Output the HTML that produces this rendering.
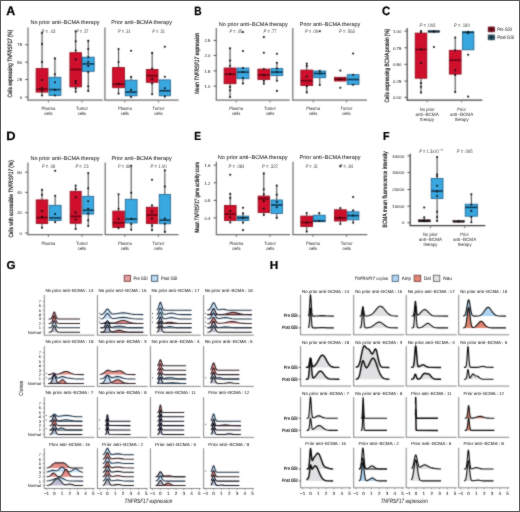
<!DOCTYPE html>
<html><head><meta charset="utf-8"><style>
html,body{margin:0;padding:0;background:#fff;}
body{width:520px;height:512px;overflow:hidden;}
svg{display:block;font-family:"Liberation Sans",sans-serif;text-rendering:geometricPrecision;}
text{stroke:#222;stroke-width:0.04px;paint-order:stroke;}
.pv{stroke:none;}
</style></head><body>
<svg width="520" height="512" viewBox="0 0 520 512">
<defs><filter id="soft" x="0" y="0" width="520" height="512" filterUnits="userSpaceOnUse" color-interpolation-filters="sRGB"><feConvolveMatrix order="3" kernelMatrix="0.04 0.08 0.04 0.08 0.52 0.08 0.04 0.08 0.04" edgeMode="duplicate" preserveAlpha="true"/></filter>
<filter id="softt" x="0" y="0" width="520" height="512" filterUnits="userSpaceOnUse" color-interpolation-filters="sRGB"><feConvolveMatrix order="3" kernelMatrix="0.025 0.05 0.025 0.05 0.7 0.05 0.025 0.05 0.025" edgeMode="none" preserveAlpha="false"/></filter></defs>
<g filter="url(#soft)">
<rect x="0" y="0" width="520" height="512" fill="#fff"/>
<line x1="28.00" y1="27.50" x2="28.00" y2="100.20" stroke="#6e6e6e" stroke-width="1.2" />
<line x1="27.40" y1="100.20" x2="102.80" y2="100.20" stroke="#6e6e6e" stroke-width="1.2" />
<line x1="104.90" y1="27.50" x2="104.90" y2="100.20" stroke="#6e6e6e" stroke-width="1.2" />
<line x1="104.30" y1="100.20" x2="178.70" y2="100.20" stroke="#6e6e6e" stroke-width="1.2" />
<line x1="25.20" y1="44.70" x2="28.00" y2="44.70" stroke="#444" stroke-width="0.9" />
<line x1="25.20" y1="62.20" x2="28.00" y2="62.20" stroke="#444" stroke-width="0.9" />
<line x1="25.20" y1="79.50" x2="28.00" y2="79.50" stroke="#444" stroke-width="0.9" />
<line x1="25.20" y1="97.10" x2="28.00" y2="97.10" stroke="#444" stroke-width="0.9" />
<line x1="48.40" y1="100.20" x2="48.40" y2="102.60" stroke="#6e6e6e" stroke-width="0.9" />
<line x1="82.00" y1="100.20" x2="82.00" y2="102.60" stroke="#6e6e6e" stroke-width="0.9" />
<line x1="124.80" y1="100.20" x2="124.80" y2="102.60" stroke="#6e6e6e" stroke-width="0.9" />
<line x1="158.40" y1="100.20" x2="158.40" y2="102.60" stroke="#6e6e6e" stroke-width="0.9" />
<line x1="42.05" y1="32.70" x2="42.05" y2="68.60" stroke="#2a2a2a" stroke-width="0.9" />
<line x1="42.05" y1="92.10" x2="42.05" y2="95.50" stroke="#2a2a2a" stroke-width="0.9" />
<rect x="36.10" y="68.60" width="11.90" height="23.50" fill="#cf0f2c" stroke="#8a0818" stroke-width="0.8" />
<line x1="36.10" y1="89.10" x2="48.00" y2="89.10" stroke="#6a0412" stroke-width="1.6" />
<circle cx="42.05" cy="32.70" r="1.05" fill="#111"/>
<circle cx="42.05" cy="44.10" r="1.05" fill="#111"/>
<circle cx="42.05" cy="62.10" r="1.05" fill="#111"/>
<circle cx="42.05" cy="80.00" r="1.05" fill="#111"/>
<circle cx="42.05" cy="88.00" r="1.05" fill="#111"/>
<circle cx="42.05" cy="91.00" r="1.05" fill="#111"/>
<circle cx="42.05" cy="95.50" r="1.05" fill="#111"/>
<line x1="54.95" y1="58.40" x2="54.95" y2="77.30" stroke="#2a2a2a" stroke-width="0.9" />
<line x1="54.95" y1="95.50" x2="54.95" y2="95.50" stroke="#2a2a2a" stroke-width="0.9" />
<rect x="49.00" y="77.30" width="11.90" height="18.20" fill="#3aa8e0" stroke="#1a5f8a" stroke-width="0.8" />
<line x1="49.00" y1="89.60" x2="60.90" y2="89.60" stroke="#0f3550" stroke-width="1.6" />
<circle cx="54.95" cy="58.40" r="1.05" fill="#111"/>
<circle cx="54.95" cy="74.30" r="1.05" fill="#111"/>
<circle cx="54.95" cy="82.20" r="1.05" fill="#111"/>
<circle cx="54.95" cy="89.90" r="1.05" fill="#111"/>
<circle cx="54.95" cy="95.50" r="1.05" fill="#111"/>
<line x1="75.70" y1="31.20" x2="75.70" y2="52.70" stroke="#2a2a2a" stroke-width="0.9" />
<line x1="75.70" y1="86.90" x2="75.70" y2="91.80" stroke="#2a2a2a" stroke-width="0.9" />
<rect x="69.90" y="52.70" width="11.60" height="34.20" fill="#cf0f2c" stroke="#8a0818" stroke-width="0.8" />
<line x1="69.90" y1="69.50" x2="81.50" y2="69.50" stroke="#6a0412" stroke-width="1.6" />
<circle cx="75.70" cy="31.20" r="1.05" fill="#111"/>
<circle cx="75.70" cy="41.20" r="1.05" fill="#111"/>
<circle cx="75.70" cy="50.50" r="1.05" fill="#111"/>
<circle cx="75.70" cy="59.40" r="1.05" fill="#111"/>
<circle cx="75.70" cy="81.00" r="1.05" fill="#111"/>
<circle cx="75.70" cy="83.20" r="1.05" fill="#111"/>
<circle cx="75.70" cy="88.40" r="1.05" fill="#111"/>
<circle cx="75.70" cy="91.80" r="1.05" fill="#111"/>
<line x1="88.25" y1="40.90" x2="88.25" y2="57.20" stroke="#2a2a2a" stroke-width="0.9" />
<line x1="88.25" y1="71.30" x2="88.25" y2="90.90" stroke="#2a2a2a" stroke-width="0.9" />
<rect x="82.30" y="57.20" width="11.90" height="14.10" fill="#3aa8e0" stroke="#1a5f8a" stroke-width="0.8" />
<line x1="82.30" y1="63.90" x2="94.20" y2="63.90" stroke="#0f3550" stroke-width="1.6" />
<circle cx="88.25" cy="40.90" r="1.05" fill="#111"/>
<circle cx="88.25" cy="49.00" r="1.05" fill="#111"/>
<circle cx="88.25" cy="57.20" r="1.05" fill="#111"/>
<circle cx="88.25" cy="61.70" r="1.05" fill="#111"/>
<circle cx="88.25" cy="66.10" r="1.05" fill="#111"/>
<circle cx="88.25" cy="72.00" r="1.05" fill="#111"/>
<circle cx="88.25" cy="86.20" r="1.05" fill="#111"/>
<circle cx="88.25" cy="90.90" r="1.05" fill="#111"/>
<line x1="118.55" y1="49.00" x2="118.55" y2="67.60" stroke="#2a2a2a" stroke-width="0.9" />
<line x1="118.55" y1="87.70" x2="118.55" y2="93.60" stroke="#2a2a2a" stroke-width="0.9" />
<rect x="112.60" y="67.60" width="11.90" height="20.10" fill="#cf0f2c" stroke="#8a0818" stroke-width="0.8" />
<line x1="112.60" y1="84.20" x2="124.50" y2="84.20" stroke="#6a0412" stroke-width="1.6" />
<circle cx="118.55" cy="49.00" r="1.05" fill="#111"/>
<circle cx="118.55" cy="62.10" r="1.05" fill="#111"/>
<circle cx="118.55" cy="84.00" r="1.05" fill="#111"/>
<circle cx="118.55" cy="93.60" r="1.05" fill="#111"/>
<line x1="131.10" y1="76.80" x2="131.10" y2="80.20" stroke="#2a2a2a" stroke-width="0.9" />
<line x1="131.10" y1="95.80" x2="131.10" y2="97.00" stroke="#2a2a2a" stroke-width="0.9" />
<rect x="125.20" y="80.20" width="11.80" height="15.60" fill="#3aa8e0" stroke="#1a5f8a" stroke-width="0.8" />
<line x1="125.20" y1="92.10" x2="137.00" y2="92.10" stroke="#0f3550" stroke-width="1.6" />
<circle cx="131.10" cy="50.80" r="1.05" fill="#111"/>
<circle cx="131.10" cy="76.80" r="1.05" fill="#111"/>
<circle cx="131.10" cy="89.90" r="1.05" fill="#111"/>
<circle cx="131.10" cy="97.00" r="1.05" fill="#111"/>
<line x1="152.15" y1="52.90" x2="152.15" y2="69.40" stroke="#2a2a2a" stroke-width="0.9" />
<line x1="152.15" y1="82.30" x2="152.15" y2="94.30" stroke="#2a2a2a" stroke-width="0.9" />
<rect x="146.30" y="69.40" width="11.70" height="12.90" fill="#cf0f2c" stroke="#8a0818" stroke-width="0.8" />
<line x1="146.30" y1="75.70" x2="158.00" y2="75.70" stroke="#6a0412" stroke-width="1.6" />
<circle cx="152.15" cy="52.90" r="1.05" fill="#111"/>
<circle cx="152.15" cy="68.50" r="1.05" fill="#111"/>
<circle cx="152.15" cy="79.10" r="1.05" fill="#111"/>
<circle cx="152.15" cy="83.50" r="1.05" fill="#111"/>
<circle cx="152.15" cy="94.30" r="1.05" fill="#111"/>
<line x1="164.85" y1="79.90" x2="164.85" y2="79.90" stroke="#2a2a2a" stroke-width="0.9" />
<line x1="164.85" y1="95.80" x2="164.85" y2="96.60" stroke="#2a2a2a" stroke-width="0.9" />
<rect x="159.20" y="79.90" width="11.30" height="15.90" fill="#3aa8e0" stroke="#1a5f8a" stroke-width="0.8" />
<line x1="159.20" y1="90.80" x2="170.50" y2="90.80" stroke="#0f3550" stroke-width="1.6" />
<circle cx="164.85" cy="46.80" r="1.05" fill="#111"/>
<circle cx="164.85" cy="76.80" r="1.05" fill="#111"/>
<circle cx="164.85" cy="88.20" r="1.05" fill="#111"/>
<circle cx="164.85" cy="96.60" r="1.05" fill="#111"/>
<line x1="216.30" y1="28.00" x2="216.30" y2="100.10" stroke="#6e6e6e" stroke-width="1.2" />
<line x1="215.70" y1="100.10" x2="289.80" y2="100.10" stroke="#6e6e6e" stroke-width="1.2" />
<line x1="292.80" y1="28.00" x2="292.80" y2="100.10" stroke="#6e6e6e" stroke-width="1.2" />
<line x1="292.20" y1="100.10" x2="366.90" y2="100.10" stroke="#6e6e6e" stroke-width="1.2" />
<line x1="213.50" y1="40.40" x2="216.30" y2="40.40" stroke="#444" stroke-width="0.9" />
<line x1="213.50" y1="55.50" x2="216.30" y2="55.50" stroke="#444" stroke-width="0.9" />
<line x1="213.50" y1="70.90" x2="216.30" y2="70.90" stroke="#444" stroke-width="0.9" />
<line x1="213.50" y1="86.10" x2="216.30" y2="86.10" stroke="#444" stroke-width="0.9" />
<line x1="236.20" y1="100.10" x2="236.20" y2="102.50" stroke="#6e6e6e" stroke-width="0.9" />
<line x1="270.10" y1="100.10" x2="270.10" y2="102.50" stroke="#6e6e6e" stroke-width="0.9" />
<line x1="313.20" y1="100.10" x2="313.20" y2="102.50" stroke="#6e6e6e" stroke-width="0.9" />
<line x1="346.40" y1="100.10" x2="346.40" y2="102.50" stroke="#6e6e6e" stroke-width="0.9" />
<line x1="230.05" y1="48.30" x2="230.05" y2="68.00" stroke="#2a2a2a" stroke-width="0.9" />
<line x1="230.05" y1="83.70" x2="230.05" y2="97.00" stroke="#2a2a2a" stroke-width="0.9" />
<rect x="224.10" y="68.00" width="11.90" height="15.70" fill="#cf0f2c" stroke="#8a0818" stroke-width="0.8" />
<line x1="224.10" y1="74.30" x2="236.00" y2="74.30" stroke="#6a0412" stroke-width="1.6" />
<circle cx="230.05" cy="48.30" r="1.05" fill="#111"/>
<circle cx="230.05" cy="60.50" r="1.05" fill="#111"/>
<circle cx="230.05" cy="65.80" r="1.05" fill="#111"/>
<circle cx="230.05" cy="74.00" r="1.05" fill="#111"/>
<circle cx="230.05" cy="86.90" r="1.05" fill="#111"/>
<circle cx="230.05" cy="90.20" r="1.05" fill="#111"/>
<circle cx="230.05" cy="97.00" r="1.05" fill="#111"/>
<line x1="242.95" y1="67.30" x2="242.95" y2="68.00" stroke="#2a2a2a" stroke-width="0.9" />
<line x1="242.95" y1="78.70" x2="242.95" y2="83.50" stroke="#2a2a2a" stroke-width="0.9" />
<rect x="237.00" y="68.00" width="11.90" height="10.70" fill="#3aa8e0" stroke="#1a5f8a" stroke-width="0.8" />
<line x1="237.00" y1="72.10" x2="248.90" y2="72.10" stroke="#0f3550" stroke-width="1.6" />
<circle cx="242.95" cy="32.00" r="1.05" fill="#111"/>
<circle cx="242.95" cy="51.00" r="1.05" fill="#111"/>
<circle cx="242.95" cy="68.00" r="1.05" fill="#111"/>
<circle cx="242.95" cy="72.00" r="1.05" fill="#111"/>
<circle cx="242.95" cy="78.00" r="1.05" fill="#111"/>
<circle cx="242.95" cy="83.50" r="1.05" fill="#111"/>
<line x1="263.85" y1="69.10" x2="263.85" y2="69.10" stroke="#2a2a2a" stroke-width="0.9" />
<line x1="263.85" y1="79.50" x2="263.85" y2="83.70" stroke="#2a2a2a" stroke-width="0.9" />
<rect x="257.90" y="69.10" width="11.90" height="10.40" fill="#cf0f2c" stroke="#8a0818" stroke-width="0.8" />
<line x1="257.90" y1="75.00" x2="269.80" y2="75.00" stroke="#6a0412" stroke-width="1.6" />
<circle cx="263.85" cy="37.10" r="1.05" fill="#111"/>
<circle cx="263.85" cy="52.70" r="1.05" fill="#111"/>
<circle cx="263.85" cy="69.10" r="1.05" fill="#111"/>
<circle cx="263.85" cy="75.00" r="1.05" fill="#111"/>
<circle cx="263.85" cy="81.00" r="1.05" fill="#111"/>
<circle cx="263.85" cy="83.70" r="1.05" fill="#111"/>
<line x1="276.90" y1="62.80" x2="276.90" y2="68.60" stroke="#2a2a2a" stroke-width="0.9" />
<line x1="276.90" y1="75.50" x2="276.90" y2="80.70" stroke="#2a2a2a" stroke-width="0.9" />
<rect x="271.00" y="68.60" width="11.80" height="6.90" fill="#3aa8e0" stroke="#1a5f8a" stroke-width="0.8" />
<line x1="271.00" y1="72.10" x2="282.80" y2="72.10" stroke="#0f3550" stroke-width="1.6" />
<circle cx="276.90" cy="53.80" r="1.05" fill="#111"/>
<circle cx="276.90" cy="62.80" r="1.05" fill="#111"/>
<circle cx="276.90" cy="68.60" r="1.05" fill="#111"/>
<circle cx="276.90" cy="72.10" r="1.05" fill="#111"/>
<circle cx="276.90" cy="80.70" r="1.05" fill="#111"/>
<circle cx="276.90" cy="90.90" r="1.05" fill="#111"/>
<line x1="306.75" y1="63.60" x2="306.75" y2="70.10" stroke="#2a2a2a" stroke-width="0.9" />
<line x1="306.75" y1="85.40" x2="306.75" y2="92.40" stroke="#2a2a2a" stroke-width="0.9" />
<rect x="300.80" y="70.10" width="11.90" height="15.30" fill="#cf0f2c" stroke="#8a0818" stroke-width="0.8" />
<line x1="300.80" y1="80.70" x2="312.70" y2="80.70" stroke="#6a0412" stroke-width="1.6" />
<circle cx="306.75" cy="63.60" r="1.05" fill="#111"/>
<circle cx="306.75" cy="66.10" r="1.05" fill="#111"/>
<circle cx="306.75" cy="76.50" r="1.05" fill="#111"/>
<circle cx="306.75" cy="86.20" r="1.05" fill="#111"/>
<circle cx="306.75" cy="92.40" r="1.05" fill="#111"/>
<line x1="319.75" y1="69.80" x2="319.75" y2="71.00" stroke="#2a2a2a" stroke-width="0.9" />
<line x1="319.75" y1="77.70" x2="319.75" y2="85.00" stroke="#2a2a2a" stroke-width="0.9" />
<rect x="313.80" y="71.00" width="11.90" height="6.70" fill="#3aa8e0" stroke="#1a5f8a" stroke-width="0.8" />
<line x1="313.80" y1="73.50" x2="325.70" y2="73.50" stroke="#0f3550" stroke-width="1.6" />
<circle cx="319.75" cy="31.20" r="1.05" fill="#111"/>
<circle cx="319.75" cy="71.00" r="1.05" fill="#111"/>
<circle cx="319.75" cy="73.50" r="1.05" fill="#111"/>
<circle cx="319.75" cy="85.00" r="1.05" fill="#111"/>
<line x1="340.30" y1="77.30" x2="340.30" y2="77.30" stroke="#2a2a2a" stroke-width="0.9" />
<line x1="340.30" y1="81.00" x2="340.30" y2="81.00" stroke="#2a2a2a" stroke-width="0.9" />
<rect x="334.50" y="77.30" width="11.60" height="3.70" fill="#cf0f2c" stroke="#8a0818" stroke-width="0.8" />
<line x1="334.50" y1="79.20" x2="346.10" y2="79.20" stroke="#6a0412" stroke-width="1.6" />
<circle cx="340.30" cy="70.60" r="1.05" fill="#111"/>
<circle cx="340.30" cy="79.20" r="1.05" fill="#111"/>
<circle cx="340.30" cy="87.70" r="1.05" fill="#111"/>
<line x1="353.10" y1="74.70" x2="353.10" y2="74.70" stroke="#2a2a2a" stroke-width="0.9" />
<line x1="353.10" y1="84.40" x2="353.10" y2="84.40" stroke="#2a2a2a" stroke-width="0.9" />
<rect x="347.20" y="74.70" width="11.80" height="9.70" fill="#3aa8e0" stroke="#1a5f8a" stroke-width="0.8" />
<line x1="347.20" y1="79.50" x2="359.00" y2="79.50" stroke="#0f3550" stroke-width="1.6" />
<circle cx="353.10" cy="53.50" r="1.05" fill="#111"/>
<circle cx="353.10" cy="74.70" r="1.05" fill="#111"/>
<circle cx="353.10" cy="84.70" r="1.05" fill="#111"/>
<line x1="407.20" y1="27.90" x2="407.20" y2="100.20" stroke="#444" stroke-width="1.2" />
<line x1="406.60" y1="100.20" x2="482.30" y2="100.20" stroke="#444" stroke-width="1.2" />
<line x1="404.40" y1="31.10" x2="407.20" y2="31.10" stroke="#444" stroke-width="0.9" />
<line x1="404.40" y1="47.80" x2="407.20" y2="47.80" stroke="#444" stroke-width="0.9" />
<line x1="404.40" y1="64.40" x2="407.20" y2="64.40" stroke="#444" stroke-width="0.9" />
<line x1="404.40" y1="81.10" x2="407.20" y2="81.10" stroke="#444" stroke-width="0.9" />
<line x1="404.40" y1="97.40" x2="407.20" y2="97.40" stroke="#444" stroke-width="0.9" />
<line x1="427.10" y1="100.00" x2="427.10" y2="102.40" stroke="#6e6e6e" stroke-width="0.9" />
<line x1="461.60" y1="100.00" x2="461.60" y2="102.40" stroke="#6e6e6e" stroke-width="0.9" />
<line x1="421.00" y1="31.10" x2="421.00" y2="33.10" stroke="#2a2a2a" stroke-width="0.9" />
<line x1="421.00" y1="78.20" x2="421.00" y2="92.60" stroke="#2a2a2a" stroke-width="0.9" />
<rect x="415.20" y="33.10" width="11.60" height="45.10" fill="#cf0f2c" stroke="#8a0818" stroke-width="0.8" />
<line x1="415.20" y1="49.50" x2="426.80" y2="49.50" stroke="#6a0412" stroke-width="1.6" />
<circle cx="421.00" cy="31.10" r="1.05" fill="#111"/>
<circle cx="421.00" cy="32.00" r="1.05" fill="#111"/>
<circle cx="421.00" cy="49.20" r="1.05" fill="#111"/>
<circle cx="421.00" cy="63.00" r="1.05" fill="#111"/>
<circle cx="421.00" cy="83.10" r="1.05" fill="#111"/>
<circle cx="421.00" cy="86.70" r="1.05" fill="#111"/>
<circle cx="421.00" cy="92.60" r="1.05" fill="#111"/>
<rect x="428.00" y="30.60" width="11.80" height="1.80" fill="#0d2535" stroke="#0d2535" stroke-width="0.4" />
<circle cx="433.90" cy="31.50" r="1.2" fill="#111"/>
<circle cx="433.90" cy="47.00" r="1.05" fill="#111"/>
<line x1="455.20" y1="37.50" x2="455.20" y2="50.30" stroke="#2a2a2a" stroke-width="0.9" />
<line x1="455.20" y1="74.10" x2="455.20" y2="92.10" stroke="#2a2a2a" stroke-width="0.9" />
<rect x="449.30" y="50.30" width="11.80" height="23.80" fill="#cf0f2c" stroke="#8a0818" stroke-width="0.8" />
<line x1="449.30" y1="60.20" x2="461.10" y2="60.20" stroke="#6a0412" stroke-width="1.6" />
<circle cx="455.20" cy="37.50" r="1.05" fill="#111"/>
<circle cx="455.20" cy="50.30" r="1.05" fill="#111"/>
<circle cx="455.20" cy="70.30" r="1.05" fill="#111"/>
<circle cx="455.20" cy="74.90" r="1.05" fill="#111"/>
<circle cx="455.20" cy="92.10" r="1.05" fill="#111"/>
<line x1="468.15" y1="31.80" x2="468.15" y2="31.80" stroke="#2a2a2a" stroke-width="0.9" />
<line x1="468.15" y1="49.80" x2="468.15" y2="49.80" stroke="#2a2a2a" stroke-width="0.9" />
<rect x="462.40" y="31.80" width="11.50" height="18.00" fill="#3aa8e0" stroke="#1a5f8a" stroke-width="0.8" />
<line x1="462.40" y1="32.30" x2="473.90" y2="32.30" stroke="#0f3550" stroke-width="1.6" />
<circle cx="468.15" cy="33.10" r="1.05" fill="#111"/>
<circle cx="468.15" cy="31.80" r="1.05" fill="#111"/>
<circle cx="468.15" cy="54.80" r="1.05" fill="#111"/>
<circle cx="468.15" cy="96.60" r="1.05" fill="#111"/>
<rect x="488.20" y="27.00" width="6.30" height="4.80" fill="#8c1424" stroke="#5a0a14" stroke-width="0.7" />
<line x1="491.35" y1="26.60" x2="491.35" y2="32.20" stroke="#300" stroke-width="0.6" />
<line x1="488.20" y1="29.40" x2="494.50" y2="29.40" stroke="#4a0610" stroke-width="1.0" />
<rect x="488.20" y="35.00" width="6.30" height="4.80" fill="#2f6678" stroke="#183848" stroke-width="0.7" />
<line x1="491.35" y1="34.60" x2="491.35" y2="40.20" stroke="#0a1a22" stroke-width="0.6" />
<line x1="488.20" y1="37.40" x2="494.50" y2="37.40" stroke="#0f2a38" stroke-width="1.0" />
<circle cx="491.35" cy="37.40" r="0.8" fill="#111"/>
<line x1="27.90" y1="162.60" x2="27.90" y2="234.70" stroke="#6e6e6e" stroke-width="1.2" />
<line x1="27.30" y1="234.70" x2="102.80" y2="234.70" stroke="#6e6e6e" stroke-width="1.2" />
<line x1="105.20" y1="162.60" x2="105.20" y2="234.70" stroke="#6e6e6e" stroke-width="1.2" />
<line x1="104.60" y1="234.70" x2="178.50" y2="234.70" stroke="#6e6e6e" stroke-width="1.2" />
<line x1="25.10" y1="172.20" x2="27.90" y2="172.20" stroke="#444" stroke-width="0.9" />
<line x1="25.10" y1="192.40" x2="27.90" y2="192.40" stroke="#444" stroke-width="0.9" />
<line x1="25.10" y1="212.70" x2="27.90" y2="212.70" stroke="#444" stroke-width="0.9" />
<line x1="25.10" y1="233.00" x2="27.90" y2="233.00" stroke="#444" stroke-width="0.9" />
<line x1="48.40" y1="234.70" x2="48.40" y2="237.10" stroke="#6e6e6e" stroke-width="0.9" />
<line x1="82.00" y1="234.70" x2="82.00" y2="237.10" stroke="#6e6e6e" stroke-width="0.9" />
<line x1="124.80" y1="234.70" x2="124.80" y2="237.10" stroke="#6e6e6e" stroke-width="0.9" />
<line x1="158.40" y1="234.70" x2="158.40" y2="237.10" stroke="#6e6e6e" stroke-width="0.9" />
<line x1="42.00" y1="189.70" x2="42.00" y2="199.90" stroke="#2a2a2a" stroke-width="0.9" />
<line x1="42.00" y1="223.60" x2="42.00" y2="227.80" stroke="#2a2a2a" stroke-width="0.9" />
<rect x="36.20" y="199.90" width="11.60" height="23.70" fill="#cf0f2c" stroke="#8a0818" stroke-width="0.8" />
<line x1="36.20" y1="217.60" x2="47.80" y2="217.60" stroke="#6a0412" stroke-width="1.6" />
<circle cx="42.00" cy="189.70" r="1.05" fill="#111"/>
<circle cx="42.00" cy="194.80" r="1.05" fill="#111"/>
<circle cx="42.00" cy="211.10" r="1.05" fill="#111"/>
<circle cx="42.00" cy="216.70" r="1.05" fill="#111"/>
<circle cx="42.00" cy="227.80" r="1.05" fill="#111"/>
<line x1="55.15" y1="195.80" x2="55.15" y2="205.30" stroke="#2a2a2a" stroke-width="0.9" />
<line x1="55.15" y1="220.50" x2="55.15" y2="222.20" stroke="#2a2a2a" stroke-width="0.9" />
<rect x="49.20" y="205.30" width="11.90" height="15.20" fill="#3aa8e0" stroke="#1a5f8a" stroke-width="0.8" />
<line x1="49.20" y1="217.90" x2="61.10" y2="217.90" stroke="#0f3550" stroke-width="1.6" />
<circle cx="55.15" cy="170.70" r="1.05" fill="#111"/>
<circle cx="55.15" cy="195.80" r="1.05" fill="#111"/>
<circle cx="55.15" cy="214.10" r="1.05" fill="#111"/>
<circle cx="55.15" cy="222.20" r="1.05" fill="#111"/>
<line x1="75.65" y1="185.60" x2="75.65" y2="191.30" stroke="#2a2a2a" stroke-width="0.9" />
<line x1="75.65" y1="223.30" x2="75.65" y2="229.00" stroke="#2a2a2a" stroke-width="0.9" />
<rect x="70.10" y="191.30" width="11.10" height="32.00" fill="#cf0f2c" stroke="#8a0818" stroke-width="0.8" />
<line x1="70.10" y1="216.40" x2="81.20" y2="216.40" stroke="#6a0412" stroke-width="1.6" />
<circle cx="75.65" cy="185.60" r="1.05" fill="#111"/>
<circle cx="75.65" cy="189.00" r="1.05" fill="#111"/>
<circle cx="75.65" cy="197.30" r="1.05" fill="#111"/>
<circle cx="75.65" cy="212.60" r="1.05" fill="#111"/>
<circle cx="75.65" cy="219.50" r="1.05" fill="#111"/>
<circle cx="75.65" cy="229.00" r="1.05" fill="#111"/>
<line x1="88.22" y1="173.00" x2="88.22" y2="196.30" stroke="#2a2a2a" stroke-width="0.9" />
<line x1="88.22" y1="214.10" x2="88.22" y2="226.00" stroke="#2a2a2a" stroke-width="0.9" />
<rect x="82.75" y="196.30" width="10.95" height="17.80" fill="#3aa8e0" stroke="#1a5f8a" stroke-width="0.8" />
<line x1="82.75" y1="210.30" x2="93.70" y2="210.30" stroke="#0f3550" stroke-width="1.6" />
<circle cx="88.22" cy="173.00" r="1.05" fill="#111"/>
<circle cx="88.22" cy="188.20" r="1.05" fill="#111"/>
<circle cx="88.22" cy="201.20" r="1.05" fill="#111"/>
<circle cx="88.22" cy="208.80" r="1.05" fill="#111"/>
<circle cx="88.22" cy="213.40" r="1.05" fill="#111"/>
<circle cx="88.22" cy="220.20" r="1.05" fill="#111"/>
<circle cx="88.22" cy="226.00" r="1.05" fill="#111"/>
<line x1="118.55" y1="194.30" x2="118.55" y2="211.10" stroke="#2a2a2a" stroke-width="0.9" />
<line x1="118.55" y1="227.40" x2="118.55" y2="228.10" stroke="#2a2a2a" stroke-width="0.9" />
<rect x="112.80" y="211.10" width="11.50" height="16.30" fill="#cf0f2c" stroke="#8a0818" stroke-width="0.8" />
<line x1="112.80" y1="222.80" x2="124.30" y2="222.80" stroke="#6a0412" stroke-width="1.6" />
<circle cx="118.55" cy="194.30" r="1.05" fill="#111"/>
<circle cx="118.55" cy="208.80" r="1.05" fill="#111"/>
<circle cx="118.55" cy="218.70" r="1.05" fill="#111"/>
<circle cx="118.55" cy="228.10" r="1.05" fill="#111"/>
<line x1="131.20" y1="165.80" x2="131.20" y2="199.30" stroke="#2a2a2a" stroke-width="0.9" />
<line x1="131.20" y1="223.00" x2="131.20" y2="229.80" stroke="#2a2a2a" stroke-width="0.9" />
<rect x="125.30" y="199.30" width="11.80" height="23.70" fill="#3aa8e0" stroke="#1a5f8a" stroke-width="0.8" />
<line x1="125.30" y1="219.10" x2="137.10" y2="219.10" stroke="#0f3550" stroke-width="1.6" />
<circle cx="131.20" cy="165.80" r="1.05" fill="#111"/>
<circle cx="131.20" cy="192.80" r="1.05" fill="#111"/>
<circle cx="131.20" cy="218.70" r="1.05" fill="#111"/>
<circle cx="131.20" cy="224.00" r="1.05" fill="#111"/>
<circle cx="131.20" cy="229.80" r="1.05" fill="#111"/>
<line x1="152.00" y1="205.30" x2="152.00" y2="207.20" stroke="#2a2a2a" stroke-width="0.9" />
<line x1="152.00" y1="223.60" x2="152.00" y2="230.30" stroke="#2a2a2a" stroke-width="0.9" />
<rect x="146.30" y="207.20" width="11.40" height="16.40" fill="#cf0f2c" stroke="#8a0818" stroke-width="0.8" />
<line x1="146.30" y1="215.00" x2="157.70" y2="215.00" stroke="#6a0412" stroke-width="1.6" />
<circle cx="152.00" cy="179.80" r="1.05" fill="#111"/>
<circle cx="152.00" cy="205.30" r="1.05" fill="#111"/>
<circle cx="152.00" cy="211.60" r="1.05" fill="#111"/>
<circle cx="152.00" cy="218.60" r="1.05" fill="#111"/>
<circle cx="152.00" cy="225.60" r="1.05" fill="#111"/>
<circle cx="152.00" cy="230.30" r="1.05" fill="#111"/>
<line x1="164.85" y1="170.20" x2="164.85" y2="194.40" stroke="#2a2a2a" stroke-width="0.9" />
<line x1="164.85" y1="223.75" x2="164.85" y2="231.90" stroke="#2a2a2a" stroke-width="0.9" />
<rect x="159.20" y="194.40" width="11.30" height="29.35" fill="#3aa8e0" stroke="#1a5f8a" stroke-width="0.8" />
<line x1="159.20" y1="220.20" x2="170.50" y2="220.20" stroke="#0f3550" stroke-width="1.6" />
<circle cx="164.85" cy="170.20" r="1.05" fill="#111"/>
<circle cx="164.85" cy="186.60" r="1.05" fill="#111"/>
<circle cx="164.85" cy="218.60" r="1.05" fill="#111"/>
<circle cx="164.85" cy="223.70" r="1.05" fill="#111"/>
<circle cx="164.85" cy="231.90" r="1.05" fill="#111"/>
<line x1="216.40" y1="161.70" x2="216.40" y2="234.70" stroke="#6e6e6e" stroke-width="1.2" />
<line x1="215.80" y1="234.70" x2="290.10" y2="234.70" stroke="#6e6e6e" stroke-width="1.2" />
<line x1="293.00" y1="161.70" x2="293.00" y2="234.70" stroke="#6e6e6e" stroke-width="1.2" />
<line x1="292.40" y1="234.70" x2="367.30" y2="234.70" stroke="#6e6e6e" stroke-width="1.2" />
<line x1="213.60" y1="165.20" x2="216.40" y2="165.20" stroke="#444" stroke-width="0.9" />
<line x1="213.60" y1="182.80" x2="216.40" y2="182.80" stroke="#444" stroke-width="0.9" />
<line x1="213.60" y1="200.40" x2="216.40" y2="200.40" stroke="#444" stroke-width="0.9" />
<line x1="213.60" y1="217.90" x2="216.40" y2="217.90" stroke="#444" stroke-width="0.9" />
<line x1="236.40" y1="234.70" x2="236.40" y2="237.10" stroke="#6e6e6e" stroke-width="0.9" />
<line x1="270.10" y1="234.70" x2="270.10" y2="237.10" stroke="#6e6e6e" stroke-width="0.9" />
<line x1="313.00" y1="234.70" x2="313.00" y2="237.10" stroke="#6e6e6e" stroke-width="0.9" />
<line x1="346.60" y1="234.70" x2="346.60" y2="237.10" stroke="#6e6e6e" stroke-width="0.9" />
<line x1="230.25" y1="193.80" x2="230.25" y2="205.40" stroke="#2a2a2a" stroke-width="0.9" />
<line x1="230.25" y1="220.50" x2="230.25" y2="222.50" stroke="#2a2a2a" stroke-width="0.9" />
<rect x="224.40" y="205.40" width="11.70" height="15.10" fill="#cf0f2c" stroke="#8a0818" stroke-width="0.8" />
<line x1="224.40" y1="214.10" x2="236.10" y2="214.10" stroke="#6a0412" stroke-width="1.6" />
<circle cx="230.25" cy="174.80" r="1.05" fill="#111"/>
<circle cx="230.25" cy="193.80" r="1.05" fill="#111"/>
<circle cx="230.25" cy="198.10" r="1.05" fill="#111"/>
<circle cx="230.25" cy="211.10" r="1.05" fill="#111"/>
<circle cx="230.25" cy="217.20" r="1.05" fill="#111"/>
<circle cx="230.25" cy="222.50" r="1.05" fill="#111"/>
<line x1="243.00" y1="213.40" x2="243.00" y2="216.10" stroke="#2a2a2a" stroke-width="0.9" />
<line x1="243.00" y1="220.50" x2="243.00" y2="222.80" stroke="#2a2a2a" stroke-width="0.9" />
<rect x="237.20" y="216.10" width="11.60" height="4.40" fill="#3aa8e0" stroke="#1a5f8a" stroke-width="0.8" />
<line x1="237.20" y1="217.90" x2="248.80" y2="217.90" stroke="#0f3550" stroke-width="1.6" />
<circle cx="243.00" cy="207.70" r="1.05" fill="#111"/>
<circle cx="243.00" cy="213.40" r="1.05" fill="#111"/>
<circle cx="243.00" cy="217.90" r="1.05" fill="#111"/>
<circle cx="243.00" cy="222.80" r="1.05" fill="#111"/>
<circle cx="243.00" cy="230.10" r="1.05" fill="#111"/>
<line x1="263.80" y1="173.40" x2="263.80" y2="196.10" stroke="#2a2a2a" stroke-width="0.9" />
<line x1="263.80" y1="212.60" x2="263.80" y2="214.90" stroke="#2a2a2a" stroke-width="0.9" />
<rect x="258.10" y="196.10" width="11.40" height="16.50" fill="#cf0f2c" stroke="#8a0818" stroke-width="0.8" />
<line x1="258.10" y1="198.60" x2="269.50" y2="198.60" stroke="#6a0412" stroke-width="1.6" />
<circle cx="263.80" cy="173.40" r="1.05" fill="#111"/>
<circle cx="263.80" cy="189.30" r="1.05" fill="#111"/>
<circle cx="263.80" cy="194.30" r="1.05" fill="#111"/>
<circle cx="263.80" cy="200.90" r="1.05" fill="#111"/>
<circle cx="263.80" cy="208.80" r="1.05" fill="#111"/>
<circle cx="263.80" cy="214.90" r="1.05" fill="#111"/>
<line x1="276.75" y1="185.60" x2="276.75" y2="200.00" stroke="#2a2a2a" stroke-width="0.9" />
<line x1="276.75" y1="213.40" x2="276.75" y2="217.90" stroke="#2a2a2a" stroke-width="0.9" />
<rect x="271.00" y="200.00" width="11.50" height="13.40" fill="#3aa8e0" stroke="#1a5f8a" stroke-width="0.8" />
<line x1="271.00" y1="205.00" x2="282.50" y2="205.00" stroke="#0f3550" stroke-width="1.6" />
<circle cx="276.75" cy="185.60" r="1.05" fill="#111"/>
<circle cx="276.75" cy="194.80" r="1.05" fill="#111"/>
<circle cx="276.75" cy="201.90" r="1.05" fill="#111"/>
<circle cx="276.75" cy="207.30" r="1.05" fill="#111"/>
<circle cx="276.75" cy="217.90" r="1.05" fill="#111"/>
<line x1="306.70" y1="213.00" x2="306.70" y2="216.10" stroke="#2a2a2a" stroke-width="0.9" />
<line x1="306.70" y1="226.60" x2="306.70" y2="231.60" stroke="#2a2a2a" stroke-width="0.9" />
<rect x="300.80" y="216.10" width="11.80" height="10.50" fill="#cf0f2c" stroke="#8a0818" stroke-width="0.8" />
<line x1="300.80" y1="222.50" x2="312.60" y2="222.50" stroke="#6a0412" stroke-width="1.6" />
<circle cx="306.70" cy="213.00" r="1.05" fill="#111"/>
<circle cx="306.70" cy="222.50" r="1.05" fill="#111"/>
<circle cx="306.70" cy="231.60" r="1.05" fill="#111"/>
<line x1="319.25" y1="213.00" x2="319.25" y2="215.20" stroke="#2a2a2a" stroke-width="0.9" />
<line x1="319.25" y1="221.70" x2="319.25" y2="221.70" stroke="#2a2a2a" stroke-width="0.9" />
<rect x="313.30" y="215.20" width="11.90" height="6.50" fill="#3aa8e0" stroke="#1a5f8a" stroke-width="0.8" />
<line x1="313.30" y1="221.00" x2="325.20" y2="221.00" stroke="#0f3550" stroke-width="1.6" />
<circle cx="319.25" cy="213.00" r="1.05" fill="#111"/>
<circle cx="319.25" cy="221.00" r="1.05" fill="#111"/>
<line x1="340.35" y1="208.00" x2="340.35" y2="209.80" stroke="#2a2a2a" stroke-width="0.9" />
<line x1="340.35" y1="221.00" x2="340.35" y2="224.00" stroke="#2a2a2a" stroke-width="0.9" />
<rect x="334.40" y="209.80" width="11.90" height="11.20" fill="#cf0f2c" stroke="#8a0818" stroke-width="0.8" />
<line x1="334.40" y1="217.90" x2="346.30" y2="217.90" stroke="#6a0412" stroke-width="1.6" />
<circle cx="340.35" cy="166.10" r="1.05" fill="#111"/>
<circle cx="340.35" cy="208.00" r="1.05" fill="#111"/>
<circle cx="340.35" cy="217.90" r="1.05" fill="#111"/>
<circle cx="340.35" cy="224.00" r="1.05" fill="#111"/>
<line x1="353.15" y1="210.30" x2="353.15" y2="211.80" stroke="#2a2a2a" stroke-width="0.9" />
<line x1="353.15" y1="219.80" x2="353.15" y2="222.80" stroke="#2a2a2a" stroke-width="0.9" />
<rect x="347.40" y="211.80" width="11.50" height="8.00" fill="#3aa8e0" stroke="#1a5f8a" stroke-width="0.8" />
<line x1="347.40" y1="215.60" x2="358.90" y2="215.60" stroke="#0f3550" stroke-width="1.6" />
<circle cx="353.15" cy="197.00" r="1.05" fill="#111"/>
<circle cx="353.15" cy="210.30" r="1.05" fill="#111"/>
<circle cx="353.15" cy="215.60" r="1.05" fill="#111"/>
<circle cx="353.15" cy="222.80" r="1.05" fill="#111"/>
<line x1="410.20" y1="153.80" x2="410.20" y2="225.60" stroke="#3a3a3a" stroke-width="1.2" />
<line x1="409.60" y1="225.60" x2="485.20" y2="225.60" stroke="#3a3a3a" stroke-width="1.2" />
<line x1="407.40" y1="155.90" x2="410.20" y2="155.90" stroke="#444" stroke-width="0.9" />
<line x1="407.40" y1="172.60" x2="410.20" y2="172.60" stroke="#444" stroke-width="0.9" />
<line x1="407.40" y1="189.50" x2="410.20" y2="189.50" stroke="#444" stroke-width="0.9" />
<line x1="407.40" y1="206.20" x2="410.20" y2="206.20" stroke="#444" stroke-width="0.9" />
<line x1="407.40" y1="222.70" x2="410.20" y2="222.70" stroke="#444" stroke-width="0.9" />
<line x1="430.40" y1="225.80" x2="430.40" y2="228.20" stroke="#6e6e6e" stroke-width="0.9" />
<line x1="464.60" y1="225.80" x2="464.60" y2="228.20" stroke="#6e6e6e" stroke-width="0.9" />
<line x1="424.20" y1="217.30" x2="424.20" y2="220.80" stroke="#222" stroke-width="0.9" />
<rect x="418.30" y="219.80" width="12.20" height="2.10" fill="#1a0508" stroke="#120306" stroke-width="0.4" />
<circle cx="424.20" cy="217.30" r="1.05" fill="#111"/>
<circle cx="424.20" cy="207.50" r="1.05" fill="#111"/>
<circle cx="424.20" cy="220.90" r="1.3" fill="#111"/>
<line x1="437.10" y1="157.00" x2="437.10" y2="178.40" stroke="#2a2a2a" stroke-width="0.9" />
<line x1="437.10" y1="198.60" x2="437.10" y2="220.90" stroke="#2a2a2a" stroke-width="0.9" />
<rect x="431.20" y="178.40" width="11.80" height="20.20" fill="#3aa8e0" stroke="#1a5f8a" stroke-width="0.8" />
<line x1="431.20" y1="191.00" x2="443.00" y2="191.00" stroke="#0f3550" stroke-width="1.6" />
<circle cx="437.10" cy="157.00" r="1.05" fill="#111"/>
<circle cx="437.10" cy="174.50" r="1.05" fill="#111"/>
<circle cx="437.10" cy="176.30" r="1.05" fill="#111"/>
<circle cx="437.10" cy="185.80" r="1.05" fill="#111"/>
<circle cx="437.10" cy="191.60" r="1.05" fill="#111"/>
<circle cx="437.10" cy="196.00" r="1.05" fill="#111"/>
<circle cx="437.10" cy="211.80" r="1.05" fill="#111"/>
<circle cx="437.10" cy="217.00" r="1.05" fill="#111"/>
<circle cx="437.10" cy="220.90" r="1.05" fill="#111"/>
<rect x="452.90" y="220.50" width="11.60" height="1.70" fill="#1a0508" stroke="#120306" stroke-width="0.4" />
<circle cx="458.60" cy="221.30" r="1.3" fill="#111"/>
<line x1="471.35" y1="194.20" x2="471.35" y2="204.20" stroke="#2a2a2a" stroke-width="0.9" />
<line x1="471.35" y1="216.20" x2="471.35" y2="222.30" stroke="#2a2a2a" stroke-width="0.9" />
<rect x="465.20" y="204.20" width="12.30" height="12.00" fill="#3aa8e0" stroke="#1a5f8a" stroke-width="0.8" />
<line x1="465.20" y1="207.40" x2="477.50" y2="207.40" stroke="#0f3550" stroke-width="1.6" />
<circle cx="471.35" cy="194.20" r="1.05" fill="#111"/>
<circle cx="471.35" cy="204.80" r="1.05" fill="#111"/>
<circle cx="471.35" cy="210.90" r="1.05" fill="#111"/>
<circle cx="471.35" cy="217.00" r="1.05" fill="#111"/>
<circle cx="471.35" cy="222.30" r="1.05" fill="#111"/>
<rect x="124.20" y="275.30" width="6.20" height="6.00" fill="rgba(210,100,105,0.62)" stroke="#6a2a2a" stroke-width="0.8" />
<rect x="151.60" y="275.30" width="6.20" height="6.00" fill="rgba(170,210,240,0.8)" stroke="#2a3f58" stroke-width="0.8" />
<line x1="44.30" y1="294.90" x2="44.30" y2="335.20" stroke="#7a7a7a" stroke-width="0.9"/>
<line x1="43.85" y1="335.20" x2="94.60" y2="335.20" stroke="#7a7a7a" stroke-width="0.9"/>
<line x1="42.70" y1="332.20" x2="44.30" y2="332.20" stroke="#7a7a7a" stroke-width="0.7"/>
<line x1="42.70" y1="327.81" x2="44.30" y2="327.81" stroke="#7a7a7a" stroke-width="0.7"/>
<line x1="42.70" y1="323.42" x2="44.30" y2="323.42" stroke="#7a7a7a" stroke-width="0.7"/>
<line x1="42.70" y1="319.03" x2="44.30" y2="319.03" stroke="#7a7a7a" stroke-width="0.7"/>
<line x1="42.70" y1="314.64" x2="44.30" y2="314.64" stroke="#7a7a7a" stroke-width="0.7"/>
<line x1="42.70" y1="310.25" x2="44.30" y2="310.25" stroke="#7a7a7a" stroke-width="0.7"/>
<line x1="42.70" y1="305.86" x2="44.30" y2="305.86" stroke="#7a7a7a" stroke-width="0.7"/>
<line x1="42.70" y1="301.47" x2="44.30" y2="301.47" stroke="#7a7a7a" stroke-width="0.7"/>
<path d="M48.6 319.0 L48.61 319.03 L50.53 318.91 L51.08 318.66 L51.52 318.25 L51.92 317.64 L52.29 316.80 L53.68 312.76 L53.99 312.22 L54.31 312.03 L54.62 312.23 L54.98 312.88 L56.15 316.39 L56.72 317.70 L57.32 318.51 L58.06 318.90 L59.67 319.03 L80.04 319.03 L80.0 319.0 Z" fill="rgba(215,90,80,0.68)" stroke="none"/>
<path d="M48.61 319.03 L50.53 318.91 L51.08 318.66 L51.52 318.25 L51.92 317.64 L52.29 316.80 L53.68 312.76 L53.99 312.22 L54.31 312.03 L54.62 312.23 L54.98 312.88 L56.15 316.39 L56.72 317.70 L57.32 318.51 L58.06 318.90 L59.67 319.03 L80.04 319.03" fill="none" stroke="#2a1c24" stroke-width="1.05" stroke-linejoin="round"/>
<path d="M48.6 323.4 L48.61 323.42 L50.53 323.29 L51.08 323.03 L51.52 322.59 L51.92 321.93 L52.29 321.03 L53.68 316.70 L53.99 316.12 L54.31 315.92 L54.62 316.14 L54.98 316.84 L56.15 320.59 L56.72 321.99 L57.32 322.86 L58.06 323.28 L59.67 323.42 L80.04 323.42 L80.0 323.4 Z" fill="rgba(215,90,80,0.68)" stroke="none"/>
<path d="M48.61 323.42 L50.53 323.29 L51.08 323.03 L51.52 322.59 L51.92 321.93 L52.29 321.03 L53.68 316.70 L53.99 316.12 L54.31 315.92 L54.62 316.14 L54.98 316.84 L56.15 320.59 L56.72 321.99 L57.32 322.86 L58.06 323.28 L59.67 323.42 L80.04 323.42" fill="none" stroke="#2a1c24" stroke-width="1.05" stroke-linejoin="round"/>
<path d="M48.6 327.8 L48.61 327.81 L50.53 327.69 L51.08 327.44 L51.52 327.03 L51.92 326.42 L52.29 325.58 L53.68 321.54 L53.99 321.00 L54.31 320.81 L54.62 321.01 L54.98 321.66 L56.15 325.17 L56.72 326.48 L57.32 327.29 L58.06 327.68 L59.67 327.81 L80.04 327.81 L80.0 327.8 Z" fill="rgba(175,212,240,0.65)" stroke="none"/>
<path d="M48.61 327.81 L50.53 327.69 L51.08 327.44 L51.52 327.03 L51.92 326.42 L52.29 325.58 L53.68 321.54 L53.99 321.00 L54.31 320.81 L54.62 321.01 L54.98 321.66 L56.15 325.17 L56.72 326.48 L57.32 327.29 L58.06 327.68 L59.67 327.81 L80.04 327.81" fill="none" stroke="#1a2c40" stroke-width="1.05" stroke-linejoin="round"/>
<path d="M48.6 332.2 L48.61 332.20 L50.53 332.08 L51.08 331.86 L51.52 331.48 L51.92 330.91 L52.29 330.13 L53.68 326.38 L53.99 325.87 L54.31 325.70 L54.62 325.89 L54.98 326.49 L56.15 329.74 L56.72 330.96 L57.32 331.72 L58.06 332.08 L59.67 332.20 L80.04 332.20 L80.0 332.2 Z" fill="rgba(165,160,188,0.7)" stroke="none"/>
<path d="M48.61 332.20 L50.53 332.08 L51.08 331.86 L51.52 331.48 L51.92 330.91 L52.29 330.13 L53.68 326.38 L53.99 325.87 L54.31 325.70 L54.62 325.89 L54.98 326.49 L56.15 329.74 L56.72 330.96 L57.32 331.72 L58.06 332.08 L59.67 332.20 L80.04 332.20" fill="none" stroke="#1a1a1a" stroke-width="1.05" stroke-linejoin="round"/>
<line x1="97.40" y1="294.90" x2="97.40" y2="335.20" stroke="#7a7a7a" stroke-width="0.9"/>
<line x1="96.95" y1="335.20" x2="147.70" y2="335.20" stroke="#7a7a7a" stroke-width="0.9"/>
<path d="M100.4 314.6 L100.38 314.61 L102.04 314.37 L102.67 314.11 L103.24 313.74 L104.27 312.67 L106.33 309.75 L106.90 309.26 L107.42 309.11 L107.93 309.26 L108.50 309.74 L110.39 312.36 L111.19 313.25 L111.99 313.80 L112.91 314.08 L114.59 314.07 L120.40 313.03 L123.29 312.84 L125.75 313.05 L131.04 314.03 L133.90 314.39 L137.47 314.59 L143.28 314.64 L143.3 314.6 Z" fill="rgba(175,212,240,0.65)" stroke="none"/>
<path d="M100.38 314.61 L102.04 314.37 L102.67 314.11 L103.24 313.74 L104.27 312.67 L106.33 309.75 L106.90 309.26 L107.42 309.11 L107.93 309.26 L108.50 309.74 L110.39 312.36 L111.19 313.25 L111.99 313.80 L112.91 314.08 L114.59 314.07 L120.40 313.03 L123.29 312.84 L125.75 313.05 L131.04 314.03 L133.90 314.39 L137.47 314.59 L143.28 314.64" fill="none" stroke="#1a2c40" stroke-width="1.05" stroke-linejoin="round"/>
<path d="M100.4 319.0 L100.38 319.00 L102.04 318.76 L102.67 318.50 L103.24 318.13 L104.27 317.06 L106.33 314.14 L106.90 313.65 L107.42 313.50 L107.93 313.65 L108.50 314.13 L110.39 316.75 L111.19 317.64 L111.99 318.19 L112.91 318.47 L114.59 318.46 L120.40 317.42 L123.29 317.23 L125.75 317.44 L131.04 318.42 L133.90 318.78 L137.47 318.98 L143.28 319.03 L143.3 319.0 Z" fill="rgba(175,212,240,0.65)" stroke="none"/>
<path d="M100.38 319.00 L102.04 318.76 L102.67 318.50 L103.24 318.13 L104.27 317.06 L106.33 314.14 L106.90 313.65 L107.42 313.50 L107.93 313.65 L108.50 314.13 L110.39 316.75 L111.19 317.64 L111.99 318.19 L112.91 318.47 L114.59 318.46 L120.40 317.42 L123.29 317.23 L125.75 317.44 L131.04 318.42 L133.90 318.78 L137.47 318.98 L143.28 319.03" fill="none" stroke="#1a2c40" stroke-width="1.05" stroke-linejoin="round"/>
<path d="M100.4 323.4 L100.38 323.41 L103.24 323.22 L106.30 322.36 L107.39 322.22 L108.50 322.36 L111.33 323.18 L113.42 323.39 L143.28 323.42 L143.3 323.4 Z" fill="rgba(175,212,240,0.65)" stroke="none"/>
<path d="M100.38 323.41 L103.24 323.22 L106.30 322.36 L107.39 322.22 L108.50 322.36 L111.33 323.18 L113.42 323.39 L143.28 323.42" fill="none" stroke="#1a2c40" stroke-width="1.05" stroke-linejoin="round"/>
<path d="M100.4 323.4 L100.38 323.42 L109.07 323.38 L112.85 323.13 L114.34 322.88 L115.80 322.50 L120.83 320.73 L121.94 320.50 L123.00 320.42 L124.06 320.50 L125.20 320.74 L130.10 322.47 L132.84 323.09 L136.33 323.37 L143.28 323.42 L143.3 323.4 Z" fill="rgba(215,90,80,0.68)" stroke="none"/>
<path d="M100.38 323.42 L109.07 323.38 L112.85 323.13 L114.34 322.88 L115.80 322.50 L120.83 320.73 L121.94 320.50 L123.00 320.42 L124.06 320.50 L125.20 320.74 L130.10 322.47 L132.84 323.09 L136.33 323.37 L143.28 323.42" fill="none" stroke="#2a1c24" stroke-width="1.05" stroke-linejoin="round"/>
<path d="M100.4 327.8 L100.38 327.81 L102.90 327.70 L103.55 327.47 L104.10 327.06 L104.58 326.44 L105.04 325.58 L106.67 321.53 L107.04 320.99 L107.39 320.81 L107.79 321.02 L108.19 321.65 L109.59 325.20 L110.28 326.53 L111.02 327.34 L111.93 327.71 L113.88 327.81 L143.28 327.81 L143.3 327.8 Z" fill="rgba(135,155,190,0.6)" stroke="none"/>
<path d="M100.38 327.81 L102.90 327.70 L103.55 327.47 L104.10 327.06 L104.58 326.44 L105.04 325.58 L106.67 321.53 L107.04 320.99 L107.39 320.81 L107.79 321.02 L108.19 321.65 L109.59 325.20 L110.28 326.53 L111.02 327.34 L111.93 327.71 L113.88 327.81 L143.28 327.81" fill="none" stroke="#0a0a14" stroke-width="1.05" stroke-linejoin="round"/>
<path d="M100.4 327.8 L100.38 327.81 L106.21 327.77 L109.50 327.59 L112.11 327.22 L116.85 326.21 L119.11 326.01 L121.26 326.19 L126.35 327.27 L129.41 327.65 L133.33 327.79 L143.28 327.81 L143.3 327.8 Z" fill="rgba(175,212,240,0.65)" stroke="none"/>
<path d="M100.38 327.81 L106.21 327.77 L109.50 327.59 L112.11 327.22 L116.85 326.21 L119.11 326.01 L121.26 326.19 L126.35 327.27 L129.41 327.65 L133.33 327.79 L143.28 327.81" fill="none" stroke="#1a2c40" stroke-width="1.05" stroke-linejoin="round"/>
<path d="M100.4 332.2 L100.38 332.20 L102.90 332.09 L103.55 331.86 L104.10 331.45 L104.58 330.83 L105.04 329.97 L106.67 325.92 L107.04 325.38 L107.39 325.20 L107.79 325.41 L108.19 326.04 L109.59 329.59 L110.28 330.92 L111.02 331.73 L111.93 332.10 L113.88 332.20 L143.28 332.20 L143.3 332.2 Z" fill="rgba(135,155,190,0.6)" stroke="none"/>
<path d="M100.38 332.20 L102.90 332.09 L103.55 331.86 L104.10 331.45 L104.58 330.83 L105.04 329.97 L106.67 325.92 L107.04 325.38 L107.39 325.20 L107.79 325.41 L108.19 326.04 L109.59 329.59 L110.28 330.92 L111.02 331.73 L111.93 332.10 L113.88 332.20 L143.28 332.20" fill="none" stroke="#0a0a14" stroke-width="1.05" stroke-linejoin="round"/>
<path d="M100.4 332.2 L100.38 332.20 L108.30 332.18 L111.31 332.03 L113.62 331.61 L117.51 330.39 L119.11 330.20 L120.91 330.45 L125.09 331.73 L127.38 332.08 L130.72 332.19 L143.28 332.20 L143.3 332.2 Z" fill="rgba(215,90,80,0.68)" stroke="none"/>
<path d="M100.38 332.20 L108.30 332.18 L111.31 332.03 L113.62 331.61 L117.51 330.39 L119.11 330.20 L120.91 330.45 L125.09 331.73 L127.38 332.08 L130.72 332.19 L143.28 332.20" fill="none" stroke="#2a1c24" stroke-width="1.05" stroke-linejoin="round"/>
<circle cx="99.50" cy="313.34" r="0.55" fill="#333"/>
<circle cx="99.50" cy="317.73" r="0.55" fill="#333"/>
<circle cx="99.50" cy="322.12" r="0.55" fill="#333"/>
<line x1="150.40" y1="294.90" x2="150.40" y2="335.20" stroke="#7a7a7a" stroke-width="0.9"/>
<line x1="149.95" y1="335.20" x2="200.70" y2="335.20" stroke="#7a7a7a" stroke-width="0.9"/>
<path d="M156.7 310.2 L156.66 310.10 L157.38 309.65 L157.98 308.73 L158.54 307.25 L159.73 303.21 L160.08 302.48 L160.41 302.25 L160.73 302.50 L161.08 303.24 L162.27 307.29 L162.83 308.76 L163.46 309.69 L163.83 309.97 L164.25 310.13 L165.93 310.25 L191.60 310.25 L191.6 310.2 Z" fill="rgba(175,212,240,0.65)" stroke="none"/>
<path d="M156.66 310.10 L157.38 309.65 L157.98 308.73 L158.54 307.25 L159.73 303.21 L160.08 302.48 L160.41 302.25 L160.73 302.50 L161.08 303.24 L162.27 307.29 L162.83 308.76 L163.46 309.69 L163.83 309.97 L164.25 310.13 L165.93 310.25 L191.60 310.25" fill="none" stroke="#1a2c40" stroke-width="1.05" stroke-linejoin="round"/>
<path d="M156.7 314.6 L156.66 314.52 L157.38 314.16 L157.98 313.40 L158.54 312.20 L159.73 308.91 L160.08 308.32 L160.41 308.13 L160.73 308.33 L161.06 308.87 L162.25 312.12 L162.78 313.27 L163.37 313.99 L164.04 314.32 L165.42 314.27 L169.56 313.32 L171.43 313.14 L172.94 313.29 L176.85 314.21 L179.28 314.53 L182.40 314.63 L191.60 314.64 L191.6 314.6 Z" fill="rgba(175,212,240,0.65)" stroke="none"/>
<path d="M156.66 314.52 L157.38 314.16 L157.98 313.40 L158.54 312.20 L159.73 308.91 L160.08 308.32 L160.41 308.13 L160.73 308.33 L161.06 308.87 L162.25 312.12 L162.78 313.27 L163.37 313.99 L164.04 314.32 L165.42 314.27 L169.56 313.32 L171.43 313.14 L172.94 313.29 L176.85 314.21 L179.28 314.53 L182.40 314.63 L191.60 314.64" fill="none" stroke="#1a2c40" stroke-width="1.05" stroke-linejoin="round"/>
<path d="M156.7 319.0 L156.66 318.91 L157.38 318.55 L157.98 317.79 L158.54 316.59 L159.73 313.30 L160.08 312.71 L160.41 312.52 L160.73 312.72 L161.06 313.26 L162.25 316.51 L162.78 317.66 L163.37 318.38 L164.04 318.71 L165.42 318.66 L169.56 317.71 L171.43 317.53 L172.94 317.68 L176.85 318.60 L179.28 318.92 L182.40 319.02 L191.60 319.03 L191.6 319.0 Z" fill="rgba(175,212,240,0.65)" stroke="none"/>
<path d="M156.66 318.91 L157.38 318.55 L157.98 317.79 L158.54 316.59 L159.73 313.30 L160.08 312.71 L160.41 312.52 L160.73 312.72 L161.06 313.26 L162.25 316.51 L162.78 317.66 L163.37 318.38 L164.04 318.71 L165.42 318.66 L169.56 317.71 L171.43 317.53 L172.94 317.68 L176.85 318.60 L179.28 318.92 L182.40 319.02 L191.60 319.03" fill="none" stroke="#1a2c40" stroke-width="1.05" stroke-linejoin="round"/>
<path d="M156.7 323.4 L156.66 323.38 L157.15 323.28 L157.54 323.09 L158.17 322.36 L158.73 321.07 L159.82 317.66 L160.13 317.09 L160.41 316.92 L160.69 317.11 L160.99 317.69 L162.06 321.05 L162.57 322.26 L163.13 322.99 L163.85 323.34 L165.35 323.42 L191.60 323.42 L191.6 323.4 Z" fill="rgba(135,155,190,0.6)" stroke="none"/>
<path d="M156.66 323.38 L157.15 323.28 L157.54 323.09 L158.17 322.36 L158.73 321.07 L159.82 317.66 L160.13 317.09 L160.41 316.92 L160.69 317.11 L160.99 317.69 L162.06 321.05 L162.57 322.26 L163.13 322.99 L163.85 323.34 L165.35 323.42 L191.60 323.42" fill="none" stroke="#0a0a14" stroke-width="1.05" stroke-linejoin="round"/>
<path d="M156.7 323.4 L156.66 323.42 L160.97 323.40 L163.25 323.28 L165.07 323.03 L168.28 322.35 L169.77 322.22 L171.36 322.37 L175.08 323.14 L177.16 323.35 L191.60 323.42 L191.6 323.4 Z" fill="rgba(215,90,80,0.68)" stroke="none"/>
<path d="M156.66 323.42 L160.97 323.40 L163.25 323.28 L165.07 323.03 L168.28 322.35 L169.77 322.22 L171.36 322.37 L175.08 323.14 L177.16 323.35 L191.60 323.42" fill="none" stroke="#2a1c24" stroke-width="1.05" stroke-linejoin="round"/>
<path d="M156.7 327.8 L156.66 327.77 L157.15 327.67 L157.54 327.48 L158.17 326.75 L158.73 325.46 L159.82 322.05 L160.13 321.48 L160.41 321.31 L160.69 321.50 L160.99 322.08 L162.06 325.44 L162.57 326.65 L163.13 327.38 L163.85 327.73 L165.35 327.81 L191.60 327.81 L191.6 327.8 Z" fill="rgba(135,155,190,0.6)" stroke="none"/>
<path d="M156.66 327.77 L157.15 327.67 L157.54 327.48 L158.17 326.75 L158.73 325.46 L159.82 322.05 L160.13 321.48 L160.41 321.31 L160.69 321.50 L160.99 322.08 L162.06 325.44 L162.57 326.65 L163.13 327.38 L163.85 327.73 L165.35 327.81 L191.60 327.81" fill="none" stroke="#0a0a14" stroke-width="1.05" stroke-linejoin="round"/>
<path d="M156.7 327.8 L156.66 327.81 L160.97 327.79 L163.25 327.67 L165.07 327.42 L168.28 326.74 L169.77 326.61 L171.36 326.76 L175.08 327.53 L177.16 327.74 L191.60 327.81 L191.6 327.8 Z" fill="rgba(175,212,240,0.65)" stroke="none"/>
<path d="M156.66 327.81 L160.97 327.79 L163.25 327.67 L165.07 327.42 L168.28 326.74 L169.77 326.61 L171.36 326.76 L175.08 327.53 L177.16 327.74 L191.60 327.81" fill="none" stroke="#1a2c40" stroke-width="1.05" stroke-linejoin="round"/>
<path d="M156.7 332.2 L156.66 332.16 L157.15 332.06 L157.54 331.87 L158.17 331.14 L158.73 329.85 L159.82 326.44 L160.13 325.87 L160.41 325.70 L160.69 325.89 L160.99 326.47 L162.06 329.83 L162.57 331.04 L163.13 331.77 L163.85 332.12 L165.35 332.20 L191.60 332.20 L191.6 332.2 Z" fill="rgba(165,160,188,0.7)" stroke="none"/>
<path d="M156.66 332.16 L157.15 332.06 L157.54 331.87 L158.17 331.14 L158.73 329.85 L159.82 326.44 L160.13 325.87 L160.41 325.70 L160.69 325.89 L160.99 326.47 L162.06 329.83 L162.57 331.04 L163.13 331.77 L163.85 332.12 L165.35 332.20 L191.60 332.20" fill="none" stroke="#1a1a1a" stroke-width="1.05" stroke-linejoin="round"/>
<circle cx="152.50" cy="313.34" r="0.55" fill="#333"/>
<circle cx="152.50" cy="317.73" r="0.55" fill="#333"/>
<circle cx="152.50" cy="322.12" r="0.55" fill="#333"/>
<line x1="203.60" y1="294.90" x2="203.60" y2="335.20" stroke="#7a7a7a" stroke-width="0.9"/>
<line x1="203.15" y1="335.20" x2="253.90" y2="335.20" stroke="#7a7a7a" stroke-width="0.9"/>
<path d="M207.4 310.2 L207.36 310.20 L208.16 310.09 L208.81 309.88 L209.38 309.52 L209.88 309.02 L210.80 307.54 L212.64 303.52 L213.14 302.86 L213.61 302.65 L214.09 302.88 L214.59 303.57 L216.28 307.28 L217.02 308.58 L217.79 309.41 L218.68 309.81 L219.66 309.82 L221.94 309.34 L223.04 309.25 L224.20 309.38 L227.10 310.04 L229.15 310.22 L251.82 310.25 L251.8 310.2 Z" fill="rgba(175,212,240,0.65)" stroke="none"/>
<path d="M207.36 310.20 L208.16 310.09 L208.81 309.88 L209.38 309.52 L209.88 309.02 L210.80 307.54 L212.64 303.52 L213.14 302.86 L213.61 302.65 L214.09 302.88 L214.59 303.57 L216.28 307.28 L217.02 308.58 L217.79 309.41 L218.68 309.81 L219.66 309.82 L221.94 309.34 L223.04 309.25 L224.20 309.38 L227.10 310.04 L229.15 310.22 L251.82 310.25" fill="none" stroke="#1a2c40" stroke-width="1.05" stroke-linejoin="round"/>
<path d="M207.4 314.6 L207.36 314.64 L209.29 314.51 L209.88 314.29 L210.38 313.92 L210.83 313.40 L211.27 312.67 L212.84 309.31 L213.23 308.81 L213.61 308.64 L214.00 308.83 L214.38 309.35 L215.81 312.44 L216.46 313.52 L217.20 314.22 L218.15 314.55 L220.13 314.64 L251.82 314.64 L251.8 314.6 Z" fill="rgba(135,155,190,0.6)" stroke="none"/>
<path d="M207.36 314.64 L209.29 314.51 L209.88 314.29 L210.38 313.92 L210.83 313.40 L211.27 312.67 L212.84 309.31 L213.23 308.81 L213.61 308.64 L214.00 308.83 L214.38 309.35 L215.81 312.44 L216.46 313.52 L217.20 314.22 L218.15 314.55 L220.13 314.64 L251.82 314.64" fill="none" stroke="#0a0a14" stroke-width="1.05" stroke-linejoin="round"/>
<path d="M207.4 314.6 L207.36 314.64 L218.56 314.62 L222.62 314.45 L225.77 313.97 L230.95 312.57 L233.09 312.34 L235.34 312.59 L240.08 313.88 L242.69 314.36 L245.98 314.59 L251.82 314.64 L251.8 314.6 Z" fill="rgba(215,90,80,0.68)" stroke="none"/>
<path d="M207.36 314.64 L218.56 314.62 L222.62 314.45 L225.77 313.97 L230.95 312.57 L233.09 312.34 L235.34 312.59 L240.08 313.88 L242.69 314.36 L245.98 314.59 L251.82 314.64" fill="none" stroke="#2a1c24" stroke-width="1.05" stroke-linejoin="round"/>
<path d="M207.4 319.0 L207.36 319.02 L209.08 318.84 L209.67 318.59 L210.18 318.21 L211.06 317.01 L212.78 313.66 L213.20 313.18 L213.61 313.01 L214.03 313.19 L214.47 313.73 L215.96 316.61 L216.64 317.65 L217.32 318.27 L218.12 318.57 L219.36 318.54 L223.42 317.69 L225.44 317.53 L227.37 317.73 L231.90 318.67 L234.48 318.94 L238.19 319.02 L251.82 319.03 L251.8 319.0 Z" fill="rgba(175,212,240,0.65)" stroke="none"/>
<path d="M207.36 319.02 L209.08 318.84 L209.67 318.59 L210.18 318.21 L211.06 317.01 L212.78 313.66 L213.20 313.18 L213.61 313.01 L214.03 313.19 L214.47 313.73 L215.96 316.61 L216.64 317.65 L217.32 318.27 L218.12 318.57 L219.36 318.54 L223.42 317.69 L225.44 317.53 L227.37 317.73 L231.90 318.67 L234.48 318.94 L238.19 319.02 L251.82 319.03" fill="none" stroke="#1a2c40" stroke-width="1.05" stroke-linejoin="round"/>
<path d="M207.4 323.4 L207.36 323.41 L209.08 323.23 L209.67 322.98 L210.18 322.60 L211.06 321.40 L212.75 318.11 L213.20 317.58 L213.61 317.42 L214.03 317.60 L214.47 318.15 L216.01 321.18 L216.73 322.27 L217.50 322.94 L218.45 323.27 L220.19 323.31 L222.83 323.07 L224.91 322.69 L229.20 321.65 L231.58 321.42 L233.77 321.63 L238.63 322.79 L241.39 323.20 L244.88 323.39 L251.82 323.42 L251.8 323.4 Z" fill="rgba(215,90,80,0.68)" stroke="none"/>
<path d="M207.36 323.41 L209.08 323.23 L209.67 322.98 L210.18 322.60 L211.06 321.40 L212.75 318.11 L213.20 317.58 L213.61 317.42 L214.03 317.60 L214.47 318.15 L216.01 321.18 L216.73 322.27 L217.50 322.94 L218.45 323.27 L220.19 323.31 L222.83 323.07 L224.91 322.69 L229.20 321.65 L231.58 321.42 L233.77 321.63 L238.63 322.79 L241.39 323.20 L244.88 323.39 L251.82 323.42" fill="none" stroke="#2a1c24" stroke-width="1.05" stroke-linejoin="round"/>
<path d="M207.4 327.8 L207.36 327.81 L209.29 327.67 L209.88 327.43 L210.38 327.03 L210.83 326.47 L211.27 325.67 L212.84 322.03 L213.23 321.49 L213.61 321.31 L214.00 321.52 L214.38 322.08 L215.81 325.42 L216.46 326.60 L217.20 327.36 L218.15 327.72 L220.13 327.81 L251.82 327.81 L251.8 327.8 Z" fill="rgba(135,155,190,0.6)" stroke="none"/>
<path d="M207.36 327.81 L209.29 327.67 L209.88 327.43 L210.38 327.03 L210.83 326.47 L211.27 325.67 L212.84 322.03 L213.23 321.49 L213.61 321.31 L214.00 321.52 L214.38 322.08 L215.81 325.42 L216.46 326.60 L217.20 327.36 L218.15 327.72 L220.13 327.81 L251.82 327.81" fill="none" stroke="#0a0a14" stroke-width="1.05" stroke-linejoin="round"/>
<path d="M207.4 327.8 L207.36 327.81 L216.96 327.71 L219.33 327.50 L223.45 326.92 L225.29 326.81 L227.31 326.93 L231.96 327.58 L234.48 327.75 L251.82 327.81 L251.8 327.8 Z" fill="rgba(175,212,240,0.65)" stroke="none"/>
<path d="M207.36 327.81 L216.96 327.71 L219.33 327.50 L223.45 326.92 L225.29 326.81 L227.31 326.93 L231.96 327.58 L234.48 327.75 L251.82 327.81" fill="none" stroke="#1a2c40" stroke-width="1.05" stroke-linejoin="round"/>
<path d="M207.4 332.2 L207.36 332.20 L209.29 332.06 L209.88 331.82 L210.38 331.42 L210.83 330.86 L211.27 330.06 L212.84 326.42 L213.23 325.88 L213.61 325.70 L214.00 325.91 L214.38 326.47 L215.81 329.81 L216.46 330.99 L217.20 331.75 L218.15 332.11 L220.13 332.20 L251.82 332.20 L251.8 332.2 Z" fill="rgba(165,160,188,0.7)" stroke="none"/>
<path d="M207.36 332.20 L209.29 332.06 L209.88 331.82 L210.38 331.42 L210.83 330.86 L211.27 330.06 L212.84 326.42 L213.23 325.88 L213.61 325.70 L214.00 325.91 L214.38 326.47 L215.81 329.81 L216.46 330.99 L217.20 331.75 L218.15 332.11 L220.13 332.20 L251.82 332.20" fill="none" stroke="#1a1a1a" stroke-width="1.05" stroke-linejoin="round"/>
<circle cx="205.70" cy="313.34" r="0.55" fill="#333"/>
<circle cx="205.70" cy="317.73" r="0.55" fill="#333"/>
<circle cx="205.70" cy="322.12" r="0.55" fill="#333"/>
<circle cx="205.70" cy="326.51" r="0.55" fill="#333"/>
<line x1="44.30" y1="346.10" x2="44.30" y2="386.40" stroke="#7a7a7a" stroke-width="0.9"/>
<line x1="43.85" y1="386.40" x2="94.60" y2="386.40" stroke="#7a7a7a" stroke-width="0.9"/>
<line x1="42.70" y1="383.40" x2="44.30" y2="383.40" stroke="#7a7a7a" stroke-width="0.7"/>
<line x1="42.70" y1="379.01" x2="44.30" y2="379.01" stroke="#7a7a7a" stroke-width="0.7"/>
<line x1="42.70" y1="374.62" x2="44.30" y2="374.62" stroke="#7a7a7a" stroke-width="0.7"/>
<line x1="42.70" y1="370.23" x2="44.30" y2="370.23" stroke="#7a7a7a" stroke-width="0.7"/>
<line x1="42.70" y1="365.84" x2="44.30" y2="365.84" stroke="#7a7a7a" stroke-width="0.7"/>
<line x1="42.70" y1="361.45" x2="44.30" y2="361.45" stroke="#7a7a7a" stroke-width="0.7"/>
<line x1="42.70" y1="357.06" x2="44.30" y2="357.06" stroke="#7a7a7a" stroke-width="0.7"/>
<line x1="42.70" y1="352.67" x2="44.30" y2="352.67" stroke="#7a7a7a" stroke-width="0.7"/>
<path d="M48.1 374.6 L48.06 374.62 L49.52 374.56 L50.48 374.40 L51.27 374.09 L52.75 373.28 L53.47 373.10 L54.23 373.23 L55.69 373.95 L56.38 374.19 L57.17 374.28 L58.11 374.19 L60.19 373.57 L64.13 371.77 L65.09 371.51 L66.00 371.42 L66.89 371.50 L67.82 371.75 L71.96 373.62 L73.13 374.02 L74.35 374.30 L77.39 374.57 L83.94 374.62 L83.9 374.6 Z" fill="rgba(215,90,80,0.68)" stroke="none"/>
<path d="M48.06 374.62 L49.52 374.56 L50.48 374.40 L51.27 374.09 L52.75 373.28 L53.47 373.10 L54.23 373.23 L55.69 373.95 L56.38 374.19 L57.17 374.28 L58.11 374.19 L60.19 373.57 L64.13 371.77 L65.09 371.51 L66.00 371.42 L66.89 371.50 L67.82 371.75 L71.96 373.62 L73.13 374.02 L74.35 374.30 L77.39 374.57 L83.94 374.62" fill="none" stroke="#2a1c24" stroke-width="1.05" stroke-linejoin="round"/>
<path d="M48.1 379.0 L48.06 379.01 L50.00 378.90 L50.60 378.72 L51.10 378.43 L51.98 377.41 L53.56 374.70 L53.94 374.31 L54.33 374.17 L54.69 374.30 L55.07 374.68 L56.84 377.37 L57.32 377.77 L57.82 377.96 L58.27 377.96 L58.78 377.83 L61.26 376.75 L62.51 376.60 L63.58 376.78 L65.81 377.52 L67.00 377.82 L73.39 378.79 L76.60 378.99 L83.94 379.01 L83.9 379.0 Z" fill="rgba(175,212,240,0.65)" stroke="none"/>
<path d="M48.06 379.01 L50.00 378.90 L50.60 378.72 L51.10 378.43 L51.98 377.41 L53.56 374.70 L53.94 374.31 L54.33 374.17 L54.69 374.30 L55.07 374.68 L56.84 377.37 L57.32 377.77 L57.82 377.96 L58.27 377.96 L58.78 377.83 L61.26 376.75 L62.51 376.60 L63.58 376.78 L65.81 377.52 L67.00 377.82 L73.39 378.79 L76.60 378.99 L83.94 379.01" fill="none" stroke="#1a2c40" stroke-width="1.05" stroke-linejoin="round"/>
<path d="M48.1 383.4 L48.06 383.40 L49.26 383.35 L50.00 383.21 L50.60 382.89 L51.10 382.35 L51.53 381.63 L51.96 380.61 L53.56 375.71 L53.94 375.02 L54.30 374.80 L54.69 375.06 L55.09 375.84 L56.48 380.16 L57.13 381.73 L57.84 382.75 L58.25 383.05 L58.70 383.24 L59.42 383.36 L60.59 383.40 L83.94 383.40 L83.9 383.4 Z" fill="rgba(135,155,190,0.6)" stroke="none"/>
<path d="M48.06 383.40 L49.26 383.35 L50.00 383.21 L50.60 382.89 L51.10 382.35 L51.53 381.63 L51.96 380.61 L53.56 375.71 L53.94 375.02 L54.30 374.80 L54.69 375.06 L55.09 375.84 L56.48 380.16 L57.13 381.73 L57.84 382.75 L58.25 383.05 L58.70 383.24 L59.42 383.36 L60.59 383.40 L83.94 383.40" fill="none" stroke="#0a0a14" stroke-width="1.05" stroke-linejoin="round"/>
<path d="M48.1 383.4 L48.06 383.40 L55.83 383.39 L57.75 383.19 L58.44 382.93 L59.06 382.55 L59.76 381.94 L61.41 380.16 L61.93 379.81 L62.41 379.70 L62.89 379.81 L63.39 380.14 L65.11 381.98 L65.86 382.62 L66.60 383.03 L67.46 383.27 L69.59 383.40 L83.94 383.40 L83.9 383.4 Z" fill="rgba(215,90,80,0.68)" stroke="none"/>
<path d="M48.06 383.40 L55.83 383.39 L57.75 383.19 L58.44 382.93 L59.06 382.55 L59.76 381.94 L61.41 380.16 L61.93 379.81 L62.41 379.70 L62.89 379.81 L63.39 380.14 L65.11 381.98 L65.86 382.62 L66.60 383.03 L67.46 383.27 L69.59 383.40 L83.94 383.40" fill="none" stroke="#2a1c24" stroke-width="1.05" stroke-linejoin="round"/>
<circle cx="46.40" cy="373.32" r="0.55" fill="#333"/>
<circle cx="46.40" cy="377.71" r="0.55" fill="#333"/>
<line x1="97.40" y1="346.10" x2="97.40" y2="386.40" stroke="#7a7a7a" stroke-width="0.9"/>
<line x1="96.95" y1="386.40" x2="147.70" y2="386.40" stroke="#7a7a7a" stroke-width="0.9"/>
<path d="M99.8 374.6 L99.83 374.53 L101.28 374.29 L102.50 373.82 L103.66 373.04 L106.30 370.78 L107.13 370.36 L107.94 370.22 L108.89 370.38 L111.26 371.22 L112.71 371.43 L115.33 371.36 L118.80 370.81 L120.08 370.83 L121.46 371.29 L124.88 373.48 L125.86 373.95 L126.85 374.26 L127.99 374.47 L129.42 374.58 L135.48 374.62 L135.5 374.6 Z" fill="rgba(215,90,80,0.68)" stroke="none"/>
<path d="M99.83 374.53 L101.28 374.29 L102.50 373.82 L103.66 373.04 L106.30 370.78 L107.13 370.36 L107.94 370.22 L108.89 370.38 L111.26 371.22 L112.71 371.43 L115.33 371.36 L118.80 370.81 L120.08 370.83 L121.46 371.29 L124.88 373.48 L125.86 373.95 L126.85 374.26 L127.99 374.47 L129.42 374.58 L135.48 374.62" fill="none" stroke="#2a1c24" stroke-width="1.05" stroke-linejoin="round"/>
<path d="M99.8 379.0 L99.83 378.99 L101.64 378.83 L102.95 378.39 L104.06 377.63 L106.30 375.57 L106.92 375.23 L107.49 375.12 L107.94 375.19 L108.41 375.39 L110.69 377.06 L111.34 377.38 L111.98 377.55 L113.28 377.47 L116.42 376.61 L117.92 376.52 L119.49 376.80 L123.48 378.23 L125.83 378.75 L128.90 378.97 L135.48 379.01 L135.5 379.0 Z" fill="rgba(175,212,240,0.65)" stroke="none"/>
<path d="M99.83 378.99 L101.64 378.83 L102.95 378.39 L104.06 377.63 L106.30 375.57 L106.92 375.23 L107.49 375.12 L107.94 375.19 L108.41 375.39 L110.69 377.06 L111.34 377.38 L111.98 377.55 L113.28 377.47 L116.42 376.61 L117.92 376.52 L119.49 376.80 L123.48 378.23 L125.83 378.75 L128.90 378.97 L135.48 379.01" fill="none" stroke="#1a2c40" stroke-width="1.05" stroke-linejoin="round"/>
<path d="M99.8 383.4 L99.83 383.40 L101.24 383.35 L102.12 383.20 L102.83 382.89 L103.45 382.38 L103.99 381.66 L104.52 380.72 L106.46 376.27 L106.94 375.62 L107.39 375.40 L107.87 375.63 L108.39 376.37 L110.10 380.33 L110.88 381.78 L111.69 382.69 L112.67 383.19 L113.55 383.34 L114.92 383.40 L135.48 383.40 L135.5 383.4 Z" fill="rgba(175,212,240,0.65)" stroke="none"/>
<path d="M99.83 383.40 L101.24 383.35 L102.12 383.20 L102.83 382.89 L103.45 382.38 L103.99 381.66 L104.52 380.72 L106.46 376.27 L106.94 375.62 L107.39 375.40 L107.87 375.63 L108.39 376.37 L110.10 380.33 L110.88 381.78 L111.69 382.69 L112.67 383.19 L113.55 383.34 L114.92 383.40 L135.48 383.40" fill="none" stroke="#1a2c40" stroke-width="1.05" stroke-linejoin="round"/>
<path d="M99.8 383.4 L99.83 383.40 L106.94 383.36 L108.56 383.26 L109.84 383.07 L110.98 382.76 L112.10 382.29 L115.92 380.07 L116.75 379.79 L117.54 379.70 L118.32 379.79 L119.15 380.07 L122.98 382.29 L124.10 382.75 L125.26 383.07 L126.57 383.26 L128.18 383.36 L135.48 383.40 L135.5 383.4 Z" fill="rgba(215,90,80,0.68)" stroke="none"/>
<path d="M99.83 383.40 L106.94 383.36 L108.56 383.26 L109.84 383.07 L110.98 382.76 L112.10 382.29 L115.92 380.07 L116.75 379.79 L117.54 379.70 L118.32 379.79 L119.15 380.07 L122.98 382.29 L124.10 382.75 L125.26 383.07 L126.57 383.26 L128.18 383.36 L135.48 383.40" fill="none" stroke="#2a1c24" stroke-width="1.05" stroke-linejoin="round"/>
<line x1="150.40" y1="346.10" x2="150.40" y2="386.40" stroke="#7a7a7a" stroke-width="0.9"/>
<line x1="149.95" y1="386.40" x2="200.70" y2="386.40" stroke="#7a7a7a" stroke-width="0.9"/>
<path d="M157.3 365.8 L157.28 365.67 L157.84 365.29 L158.32 364.59 L158.78 363.50 L159.80 360.49 L160.11 359.93 L160.40 359.74 L160.69 359.92 L160.99 360.48 L162.05 363.59 L162.55 364.72 L163.09 365.41 L163.76 365.74 L165.23 365.84 L186.14 365.84 L186.1 365.8 Z" fill="rgba(215,90,80,0.68)" stroke="none"/>
<path d="M157.28 365.67 L157.84 365.29 L158.32 364.59 L158.78 363.50 L159.80 360.49 L160.11 359.93 L160.40 359.74 L160.69 359.92 L160.99 360.48 L162.05 363.59 L162.55 364.72 L163.09 365.41 L163.76 365.74 L165.23 365.84 L186.14 365.84" fill="none" stroke="#2a1c24" stroke-width="1.05" stroke-linejoin="round"/>
<path d="M157.3 370.2 L157.28 370.06 L157.84 369.68 L158.32 369.00 L158.78 367.93 L159.80 364.97 L160.11 364.41 L160.40 364.23 L160.69 364.41 L160.99 364.95 L162.05 368.01 L162.55 369.12 L163.09 369.80 L163.76 370.13 L165.23 370.23 L186.14 370.23 L186.1 370.2 Z" fill="rgba(215,90,80,0.68)" stroke="none"/>
<path d="M157.28 370.06 L157.84 369.68 L158.32 369.00 L158.78 367.93 L159.80 364.97 L160.11 364.41 L160.40 364.23 L160.69 364.41 L160.99 364.95 L162.05 368.01 L162.55 369.12 L163.09 369.80 L163.76 370.13 L165.23 370.23 L186.14 370.23" fill="none" stroke="#2a1c24" stroke-width="1.05" stroke-linejoin="round"/>
<path d="M157.3 374.6 L157.28 374.45 L157.84 374.07 L158.32 373.39 L158.78 372.32 L159.80 369.36 L160.11 368.80 L160.40 368.62 L160.69 368.80 L160.99 369.34 L162.05 372.40 L162.55 373.51 L163.09 374.19 L163.76 374.52 L165.23 374.62 L186.14 374.62 L186.1 374.6 Z" fill="rgba(215,90,80,0.68)" stroke="none"/>
<path d="M157.28 374.45 L157.84 374.07 L158.32 373.39 L158.78 372.32 L159.80 369.36 L160.11 368.80 L160.40 368.62 L160.69 368.80 L160.99 369.34 L162.05 372.40 L162.55 373.51 L163.09 374.19 L163.76 374.52 L165.23 374.62 L186.14 374.62" fill="none" stroke="#2a1c24" stroke-width="1.05" stroke-linejoin="round"/>
<path d="M157.3 379.0 L157.28 378.84 L157.84 378.46 L158.32 377.78 L158.78 376.71 L159.80 373.75 L160.11 373.19 L160.40 373.01 L160.69 373.19 L160.99 373.73 L162.05 376.79 L162.55 377.90 L163.09 378.58 L163.76 378.91 L165.23 379.01 L186.14 379.01 L186.1 379.0 Z" fill="rgba(135,155,190,0.6)" stroke="none"/>
<path d="M157.28 378.84 L157.84 378.46 L158.32 377.78 L158.78 376.71 L159.80 373.75 L160.11 373.19 L160.40 373.01 L160.69 373.19 L160.99 373.73 L162.05 376.79 L162.55 377.90 L163.09 378.58 L163.76 378.91 L165.23 379.01 L186.14 379.01" fill="none" stroke="#0a0a14" stroke-width="1.05" stroke-linejoin="round"/>
<path d="M157.3 379.0 L157.28 379.00 L160.20 378.95 L162.34 378.80 L167.82 377.86 L169.77 377.71 L171.61 377.85 L175.63 378.59 L177.89 378.86 L180.73 378.99 L186.14 379.01 L186.1 379.0 Z" fill="rgba(175,212,240,0.65)" stroke="none"/>
<path d="M157.28 379.00 L160.20 378.95 L162.34 378.80 L167.82 377.86 L169.77 377.71 L171.61 377.85 L175.63 378.59 L177.89 378.86 L180.73 378.99 L186.14 379.01" fill="none" stroke="#1a2c40" stroke-width="1.05" stroke-linejoin="round"/>
<path d="M157.3 383.4 L157.28 383.23 L157.84 382.85 L158.32 382.17 L158.78 381.10 L159.80 378.14 L160.11 377.58 L160.40 377.40 L160.69 377.58 L160.99 378.12 L162.05 381.18 L162.55 382.29 L163.09 382.97 L163.76 383.30 L165.23 383.40 L186.14 383.40 L186.1 383.4 Z" fill="rgba(135,155,190,0.6)" stroke="none"/>
<path d="M157.28 383.23 L157.84 382.85 L158.32 382.17 L158.78 381.10 L159.80 378.14 L160.11 377.58 L160.40 377.40 L160.69 377.58 L160.99 378.12 L162.05 381.18 L162.55 382.29 L163.09 382.97 L163.76 383.30 L165.23 383.40 L186.14 383.40" fill="none" stroke="#0a0a14" stroke-width="1.05" stroke-linejoin="round"/>
<path d="M157.3 383.4 L157.28 383.40 L164.23 383.32 L172.09 382.80 L179.83 383.32 L186.14 383.40 L186.1 383.4 Z" fill="rgba(175,212,240,0.65)" stroke="none"/>
<path d="M157.28 383.40 L164.23 383.32 L172.09 382.80 L179.83 383.32 L186.14 383.40" fill="none" stroke="#1a2c40" stroke-width="1.05" stroke-linejoin="round"/>
<circle cx="152.50" cy="377.71" r="0.55" fill="#333"/>
<line x1="203.60" y1="346.10" x2="203.60" y2="386.40" stroke="#7a7a7a" stroke-width="0.9"/>
<line x1="203.15" y1="386.40" x2="253.90" y2="386.40" stroke="#7a7a7a" stroke-width="0.9"/>
<path d="M210.5 370.2 L210.48 369.77 L210.92 369.27 L211.35 368.49 L212.92 363.73 L213.27 363.06 L213.60 362.83 L213.92 363.05 L214.27 363.72 L215.46 367.47 L216.02 368.83 L216.62 369.67 L217.35 370.09 L218.96 370.23 L239.34 370.23 L239.3 370.2 Z" fill="rgba(215,90,80,0.68)" stroke="none"/>
<path d="M210.48 369.77 L210.92 369.27 L211.35 368.49 L212.92 363.73 L213.27 363.06 L213.60 362.83 L213.92 363.05 L214.27 363.72 L215.46 367.47 L216.02 368.83 L216.62 369.67 L217.35 370.09 L218.96 370.23 L239.34 370.23" fill="none" stroke="#2a1c24" stroke-width="1.05" stroke-linejoin="round"/>
<path d="M210.5 374.6 L210.48 374.21 L210.92 373.77 L211.35 373.09 L212.92 368.91 L213.27 368.32 L213.60 368.12 L213.92 368.31 L214.27 368.90 L215.46 372.20 L216.02 373.39 L216.62 374.13 L217.35 374.50 L218.96 374.62 L239.34 374.62 L239.3 374.6 Z" fill="rgba(215,90,80,0.68)" stroke="none"/>
<path d="M210.48 374.21 L210.92 373.77 L211.35 373.09 L212.92 368.91 L213.27 368.32 L213.60 368.12 L213.92 368.31 L214.27 368.90 L215.46 372.20 L216.02 373.39 L216.62 374.13 L217.35 374.50 L218.96 374.62 L239.34 374.62" fill="none" stroke="#2a1c24" stroke-width="1.05" stroke-linejoin="round"/>
<path d="M210.5 379.0 L210.48 378.60 L210.92 378.16 L211.35 377.48 L212.92 373.30 L213.27 372.71 L213.60 372.51 L213.92 372.70 L214.27 373.29 L215.46 376.59 L216.02 377.78 L216.62 378.52 L217.35 378.89 L218.96 379.01 L239.34 379.01 L239.3 379.0 Z" fill="rgba(135,155,190,0.6)" stroke="none"/>
<path d="M210.48 378.60 L210.92 378.16 L211.35 377.48 L212.92 373.30 L213.27 372.71 L213.60 372.51 L213.92 372.70 L214.27 373.29 L215.46 376.59 L216.02 377.78 L216.62 378.52 L217.35 378.89 L218.96 379.01 L239.34 379.01" fill="none" stroke="#0a0a14" stroke-width="1.05" stroke-linejoin="round"/>
<path d="M210.5 379.0 L210.48 379.01 L212.88 378.96 L214.39 378.81 L215.62 378.50 L217.93 377.68 L219.06 377.51 L220.25 377.69 L223.12 378.68 L224.85 378.94 L239.34 379.01 L239.3 379.0 Z" fill="rgba(175,212,240,0.65)" stroke="none"/>
<path d="M210.48 379.01 L212.88 378.96 L214.39 378.81 L215.62 378.50 L217.93 377.68 L219.06 377.51 L220.25 377.69 L223.12 378.68 L224.85 378.94 L239.34 379.01" fill="none" stroke="#1a2c40" stroke-width="1.05" stroke-linejoin="round"/>
<path d="M210.5 383.4 L210.48 382.99 L210.92 382.55 L211.35 381.87 L212.92 377.69 L213.27 377.10 L213.60 376.90 L213.92 377.09 L214.27 377.68 L215.46 380.98 L216.02 382.17 L216.62 382.91 L217.35 383.28 L218.77 383.40 L223.85 383.34 L225.49 383.17 L228.16 382.68 L229.24 382.60 L230.32 382.69 L234.11 383.31 L239.34 383.40 L239.3 383.4 Z" fill="rgba(165,160,188,0.7)" stroke="none"/>
<path d="M210.48 382.99 L210.92 382.55 L211.35 381.87 L212.92 377.69 L213.27 377.10 L213.60 376.90 L213.92 377.09 L214.27 377.68 L215.46 380.98 L216.02 382.17 L216.62 382.91 L217.35 383.28 L218.77 383.40 L223.85 383.34 L225.49 383.17 L228.16 382.68 L229.24 382.60 L230.32 382.69 L234.11 383.31 L239.34 383.40" fill="none" stroke="#1a1a1a" stroke-width="1.05" stroke-linejoin="round"/>
<circle cx="205.70" cy="377.71" r="0.55" fill="#333"/>
<line x1="44.30" y1="397.10" x2="44.30" y2="437.40" stroke="#7a7a7a" stroke-width="0.9"/>
<line x1="43.85" y1="437.40" x2="94.60" y2="437.40" stroke="#7a7a7a" stroke-width="0.9"/>
<line x1="42.70" y1="434.40" x2="44.30" y2="434.40" stroke="#7a7a7a" stroke-width="0.7"/>
<line x1="42.70" y1="430.01" x2="44.30" y2="430.01" stroke="#7a7a7a" stroke-width="0.7"/>
<line x1="42.70" y1="425.62" x2="44.30" y2="425.62" stroke="#7a7a7a" stroke-width="0.7"/>
<line x1="42.70" y1="421.23" x2="44.30" y2="421.23" stroke="#7a7a7a" stroke-width="0.7"/>
<line x1="42.70" y1="416.84" x2="44.30" y2="416.84" stroke="#7a7a7a" stroke-width="0.7"/>
<line x1="42.70" y1="412.45" x2="44.30" y2="412.45" stroke="#7a7a7a" stroke-width="0.7"/>
<line x1="42.70" y1="408.06" x2="44.30" y2="408.06" stroke="#7a7a7a" stroke-width="0.7"/>
<line x1="42.70" y1="403.67" x2="44.30" y2="403.67" stroke="#7a7a7a" stroke-width="0.7"/>
<path d="M49.6 416.8 L49.62 416.81 L50.62 416.66 L51.41 416.34 L52.09 415.83 L53.53 414.41 L53.94 414.15 L54.34 414.07 L54.71 414.15 L55.10 414.37 L56.94 415.96 L57.48 416.22 L58.07 416.34 L59.47 416.26 L64.08 415.46 L66.31 415.34 L68.40 415.53 L72.81 416.32 L75.15 416.62 L78.03 416.78 L82.38 416.84 L82.4 416.8 Z" fill="rgba(175,212,240,0.65)" stroke="none"/>
<path d="M49.62 416.81 L50.62 416.66 L51.41 416.34 L52.09 415.83 L53.53 414.41 L53.94 414.15 L54.34 414.07 L54.71 414.15 L55.10 414.37 L56.94 415.96 L57.48 416.22 L58.07 416.34 L59.47 416.26 L64.08 415.46 L66.31 415.34 L68.40 415.53 L72.81 416.32 L75.15 416.62 L78.03 416.78 L82.38 416.84" fill="none" stroke="#1a2c40" stroke-width="1.05" stroke-linejoin="round"/>
<path d="M49.6 421.2 L49.62 421.22 L50.86 421.02 L51.30 420.76 L51.69 420.36 L52.37 419.15 L53.64 415.93 L53.97 415.42 L54.29 415.23 L54.62 415.40 L54.97 415.95 L56.17 419.02 L56.72 420.09 L57.33 420.79 L58.09 421.13 L59.73 421.23 L82.38 421.23 L82.4 421.2 Z" fill="rgba(135,155,190,0.6)" stroke="none"/>
<path d="M49.62 421.22 L50.86 421.02 L51.30 420.76 L51.69 420.36 L52.37 419.15 L53.64 415.93 L53.97 415.42 L54.29 415.23 L54.62 415.40 L54.97 415.95 L56.17 419.02 L56.72 420.09 L57.33 420.79 L58.09 421.13 L59.73 421.23 L82.38 421.23" fill="none" stroke="#0a0a14" stroke-width="1.05" stroke-linejoin="round"/>
<path d="M49.6 421.2 L49.62 421.23 L53.94 421.18 L56.81 421.01 L59.16 420.71 L63.71 419.90 L66.00 419.73 L68.29 419.90 L72.84 420.71 L75.19 421.01 L78.06 421.18 L82.38 421.23 L82.4 421.2 Z" fill="rgba(175,212,240,0.65)" stroke="none"/>
<path d="M49.62 421.23 L53.94 421.18 L56.81 421.01 L59.16 420.71 L63.71 419.90 L66.00 419.73 L68.29 419.90 L72.84 420.71 L75.19 421.01 L78.06 421.18 L82.38 421.23" fill="none" stroke="#1a2c40" stroke-width="1.05" stroke-linejoin="round"/>
<path d="M49.6 425.6 L49.62 425.61 L50.86 425.41 L51.30 425.15 L51.69 424.75 L52.37 423.54 L53.64 420.32 L53.97 419.81 L54.29 419.62 L54.62 419.79 L54.97 420.34 L56.17 423.41 L56.72 424.48 L57.33 425.18 L58.09 425.52 L59.73 425.62 L82.38 425.62 L82.4 425.6 Z" fill="rgba(215,90,80,0.68)" stroke="none"/>
<path d="M49.62 425.61 L50.86 425.41 L51.30 425.15 L51.69 424.75 L52.37 423.54 L53.64 420.32 L53.97 419.81 L54.29 419.62 L54.62 419.79 L54.97 420.34 L56.17 423.41 L56.72 424.48 L57.33 425.18 L58.09 425.52 L59.73 425.62 L82.38 425.62" fill="none" stroke="#2a1c24" stroke-width="1.05" stroke-linejoin="round"/>
<path d="M49.6 430.0 L49.62 430.00 L50.86 429.80 L51.30 429.54 L51.69 429.14 L52.37 427.93 L53.64 424.71 L53.97 424.20 L54.29 424.01 L54.62 424.18 L54.97 424.73 L56.17 427.80 L56.72 428.87 L57.33 429.57 L58.09 429.91 L59.73 430.01 L82.38 430.01 L82.4 430.0 Z" fill="rgba(135,155,190,0.6)" stroke="none"/>
<path d="M49.62 430.00 L50.86 429.80 L51.30 429.54 L51.69 429.14 L52.37 427.93 L53.64 424.71 L53.97 424.20 L54.29 424.01 L54.62 424.18 L54.97 424.73 L56.17 427.80 L56.72 428.87 L57.33 429.57 L58.09 429.91 L59.73 430.01 L82.38 430.01" fill="none" stroke="#0a0a14" stroke-width="1.05" stroke-linejoin="round"/>
<path d="M49.6 430.0 L49.62 430.01 L54.27 429.99 L56.19 429.83 L57.70 429.41 L60.23 428.21 L61.33 428.01 L62.53 428.26 L65.39 429.57 L67.16 429.92 L69.58 430.01 L82.38 430.01 L82.4 430.0 Z" fill="rgba(175,212,240,0.65)" stroke="none"/>
<path d="M49.62 430.01 L54.27 429.99 L56.19 429.83 L57.70 429.41 L60.23 428.21 L61.33 428.01 L62.53 428.26 L65.39 429.57 L67.16 429.92 L69.58 430.01 L82.38 430.01" fill="none" stroke="#1a2c40" stroke-width="1.05" stroke-linejoin="round"/>
<path d="M49.6 434.4 L49.62 434.39 L50.86 434.19 L51.30 433.93 L51.69 433.53 L52.37 432.32 L53.64 429.10 L53.97 428.59 L54.29 428.40 L54.62 428.57 L54.97 429.12 L56.17 432.19 L56.72 433.26 L57.33 433.96 L58.09 434.30 L59.73 434.40 L82.38 434.40 L82.4 434.4 Z" fill="rgba(135,155,190,0.6)" stroke="none"/>
<path d="M49.62 434.39 L50.86 434.19 L51.30 433.93 L51.69 433.53 L52.37 432.32 L53.64 429.10 L53.97 428.59 L54.29 428.40 L54.62 428.57 L54.97 429.12 L56.17 432.19 L56.72 433.26 L57.33 433.96 L58.09 434.30 L59.73 434.40 L82.38 434.40" fill="none" stroke="#0a0a14" stroke-width="1.05" stroke-linejoin="round"/>
<circle cx="46.40" cy="415.54" r="0.55" fill="#333"/>
<circle cx="46.40" cy="419.93" r="0.55" fill="#333"/>
<circle cx="46.40" cy="428.71" r="0.55" fill="#333"/>
<line x1="97.40" y1="397.10" x2="97.40" y2="437.40" stroke="#7a7a7a" stroke-width="0.9"/>
<line x1="96.95" y1="437.40" x2="147.70" y2="437.40" stroke="#7a7a7a" stroke-width="0.9"/>
<path d="M105.1 421.2 L105.06 421.22 L105.74 421.04 L106.14 420.37 L106.48 419.02 L107.09 415.47 L107.25 414.92 L107.40 414.73 L107.55 414.92 L107.70 415.46 L108.57 420.11 L108.89 420.86 L109.31 421.17 L130.49 421.23 L130.5 421.2 Z" fill="rgba(135,155,190,0.6)" stroke="none"/>
<path d="M105.06 421.22 L105.74 421.04 L106.14 420.37 L106.48 419.02 L107.09 415.47 L107.25 414.92 L107.40 414.73 L107.55 414.92 L107.70 415.46 L108.57 420.11 L108.89 420.86 L109.31 421.17 L130.49 421.23" fill="none" stroke="#0a0a14" stroke-width="1.05" stroke-linejoin="round"/>
<path d="M105.1 425.6 L105.06 425.61 L105.74 425.43 L106.14 424.76 L106.48 423.41 L107.09 419.86 L107.25 419.31 L107.40 419.12 L107.55 419.31 L107.70 419.85 L108.57 424.50 L108.89 425.25 L109.31 425.56 L130.49 425.62 L130.5 425.6 Z" fill="rgba(135,155,190,0.6)" stroke="none"/>
<path d="M105.06 425.61 L105.74 425.43 L106.14 424.76 L106.48 423.41 L107.09 419.86 L107.25 419.31 L107.40 419.12 L107.55 419.31 L107.70 419.85 L108.57 424.50 L108.89 425.25 L109.31 425.56 L130.49 425.62" fill="none" stroke="#0a0a14" stroke-width="1.05" stroke-linejoin="round"/>
<path d="M105.1 430.0 L105.06 430.00 L105.74 429.82 L106.14 429.15 L106.48 427.80 L107.09 424.25 L107.25 423.70 L107.40 423.51 L107.55 423.70 L107.70 424.24 L108.57 428.89 L108.89 429.64 L109.31 429.95 L130.49 430.01 L130.5 430.0 Z" fill="rgba(135,155,190,0.6)" stroke="none"/>
<path d="M105.06 430.00 L105.74 429.82 L106.14 429.15 L106.48 427.80 L107.09 424.25 L107.25 423.70 L107.40 423.51 L107.55 423.70 L107.70 424.24 L108.57 428.89 L108.89 429.64 L109.31 429.95 L130.49 430.01" fill="none" stroke="#0a0a14" stroke-width="1.05" stroke-linejoin="round"/>
<path d="M105.1 434.4 L105.06 434.39 L105.74 434.21 L106.14 433.54 L106.48 432.19 L107.09 428.64 L107.25 428.09 L107.40 427.90 L107.55 428.09 L107.70 428.63 L108.57 433.28 L108.89 434.03 L109.31 434.34 L130.49 434.40 L130.5 434.4 Z" fill="rgba(135,155,190,0.6)" stroke="none"/>
<path d="M105.06 434.39 L105.74 434.21 L106.14 433.54 L106.48 432.19 L107.09 428.64 L107.25 428.09 L107.40 427.90 L107.55 428.09 L107.70 428.63 L108.57 433.28 L108.89 434.03 L109.31 434.34 L130.49 434.40" fill="none" stroke="#0a0a14" stroke-width="1.05" stroke-linejoin="round"/>
<circle cx="99.50" cy="419.93" r="0.55" fill="#333"/>
<circle cx="99.50" cy="428.71" r="0.55" fill="#333"/>
<line x1="150.40" y1="397.10" x2="150.40" y2="437.40" stroke="#7a7a7a" stroke-width="0.9"/>
<line x1="149.95" y1="437.40" x2="200.70" y2="437.40" stroke="#7a7a7a" stroke-width="0.9"/>
<path d="M157.3 412.4 L157.28 412.45 L157.89 412.41 L158.25 412.28 L158.55 411.99 L158.80 411.52 L159.24 409.99 L160.02 405.77 L160.22 405.14 L160.40 404.95 L160.60 405.19 L160.80 405.86 L161.51 409.74 L161.85 411.13 L162.25 412.00 L162.75 412.37 L163.77 412.45 L184.19 412.45 L184.2 412.4 Z" fill="rgba(215,90,80,0.68)" stroke="none"/>
<path d="M157.28 412.45 L157.89 412.41 L158.25 412.28 L158.55 411.99 L158.80 411.52 L159.24 409.99 L160.02 405.77 L160.22 405.14 L160.40 404.95 L160.60 405.19 L160.80 405.86 L161.51 409.74 L161.85 411.13 L162.25 412.00 L162.75 412.37 L163.77 412.45 L184.19 412.45" fill="none" stroke="#2a1c24" stroke-width="1.05" stroke-linejoin="round"/>
<path d="M157.3 416.8 L157.28 416.84 L158.25 416.70 L158.55 416.45 L158.80 416.04 L159.24 414.71 L160.02 411.05 L160.22 410.51 L160.40 410.34 L160.60 410.55 L160.80 411.13 L161.51 414.50 L161.85 415.70 L162.25 416.45 L162.75 416.77 L163.77 416.84 L184.19 416.84 L184.2 416.8 Z" fill="rgba(135,155,190,0.6)" stroke="none"/>
<path d="M157.28 416.84 L158.25 416.70 L158.55 416.45 L158.80 416.04 L159.24 414.71 L160.02 411.05 L160.22 410.51 L160.40 410.34 L160.60 410.55 L160.80 411.13 L161.51 414.50 L161.85 415.70 L162.25 416.45 L162.75 416.77 L163.77 416.84 L184.19 416.84" fill="none" stroke="#0a0a14" stroke-width="1.05" stroke-linejoin="round"/>
<path d="M157.3 421.2 L157.28 421.23 L158.25 421.09 L158.55 420.84 L158.80 420.43 L159.24 419.10 L160.02 415.44 L160.22 414.90 L160.40 414.73 L160.60 414.94 L160.80 415.52 L161.51 418.89 L161.85 420.09 L162.25 420.84 L162.75 421.16 L163.77 421.23 L184.19 421.23 L184.2 421.2 Z" fill="rgba(135,155,190,0.6)" stroke="none"/>
<path d="M157.28 421.23 L158.25 421.09 L158.55 420.84 L158.80 420.43 L159.24 419.10 L160.02 415.44 L160.22 414.90 L160.40 414.73 L160.60 414.94 L160.80 415.52 L161.51 418.89 L161.85 420.09 L162.25 420.84 L162.75 421.16 L163.77 421.23 L184.19 421.23" fill="none" stroke="#0a0a14" stroke-width="1.05" stroke-linejoin="round"/>
<path d="M157.3 425.6 L157.28 425.62 L158.25 425.48 L158.55 425.23 L158.80 424.82 L159.24 423.49 L160.02 419.83 L160.22 419.29 L160.40 419.12 L160.60 419.33 L160.80 419.91 L161.51 423.28 L161.85 424.48 L162.25 425.23 L162.75 425.55 L163.77 425.62 L184.19 425.62 L184.2 425.6 Z" fill="rgba(135,155,190,0.6)" stroke="none"/>
<path d="M157.28 425.62 L158.25 425.48 L158.55 425.23 L158.80 424.82 L159.24 423.49 L160.02 419.83 L160.22 419.29 L160.40 419.12 L160.60 419.33 L160.80 419.91 L161.51 423.28 L161.85 424.48 L162.25 425.23 L162.75 425.55 L163.77 425.62 L184.19 425.62" fill="none" stroke="#0a0a14" stroke-width="1.05" stroke-linejoin="round"/>
<path d="M157.3 430.0 L157.28 430.01 L158.25 429.87 L158.55 429.62 L158.80 429.21 L159.24 427.88 L160.02 424.22 L160.22 423.68 L160.40 423.51 L160.60 423.72 L160.80 424.30 L161.51 427.67 L161.85 428.87 L162.25 429.62 L162.75 429.94 L163.77 430.01 L184.19 430.01 L184.2 430.0 Z" fill="rgba(135,155,190,0.6)" stroke="none"/>
<path d="M157.28 430.01 L158.25 429.87 L158.55 429.62 L158.80 429.21 L159.24 427.88 L160.02 424.22 L160.22 423.68 L160.40 423.51 L160.60 423.72 L160.80 424.30 L161.51 427.67 L161.85 428.87 L162.25 429.62 L162.75 429.94 L163.77 430.01 L184.19 430.01" fill="none" stroke="#0a0a14" stroke-width="1.05" stroke-linejoin="round"/>
<path d="M157.3 434.4 L157.28 434.40 L158.25 434.26 L158.55 434.01 L158.80 433.60 L159.24 432.27 L160.02 428.61 L160.22 428.07 L160.40 427.90 L160.60 428.11 L160.80 428.69 L161.51 432.06 L161.85 433.26 L162.25 434.01 L162.75 434.33 L163.77 434.40 L184.19 434.40 L184.2 434.4 Z" fill="rgba(135,155,190,0.6)" stroke="none"/>
<path d="M157.28 434.40 L158.25 434.26 L158.55 434.01 L158.80 433.60 L159.24 432.27 L160.02 428.61 L160.22 428.07 L160.40 427.90 L160.60 428.11 L160.80 428.69 L161.51 432.06 L161.85 433.26 L162.25 434.01 L162.75 434.33 L163.77 434.40 L184.19 434.40" fill="none" stroke="#0a0a14" stroke-width="1.05" stroke-linejoin="round"/>
<line x1="203.60" y1="397.10" x2="203.60" y2="437.40" stroke="#7a7a7a" stroke-width="0.9"/>
<line x1="203.15" y1="437.40" x2="253.90" y2="437.40" stroke="#7a7a7a" stroke-width="0.9"/>
<path d="M210.9 421.2 L210.87 420.75 L211.31 420.15 L211.73 419.19 L213.09 414.59 L213.35 414.09 L213.61 413.93 L213.89 414.16 L214.19 414.81 L215.25 418.54 L215.75 419.89 L216.32 420.74 L217.00 421.12 L218.48 421.23 L240.90 421.23 L240.9 421.2 Z" fill="rgba(175,212,240,0.65)" stroke="none"/>
<path d="M210.87 420.75 L211.31 420.15 L211.73 419.19 L213.09 414.59 L213.35 414.09 L213.61 413.93 L213.89 414.16 L214.19 414.81 L215.25 418.54 L215.75 419.89 L216.32 420.74 L217.00 421.12 L218.48 421.23 L240.90 421.23" fill="none" stroke="#1a2c40" stroke-width="1.05" stroke-linejoin="round"/>
<path d="M210.9 425.6 L210.87 425.53 L211.43 425.18 L211.87 424.44 L212.27 423.25 L213.13 419.88 L213.37 419.31 L213.59 419.12 L213.83 419.32 L214.07 419.90 L214.93 423.27 L215.33 424.45 L215.79 425.20 L216.40 425.54 L217.62 425.62 L240.90 425.62 L240.9 425.6 Z" fill="rgba(135,155,190,0.6)" stroke="none"/>
<path d="M210.87 425.53 L211.43 425.18 L211.87 424.44 L212.27 423.25 L213.13 419.88 L213.37 419.31 L213.59 419.12 L213.83 419.32 L214.07 419.90 L214.93 423.27 L215.33 424.45 L215.79 425.20 L216.40 425.54 L217.62 425.62 L240.90 425.62" fill="none" stroke="#0a0a14" stroke-width="1.05" stroke-linejoin="round"/>
<path d="M210.9 425.6 L210.87 425.62 L218.62 425.54 L220.54 425.37 L223.84 424.90 L225.30 424.82 L226.75 424.90 L230.13 425.38 L232.13 425.55 L240.90 425.62 L240.9 425.6 Z" fill="rgba(215,90,80,0.68)" stroke="none"/>
<path d="M210.87 425.62 L218.62 425.54 L220.54 425.37 L223.84 424.90 L225.30 424.82 L226.75 424.90 L230.13 425.38 L232.13 425.55 L240.90 425.62" fill="none" stroke="#2a1c24" stroke-width="1.05" stroke-linejoin="round"/>
<path d="M210.9 430.0 L210.87 429.92 L211.43 429.57 L211.87 428.83 L212.27 427.64 L213.13 424.27 L213.37 423.70 L213.59 423.51 L213.83 423.71 L214.07 424.29 L214.93 427.66 L215.33 428.84 L215.79 429.59 L216.40 429.93 L217.62 430.01 L240.90 430.01 L240.9 430.0 Z" fill="rgba(135,155,190,0.6)" stroke="none"/>
<path d="M210.87 429.92 L211.43 429.57 L211.87 428.83 L212.27 427.64 L213.13 424.27 L213.37 423.70 L213.59 423.51 L213.83 423.71 L214.07 424.29 L214.93 427.66 L215.33 428.84 L215.79 429.59 L216.40 429.93 L217.62 430.01 L240.90 430.01" fill="none" stroke="#0a0a14" stroke-width="1.05" stroke-linejoin="round"/>
<path d="M210.9 434.4 L210.87 434.31 L211.43 433.96 L211.87 433.22 L212.27 432.03 L213.13 428.66 L213.37 428.09 L213.59 427.90 L213.83 428.10 L214.07 428.68 L214.93 432.05 L215.33 433.23 L215.79 433.98 L216.40 434.32 L217.48 434.40 L225.28 434.37 L226.49 434.27 L228.41 433.87 L229.21 433.80 L232.95 434.37 L240.90 434.40 L240.9 434.4 Z" fill="rgba(135,155,190,0.6)" stroke="none"/>
<path d="M210.87 434.31 L211.43 433.96 L211.87 433.22 L212.27 432.03 L213.13 428.66 L213.37 428.09 L213.59 427.90 L213.83 428.10 L214.07 428.68 L214.93 432.05 L215.33 433.23 L215.79 433.98 L216.40 434.32 L217.48 434.40 L225.28 434.37 L226.49 434.27 L228.41 433.87 L229.21 433.80 L232.95 434.37 L240.90 434.40" fill="none" stroke="#0a0a14" stroke-width="1.05" stroke-linejoin="round"/>
<circle cx="205.70" cy="424.32" r="0.55" fill="#333"/>
<line x1="44.30" y1="448.20" x2="44.30" y2="488.50" stroke="#7a7a7a" stroke-width="0.9"/>
<line x1="43.85" y1="488.50" x2="94.60" y2="488.50" stroke="#7a7a7a" stroke-width="0.9"/>
<line x1="42.70" y1="485.50" x2="44.30" y2="485.50" stroke="#7a7a7a" stroke-width="0.7"/>
<line x1="42.70" y1="481.11" x2="44.30" y2="481.11" stroke="#7a7a7a" stroke-width="0.7"/>
<line x1="42.70" y1="476.72" x2="44.30" y2="476.72" stroke="#7a7a7a" stroke-width="0.7"/>
<line x1="42.70" y1="472.33" x2="44.30" y2="472.33" stroke="#7a7a7a" stroke-width="0.7"/>
<line x1="42.70" y1="467.94" x2="44.30" y2="467.94" stroke="#7a7a7a" stroke-width="0.7"/>
<line x1="42.70" y1="463.55" x2="44.30" y2="463.55" stroke="#7a7a7a" stroke-width="0.7"/>
<line x1="42.70" y1="459.16" x2="44.30" y2="459.16" stroke="#7a7a7a" stroke-width="0.7"/>
<line x1="42.70" y1="454.77" x2="44.30" y2="454.77" stroke="#7a7a7a" stroke-width="0.7"/>
<line x1="46.50" y1="488.50" x2="46.50" y2="490.10" stroke="#7a7a7a" stroke-width="0.7"/>
<line x1="54.30" y1="488.50" x2="54.30" y2="490.10" stroke="#7a7a7a" stroke-width="0.7"/>
<line x1="62.10" y1="488.50" x2="62.10" y2="490.10" stroke="#7a7a7a" stroke-width="0.7"/>
<line x1="69.90" y1="488.50" x2="69.90" y2="490.10" stroke="#7a7a7a" stroke-width="0.7"/>
<line x1="77.70" y1="488.50" x2="77.70" y2="490.10" stroke="#7a7a7a" stroke-width="0.7"/>
<line x1="85.50" y1="488.50" x2="85.50" y2="490.10" stroke="#7a7a7a" stroke-width="0.7"/>
<line x1="93.30" y1="488.50" x2="93.30" y2="490.10" stroke="#7a7a7a" stroke-width="0.7"/>
<path d="M46.5 467.9 L46.50 467.90 L48.33 467.65 L49.73 467.07 L50.87 466.19 L53.22 463.86 L54.42 463.11 L55.54 462.87 L59.38 462.73 L63.24 462.87 L64.44 463.16 L65.64 463.96 L67.67 466.00 L68.57 466.77 L69.55 467.35 L70.62 467.70 L71.67 467.86 L73.12 467.93 L83.16 467.94 L83.2 467.9 Z" fill="rgba(215,90,80,0.68)" stroke="none"/>
<path d="M46.50 467.90 L48.33 467.65 L49.73 467.07 L50.87 466.19 L53.22 463.86 L54.42 463.11 L55.54 462.87 L59.38 462.73 L63.24 462.87 L64.44 463.16 L65.64 463.96 L67.67 466.00 L68.57 466.77 L69.55 467.35 L70.62 467.70 L71.67 467.86 L73.12 467.93 L83.16 467.94" fill="none" stroke="#2a1c24" stroke-width="1.05" stroke-linejoin="round"/>
<path d="M46.5 472.3 L46.50 472.06 L47.94 471.72 L50.85 470.66 L52.10 470.37 L53.42 470.34 L55.96 470.74 L57.11 470.60 L57.74 470.32 L58.40 469.87 L60.90 467.55 L61.51 467.21 L62.07 467.11 L62.65 467.22 L63.29 467.59 L66.37 470.78 L67.27 471.42 L68.18 471.78 L69.30 471.85 L70.48 471.54 L71.58 470.90 L74.02 469.05 L74.75 468.72 L75.44 468.63 L76.07 468.75 L76.76 469.08 L79.18 470.94 L80.32 471.62 L81.60 472.06 L83.16 472.27 L83.2 472.3 Z" fill="rgba(175,212,240,0.65)" stroke="none"/>
<path d="M46.50 472.06 L47.94 471.72 L50.85 470.66 L52.10 470.37 L53.42 470.34 L55.96 470.74 L57.11 470.60 L57.74 470.32 L58.40 469.87 L60.90 467.55 L61.51 467.21 L62.07 467.11 L62.65 467.22 L63.29 467.59 L66.37 470.78 L67.27 471.42 L68.18 471.78 L69.30 471.85 L70.48 471.54 L71.58 470.90 L74.02 469.05 L74.75 468.72 L75.44 468.63 L76.07 468.75 L76.76 469.08 L79.18 470.94 L80.32 471.62 L81.60 472.06 L83.16 472.27" fill="none" stroke="#1a2c40" stroke-width="1.05" stroke-linejoin="round"/>
<path d="M46.5 476.7 L46.50 476.71 L48.43 476.60 L49.65 476.20 L50.65 475.46 L52.56 473.44 L53.05 473.13 L53.49 473.02 L53.95 473.11 L54.44 473.41 L56.40 475.47 L57.45 476.22 L58.11 476.46 L58.82 476.56 L59.58 476.52 L60.28 476.34 L61.14 475.86 L61.95 475.07 L62.80 473.81 L64.81 470.22 L65.42 469.55 L66.00 469.32 L66.59 469.55 L67.20 470.23 L69.18 473.78 L70.01 475.02 L70.77 475.79 L71.60 476.30 L72.55 476.57 L73.87 476.69 L83.16 476.72 L83.2 476.7 Z" fill="rgba(215,90,80,0.68)" stroke="none"/>
<path d="M46.50 476.71 L48.43 476.60 L49.65 476.20 L50.65 475.46 L52.56 473.44 L53.05 473.13 L53.49 473.02 L53.95 473.11 L54.44 473.41 L56.40 475.47 L57.45 476.22 L58.11 476.46 L58.82 476.56 L59.58 476.52 L60.28 476.34 L61.14 475.86 L61.95 475.07 L62.80 473.81 L64.81 470.22 L65.42 469.55 L66.00 469.32 L66.59 469.55 L67.20 470.23 L69.18 473.78 L70.01 475.02 L70.77 475.79 L71.60 476.30 L72.55 476.57 L73.87 476.69 L83.16 476.72" fill="none" stroke="#2a1c24" stroke-width="1.05" stroke-linejoin="round"/>
<path d="M46.5 481.1 L46.50 480.98 L48.36 480.78 L50.02 480.46 L51.73 479.96 L56.52 478.24 L58.52 477.81 L60.21 477.65 L61.19 477.74 L62.12 478.00 L63.02 478.42 L66.03 480.12 L67.20 480.55 L68.52 480.82 L70.16 480.99 L72.41 481.08 L83.16 481.11 L83.2 481.1 Z" fill="rgba(175,212,240,0.65)" stroke="none"/>
<path d="M46.50 480.98 L48.36 480.78 L50.02 480.46 L51.73 479.96 L56.52 478.24 L58.52 477.81 L60.21 477.65 L61.19 477.74 L62.12 478.00 L63.02 478.42 L66.03 480.12 L67.20 480.55 L68.52 480.82 L70.16 480.99 L72.41 481.08 L83.16 481.11" fill="none" stroke="#1a2c40" stroke-width="1.05" stroke-linejoin="round"/>
<path d="M46.5 485.5 L46.50 485.44 L47.84 485.33 L48.94 485.12 L49.92 484.79 L50.80 484.32 L51.61 483.72 L52.41 482.97 L54.83 480.16 L55.66 479.32 L56.57 478.70 L57.42 478.50 L58.21 478.67 L59.01 479.19 L59.87 480.01 L61.85 482.34 L62.83 483.35 L63.90 484.17 L64.98 484.65 L65.69 484.77 L66.44 484.74 L68.96 484.08 L70.04 483.99 L71.16 484.20 L73.78 485.12 L75.17 485.38 L77.22 485.49 L83.16 485.50 L83.2 485.5 Z" fill="rgba(165,160,188,0.7)" stroke="none"/>
<path d="M46.50 485.44 L47.84 485.33 L48.94 485.12 L49.92 484.79 L50.80 484.32 L51.61 483.72 L52.41 482.97 L54.83 480.16 L55.66 479.32 L56.57 478.70 L57.42 478.50 L58.21 478.67 L59.01 479.19 L59.87 480.01 L61.85 482.34 L62.83 483.35 L63.90 484.17 L64.98 484.65 L65.69 484.77 L66.44 484.74 L68.96 484.08 L70.04 483.99 L71.16 484.20 L73.78 485.12 L75.17 485.38 L77.22 485.49 L83.16 485.50" fill="none" stroke="#1a1a1a" stroke-width="1.05" stroke-linejoin="round"/>
<line x1="97.40" y1="448.20" x2="97.40" y2="488.50" stroke="#7a7a7a" stroke-width="0.9"/>
<line x1="96.95" y1="488.50" x2="147.70" y2="488.50" stroke="#7a7a7a" stroke-width="0.9"/>
<line x1="99.60" y1="488.50" x2="99.60" y2="490.10" stroke="#7a7a7a" stroke-width="0.7"/>
<line x1="107.40" y1="488.50" x2="107.40" y2="490.10" stroke="#7a7a7a" stroke-width="0.7"/>
<line x1="115.20" y1="488.50" x2="115.20" y2="490.10" stroke="#7a7a7a" stroke-width="0.7"/>
<line x1="123.00" y1="488.50" x2="123.00" y2="490.10" stroke="#7a7a7a" stroke-width="0.7"/>
<line x1="130.80" y1="488.50" x2="130.80" y2="490.10" stroke="#7a7a7a" stroke-width="0.7"/>
<line x1="138.60" y1="488.50" x2="138.60" y2="490.10" stroke="#7a7a7a" stroke-width="0.7"/>
<line x1="146.40" y1="488.50" x2="146.40" y2="490.10" stroke="#7a7a7a" stroke-width="0.7"/>
<path d="M102.7 454.8 L102.72 454.70 L103.72 454.37 L104.51 453.60 L105.20 452.38 L106.61 449.05 L107.03 448.45 L107.40 448.26 L107.77 448.45 L108.19 449.04 L109.56 452.25 L110.17 453.36 L110.79 454.06 L111.52 454.42 L112.68 454.45 L116.05 453.88 L117.70 453.77 L119.01 453.87 L122.40 454.47 L124.44 454.68 L133.92 454.77 L133.9 454.8 Z" fill="rgba(175,212,240,0.65)" stroke="none"/>
<path d="M102.72 454.70 L103.72 454.37 L104.51 453.60 L105.20 452.38 L106.61 449.05 L107.03 448.45 L107.40 448.26 L107.77 448.45 L108.19 449.04 L109.56 452.25 L110.17 453.36 L110.79 454.06 L111.52 454.42 L112.68 454.45 L116.05 453.88 L117.70 453.77 L119.01 453.87 L122.40 454.47 L124.44 454.68 L133.92 454.77" fill="none" stroke="#1a2c40" stroke-width="1.05" stroke-linejoin="round"/>
<path d="M102.7 459.2 L102.72 459.09 L103.72 458.76 L104.51 457.99 L105.20 456.77 L106.61 453.44 L107.03 452.84 L107.40 452.65 L107.77 452.84 L108.19 453.43 L109.56 456.64 L110.17 457.75 L110.79 458.45 L111.52 458.81 L112.68 458.84 L116.05 458.27 L117.70 458.16 L119.01 458.26 L122.40 458.86 L124.44 459.07 L133.92 459.16 L133.9 459.2 Z" fill="rgba(215,90,80,0.68)" stroke="none"/>
<path d="M102.72 459.09 L103.72 458.76 L104.51 457.99 L105.20 456.77 L106.61 453.44 L107.03 452.84 L107.40 452.65 L107.77 452.84 L108.19 453.43 L109.56 456.64 L110.17 457.75 L110.79 458.45 L111.52 458.81 L112.68 458.84 L116.05 458.27 L117.70 458.16 L119.01 458.26 L122.40 458.86 L124.44 459.07 L133.92 459.16" fill="none" stroke="#2a1c24" stroke-width="1.05" stroke-linejoin="round"/>
<path d="M102.7 463.6 L102.72 463.48 L103.72 463.15 L104.51 462.38 L105.20 461.16 L106.61 457.83 L107.03 457.23 L107.40 457.04 L107.77 457.23 L108.19 457.82 L109.56 461.03 L110.17 462.14 L110.79 462.84 L111.52 463.20 L112.68 463.23 L116.05 462.66 L117.70 462.55 L119.01 462.65 L122.40 463.25 L124.44 463.46 L133.92 463.55 L133.9 463.6 Z" fill="rgba(175,212,240,0.65)" stroke="none"/>
<path d="M102.72 463.48 L103.72 463.15 L104.51 462.38 L105.20 461.16 L106.61 457.83 L107.03 457.23 L107.40 457.04 L107.77 457.23 L108.19 457.82 L109.56 461.03 L110.17 462.14 L110.79 462.84 L111.52 463.20 L112.68 463.23 L116.05 462.66 L117.70 462.55 L119.01 462.65 L122.40 463.25 L124.44 463.46 L133.92 463.55" fill="none" stroke="#1a2c40" stroke-width="1.05" stroke-linejoin="round"/>
<path d="M102.7 467.9 L102.72 467.87 L103.72 467.54 L104.51 466.77 L105.20 465.55 L106.61 462.22 L107.03 461.62 L107.40 461.43 L107.77 461.62 L108.19 462.21 L109.56 465.42 L110.17 466.53 L110.79 467.23 L111.52 467.59 L112.68 467.62 L116.05 467.05 L117.70 466.94 L119.01 467.04 L122.40 467.64 L124.44 467.85 L133.92 467.94 L133.9 467.9 Z" fill="rgba(215,90,80,0.68)" stroke="none"/>
<path d="M102.72 467.87 L103.72 467.54 L104.51 466.77 L105.20 465.55 L106.61 462.22 L107.03 461.62 L107.40 461.43 L107.77 461.62 L108.19 462.21 L109.56 465.42 L110.17 466.53 L110.79 467.23 L111.52 467.59 L112.68 467.62 L116.05 467.05 L117.70 466.94 L119.01 467.04 L122.40 467.64 L124.44 467.85 L133.92 467.94" fill="none" stroke="#2a1c24" stroke-width="1.05" stroke-linejoin="round"/>
<path d="M102.7 472.3 L102.72 472.26 L103.72 471.93 L104.51 471.16 L105.20 469.94 L106.61 466.61 L107.03 466.01 L107.40 465.82 L107.77 466.01 L108.19 466.60 L109.56 469.81 L110.17 470.92 L110.79 471.62 L111.52 471.98 L112.68 472.01 L116.05 471.44 L117.70 471.33 L119.01 471.43 L122.40 472.03 L124.44 472.24 L133.92 472.33 L133.9 472.3 Z" fill="rgba(135,155,190,0.6)" stroke="none"/>
<path d="M102.72 472.26 L103.72 471.93 L104.51 471.16 L105.20 469.94 L106.61 466.61 L107.03 466.01 L107.40 465.82 L107.77 466.01 L108.19 466.60 L109.56 469.81 L110.17 470.92 L110.79 471.62 L111.52 471.98 L112.68 472.01 L116.05 471.44 L117.70 471.33 L119.01 471.43 L122.40 472.03 L124.44 472.24 L133.92 472.33" fill="none" stroke="#0a0a14" stroke-width="1.05" stroke-linejoin="round"/>
<path d="M102.7 476.7 L102.72 476.65 L103.72 476.32 L104.51 475.55 L105.20 474.33 L106.61 471.00 L107.03 470.40 L107.40 470.21 L107.77 470.40 L108.19 470.99 L109.56 474.20 L110.17 475.31 L110.79 476.01 L111.52 476.37 L112.68 476.40 L116.05 475.83 L117.70 475.72 L119.01 475.82 L122.40 476.42 L124.44 476.63 L133.92 476.72 L133.9 476.7 Z" fill="rgba(215,90,80,0.68)" stroke="none"/>
<path d="M102.72 476.65 L103.72 476.32 L104.51 475.55 L105.20 474.33 L106.61 471.00 L107.03 470.40 L107.40 470.21 L107.77 470.40 L108.19 470.99 L109.56 474.20 L110.17 475.31 L110.79 476.01 L111.52 476.37 L112.68 476.40 L116.05 475.83 L117.70 475.72 L119.01 475.82 L122.40 476.42 L124.44 476.63 L133.92 476.72" fill="none" stroke="#2a1c24" stroke-width="1.05" stroke-linejoin="round"/>
<path d="M102.7 481.1 L102.72 481.04 L103.72 480.71 L104.51 479.94 L105.20 478.72 L106.61 475.39 L107.03 474.79 L107.40 474.60 L107.77 474.79 L108.19 475.38 L109.56 478.59 L110.17 479.70 L110.79 480.40 L111.52 480.76 L112.68 480.79 L116.05 480.22 L117.70 480.11 L119.01 480.21 L122.40 480.81 L124.44 481.02 L133.92 481.11 L133.9 481.1 Z" fill="rgba(175,212,240,0.65)" stroke="none"/>
<path d="M102.72 481.04 L103.72 480.71 L104.51 479.94 L105.20 478.72 L106.61 475.39 L107.03 474.79 L107.40 474.60 L107.77 474.79 L108.19 475.38 L109.56 478.59 L110.17 479.70 L110.79 480.40 L111.52 480.76 L112.68 480.79 L116.05 480.22 L117.70 480.11 L119.01 480.21 L122.40 480.81 L124.44 481.02 L133.92 481.11" fill="none" stroke="#1a2c40" stroke-width="1.05" stroke-linejoin="round"/>
<path d="M102.7 485.5 L102.72 485.43 L103.72 485.10 L104.51 484.33 L105.20 483.11 L106.61 479.78 L107.03 479.18 L107.40 478.99 L107.77 479.18 L108.19 479.77 L109.56 482.98 L110.17 484.09 L110.79 484.79 L111.52 485.15 L112.68 485.18 L116.05 484.61 L117.70 484.50 L119.01 484.60 L122.40 485.20 L124.44 485.41 L133.92 485.50 L133.9 485.5 Z" fill="rgba(165,160,188,0.7)" stroke="none"/>
<path d="M102.72 485.43 L103.72 485.10 L104.51 484.33 L105.20 483.11 L106.61 479.78 L107.03 479.18 L107.40 478.99 L107.77 479.18 L108.19 479.77 L109.56 482.98 L110.17 484.09 L110.79 484.79 L111.52 485.15 L112.68 485.18 L116.05 484.61 L117.70 484.50 L119.01 484.60 L122.40 485.20 L124.44 485.41 L133.92 485.50" fill="none" stroke="#1a1a1a" stroke-width="1.05" stroke-linejoin="round"/>
<line x1="150.40" y1="448.20" x2="150.40" y2="488.50" stroke="#7a7a7a" stroke-width="0.9"/>
<line x1="149.95" y1="488.50" x2="200.70" y2="488.50" stroke="#7a7a7a" stroke-width="0.9"/>
<line x1="152.60" y1="488.50" x2="152.60" y2="490.10" stroke="#7a7a7a" stroke-width="0.7"/>
<line x1="160.40" y1="488.50" x2="160.40" y2="490.10" stroke="#7a7a7a" stroke-width="0.7"/>
<line x1="168.20" y1="488.50" x2="168.20" y2="490.10" stroke="#7a7a7a" stroke-width="0.7"/>
<line x1="176.00" y1="488.50" x2="176.00" y2="490.10" stroke="#7a7a7a" stroke-width="0.7"/>
<line x1="183.80" y1="488.50" x2="183.80" y2="490.10" stroke="#7a7a7a" stroke-width="0.7"/>
<line x1="191.60" y1="488.50" x2="191.60" y2="490.10" stroke="#7a7a7a" stroke-width="0.7"/>
<line x1="199.40" y1="488.50" x2="199.40" y2="490.10" stroke="#7a7a7a" stroke-width="0.7"/>
<path d="M155.7 476.7 L155.72 476.66 L156.73 476.41 L157.50 475.83 L158.19 474.89 L159.61 472.32 L160.03 471.86 L160.40 471.72 L160.78 471.87 L161.19 472.33 L162.58 474.83 L163.21 475.73 L163.88 476.31 L164.69 476.61 L166.53 476.72 L185.36 476.72 L185.4 476.7 Z" fill="rgba(135,155,190,0.6)" stroke="none"/>
<path d="M155.72 476.66 L156.73 476.41 L157.50 475.83 L158.19 474.89 L159.61 472.32 L160.03 471.86 L160.40 471.72 L160.78 471.87 L161.19 472.33 L162.58 474.83 L163.21 475.73 L163.88 476.31 L164.69 476.61 L166.53 476.72 L185.36 476.72" fill="none" stroke="#0a0a14" stroke-width="1.05" stroke-linejoin="round"/>
<path d="M155.7 476.7 L155.72 476.72 L161.81 476.60 L163.54 476.39 L166.71 475.83 L168.21 475.72 L169.63 475.82 L173.09 476.43 L175.18 476.64 L185.36 476.72 L185.4 476.7 Z" fill="rgba(215,90,80,0.68)" stroke="none"/>
<path d="M155.72 476.72 L161.81 476.60 L163.54 476.39 L166.71 475.83 L168.21 475.72 L169.63 475.82 L173.09 476.43 L175.18 476.64 L185.36 476.72" fill="none" stroke="#2a1c24" stroke-width="1.05" stroke-linejoin="round"/>
<path d="M155.7 481.1 L155.72 481.05 L156.73 480.80 L157.50 480.22 L158.19 479.28 L159.61 476.71 L160.03 476.25 L160.40 476.11 L160.78 476.26 L161.19 476.72 L162.58 479.22 L163.21 480.12 L163.88 480.70 L164.69 481.00 L166.53 481.11 L185.36 481.11 L185.4 481.1 Z" fill="rgba(175,212,240,0.65)" stroke="none"/>
<path d="M155.72 481.05 L156.73 480.80 L157.50 480.22 L158.19 479.28 L159.61 476.71 L160.03 476.25 L160.40 476.11 L160.78 476.26 L161.19 476.72 L162.58 479.22 L163.21 480.12 L163.88 480.70 L164.69 481.00 L166.53 481.11 L185.36 481.11" fill="none" stroke="#1a2c40" stroke-width="1.05" stroke-linejoin="round"/>
<path d="M155.7 485.5 L155.72 485.44 L156.73 485.19 L157.50 484.61 L158.19 483.67 L159.61 481.10 L160.03 480.64 L160.40 480.50 L160.78 480.65 L161.19 481.11 L162.58 483.61 L163.21 484.51 L163.88 485.09 L164.69 485.39 L166.53 485.50 L185.36 485.50 L185.4 485.5 Z" fill="rgba(165,160,188,0.7)" stroke="none"/>
<path d="M155.72 485.44 L156.73 485.19 L157.50 484.61 L158.19 483.67 L159.61 481.10 L160.03 480.64 L160.40 480.50 L160.78 480.65 L161.19 481.11 L162.58 483.61 L163.21 484.51 L163.88 485.09 L164.69 485.39 L166.53 485.50 L185.36 485.50" fill="none" stroke="#1a1a1a" stroke-width="1.05" stroke-linejoin="round"/>
<path d="M155.7 485.5 L155.72 485.50 L161.00 485.48 L162.99 485.30 L164.55 484.79 L167.14 483.33 L168.21 483.10 L168.78 483.17 L169.39 483.39 L172.22 484.95 L173.80 485.36 L176.09 485.49 L185.36 485.50 L185.4 485.5 Z" fill="rgba(215,90,80,0.68)" stroke="none"/>
<path d="M155.72 485.50 L161.00 485.48 L162.99 485.30 L164.55 484.79 L167.14 483.33 L168.21 483.10 L168.78 483.17 L169.39 483.39 L172.22 484.95 L173.80 485.36 L176.09 485.49 L185.36 485.50" fill="none" stroke="#2a1c24" stroke-width="1.05" stroke-linejoin="round"/>
<line x1="203.60" y1="448.20" x2="203.60" y2="488.50" stroke="#7a7a7a" stroke-width="0.9"/>
<line x1="203.15" y1="488.50" x2="253.90" y2="488.50" stroke="#7a7a7a" stroke-width="0.9"/>
<line x1="205.80" y1="488.50" x2="205.80" y2="490.10" stroke="#7a7a7a" stroke-width="0.7"/>
<line x1="213.60" y1="488.50" x2="213.60" y2="490.10" stroke="#7a7a7a" stroke-width="0.7"/>
<line x1="221.40" y1="488.50" x2="221.40" y2="490.10" stroke="#7a7a7a" stroke-width="0.7"/>
<line x1="229.20" y1="488.50" x2="229.20" y2="490.10" stroke="#7a7a7a" stroke-width="0.7"/>
<line x1="237.00" y1="488.50" x2="237.00" y2="490.10" stroke="#7a7a7a" stroke-width="0.7"/>
<line x1="244.80" y1="488.50" x2="244.80" y2="490.10" stroke="#7a7a7a" stroke-width="0.7"/>
<line x1="252.60" y1="488.50" x2="252.60" y2="490.10" stroke="#7a7a7a" stroke-width="0.7"/>
<path d="M210.9 472.3 L210.87 471.90 L211.31 471.36 L211.72 470.50 L213.09 466.33 L213.36 465.87 L213.60 465.73 L213.89 465.93 L214.19 466.52 L215.25 469.90 L215.75 471.11 L216.30 471.87 L216.96 472.22 L218.42 472.33 L239.34 472.33 L239.3 472.3 Z" fill="rgba(175,212,240,0.65)" stroke="none"/>
<path d="M210.87 471.90 L211.31 471.36 L211.72 470.50 L213.09 466.33 L213.36 465.87 L213.60 465.73 L213.89 465.93 L214.19 466.52 L215.25 469.90 L215.75 471.11 L216.30 471.87 L216.96 472.22 L218.42 472.33 L239.34 472.33" fill="none" stroke="#1a2c40" stroke-width="1.05" stroke-linejoin="round"/>
<path d="M210.9 476.7 L210.87 476.33 L211.31 475.84 L211.72 475.06 L213.09 471.26 L213.36 470.85 L213.60 470.72 L213.89 470.90 L214.19 471.44 L215.25 474.51 L215.75 475.61 L216.30 476.30 L216.96 476.62 L218.42 476.72 L239.34 476.72 L239.3 476.7 Z" fill="rgba(215,90,80,0.68)" stroke="none"/>
<path d="M210.87 476.33 L211.31 475.84 L211.72 475.06 L213.09 471.26 L213.36 470.85 L213.60 470.72 L213.89 470.90 L214.19 471.44 L215.25 474.51 L215.75 475.61 L216.30 476.30 L216.96 476.62 L218.42 476.72 L239.34 476.72" fill="none" stroke="#2a1c24" stroke-width="1.05" stroke-linejoin="round"/>
<path d="M210.9 481.1 L210.87 480.72 L211.31 480.23 L211.72 479.45 L213.09 475.65 L213.36 475.24 L213.60 475.11 L213.89 475.29 L214.19 475.83 L215.25 478.90 L215.75 480.00 L216.30 480.69 L216.96 481.01 L218.42 481.11 L239.34 481.11 L239.3 481.1 Z" fill="rgba(135,155,190,0.6)" stroke="none"/>
<path d="M210.87 480.72 L211.31 480.23 L211.72 479.45 L213.09 475.65 L213.36 475.24 L213.60 475.11 L213.89 475.29 L214.19 475.83 L215.25 478.90 L215.75 480.00 L216.30 480.69 L216.96 481.01 L218.42 481.11 L239.34 481.11" fill="none" stroke="#0a0a14" stroke-width="1.05" stroke-linejoin="round"/>
<path d="M210.9 485.5 L210.87 485.11 L211.31 484.62 L211.72 483.84 L213.09 480.04 L213.36 479.63 L213.60 479.50 L213.89 479.68 L214.19 480.22 L215.24 483.24 L215.73 484.35 L216.28 485.06 L216.94 485.39 L218.39 485.41 L220.64 484.97 L221.42 484.90 L224.16 485.37 L225.47 485.48 L239.34 485.50 L239.3 485.5 Z" fill="rgba(135,155,190,0.6)" stroke="none"/>
<path d="M210.87 485.11 L211.31 484.62 L211.72 483.84 L213.09 480.04 L213.36 479.63 L213.60 479.50 L213.89 479.68 L214.19 480.22 L215.24 483.24 L215.73 484.35 L216.28 485.06 L216.94 485.39 L218.39 485.41 L220.64 484.97 L221.42 484.90 L224.16 485.37 L225.47 485.48 L239.34 485.50" fill="none" stroke="#0a0a14" stroke-width="1.05" stroke-linejoin="round"/>
<circle cx="205.70" cy="471.03" r="0.55" fill="#333"/>
<rect x="392.10" y="275.20" width="6.30" height="6.30" fill="rgba(160,205,240,0.85)" stroke="#2a3f58" stroke-width="0.7" />
<rect x="414.10" y="275.20" width="6.70" height="6.30" fill="rgba(222,120,100,0.9)" stroke="#5a2a2a" stroke-width="0.7" />
<rect x="433.40" y="275.20" width="6.40" height="6.30" fill="#e4e4e4" stroke="#444" stroke-width="0.7" />
<line x1="300.60" y1="294.90" x2="300.60" y2="334.80" stroke="#7a7a7a" stroke-width="0.9"/>
<line x1="300.15" y1="334.80" x2="351.10" y2="334.80" stroke="#7a7a7a" stroke-width="0.9"/>
<line x1="298.80" y1="316.10" x2="300.60" y2="316.10" stroke="#333" stroke-width="0.8"/>
<line x1="298.80" y1="327.90" x2="300.60" y2="327.90" stroke="#333" stroke-width="0.8"/>
<path d="M308.2 316.1 L308.16 316.02 L308.49 315.75 L308.73 315.22 L309.14 312.84 L309.48 308.63 L310.15 297.19 L310.32 295.38 L310.49 294.70 L310.67 295.29 L310.85 297.26 L311.82 312.40 L312.18 314.86 L312.38 315.51 L312.64 315.89 L312.90 316.04 L313.29 316.09 L316.65 316.07 L322.30 315.60 L327.31 316.05 L333.90 316.10 L333.9 316.1 Z" fill="rgba(215,215,218,0.75)" stroke="none"/>
<path d="M308.16 316.02 L308.49 315.75 L308.73 315.22 L309.14 312.84 L309.48 308.63 L310.15 297.19 L310.32 295.38 L310.49 294.70 L310.67 295.29 L310.85 297.26 L311.82 312.40 L312.18 314.86 L312.38 315.51 L312.64 315.89 L312.90 316.04 L313.29 316.09 L316.65 316.07 L322.30 315.60 L327.31 316.05 L333.90 316.10" fill="none" stroke="#0a0a0a" stroke-width="1.1" stroke-linejoin="round"/>
<path d="M308.2 327.9 L308.16 327.82 L308.49 327.58 L308.73 327.09 L309.14 324.91 L309.48 321.06 L310.15 310.58 L310.32 308.92 L310.49 308.30 L310.67 308.84 L310.85 310.64 L311.82 324.51 L312.18 326.76 L312.38 327.36 L312.64 327.71 L313.27 327.89 L316.52 327.88 L322.32 327.50 L327.31 327.86 L333.90 327.90 L333.9 327.9 Z" fill="rgba(215,215,218,0.75)" stroke="none"/>
<path d="M308.16 327.82 L308.49 327.58 L308.73 327.09 L309.14 324.91 L309.48 321.06 L310.15 310.58 L310.32 308.92 L310.49 308.30 L310.67 308.84 L310.85 310.64 L311.82 324.51 L312.18 326.76 L312.38 327.36 L312.64 327.71 L313.27 327.89 L316.52 327.88 L322.32 327.50 L327.31 327.86 L333.90 327.90" fill="none" stroke="#0a0a0a" stroke-width="1.1" stroke-linejoin="round"/>
<line x1="353.70" y1="294.90" x2="353.70" y2="334.80" stroke="#7a7a7a" stroke-width="0.9"/>
<line x1="353.25" y1="334.80" x2="404.20" y2="334.80" stroke="#7a7a7a" stroke-width="0.9"/>
<path d="M359.7 316.1 L359.70 316.10 L360.34 316.06 L360.72 315.91 L361.02 315.58 L361.28 315.02 L361.74 313.02 L362.50 307.91 L362.68 307.14 L362.86 306.80 L363.06 307.00 L363.27 307.77 L364.06 312.99 L364.49 314.91 L364.75 315.50 L365.03 315.83 L365.38 315.98 L365.94 316.01 L367.68 315.85 L369.13 315.55 L370.40 315.08 L371.57 314.41 L372.62 313.59 L373.69 312.53 L376.90 308.58 L378.02 307.37 L379.22 306.50 L379.80 306.27 L380.36 306.20 L380.90 306.26 L381.46 306.46 L382.63 307.29 L383.75 308.48 L387.29 312.79 L388.54 313.95 L389.79 314.80 L391.22 315.43 L392.87 315.82 L394.89 316.02 L397.92 316.09 L397.9 316.1 Z" fill="rgba(215,215,218,0.75)" stroke="none"/>
<path d="M359.70 316.10 L360.34 316.06 L360.72 315.91 L361.02 315.58 L361.28 315.02 L361.74 313.02 L362.50 307.91 L362.68 307.14 L362.86 306.80 L363.06 307.00 L363.27 307.77 L364.06 312.99 L364.49 314.91 L364.75 315.50 L365.03 315.83 L365.38 315.98 L365.94 316.01 L367.68 315.85 L369.13 315.55 L370.40 315.08 L371.57 314.41 L372.62 313.59 L373.69 312.53 L376.90 308.58 L378.02 307.37 L379.22 306.50 L379.80 306.27 L380.36 306.20 L380.90 306.26 L381.46 306.46 L382.63 307.29 L383.75 308.48 L387.29 312.79 L388.54 313.95 L389.79 314.80 L391.22 315.43 L392.87 315.82 L394.89 316.02 L397.92 316.09" fill="none" stroke="#0a0a0a" stroke-width="1.1" stroke-linejoin="round"/>
<path d="M359.7 327.9 L359.70 327.90 L360.34 327.80 L360.72 327.47 L361.02 326.72 L361.28 325.46 L361.74 320.94 L362.53 309.13 L362.73 307.37 L362.91 306.90 L363.09 307.51 L363.29 309.42 L364.01 320.23 L364.36 324.28 L364.77 326.70 L365.03 327.37 L365.33 327.71 L366.04 327.84 L368.16 327.68 L369.61 327.41 L370.91 326.99 L371.96 326.48 L373.00 325.82 L376.06 323.39 L377.08 322.68 L378.17 322.17 L379.22 322.00 L380.19 322.15 L381.23 322.63 L382.28 323.34 L385.69 326.02 L386.96 326.75 L388.24 327.26 L389.69 327.60 L391.45 327.80 L397.92 327.90 L397.9 327.9 Z" fill="rgba(215,215,218,0.75)" stroke="none"/>
<path d="M359.70 327.90 L360.34 327.80 L360.72 327.47 L361.02 326.72 L361.28 325.46 L361.74 320.94 L362.53 309.13 L362.73 307.37 L362.91 306.90 L363.09 307.51 L363.29 309.42 L364.01 320.23 L364.36 324.28 L364.77 326.70 L365.03 327.37 L365.33 327.71 L366.04 327.84 L368.16 327.68 L369.61 327.41 L370.91 326.99 L371.96 326.48 L373.00 325.82 L376.06 323.39 L377.08 322.68 L378.17 322.17 L379.22 322.00 L380.19 322.15 L381.23 322.63 L382.28 323.34 L385.69 326.02 L386.96 326.75 L388.24 327.26 L389.69 327.60 L391.45 327.80 L397.92 327.90" fill="none" stroke="#0a0a0a" stroke-width="1.1" stroke-linejoin="round"/>
<line x1="406.20" y1="294.90" x2="406.20" y2="334.80" stroke="#7a7a7a" stroke-width="0.9"/>
<line x1="405.75" y1="334.80" x2="456.70" y2="334.80" stroke="#7a7a7a" stroke-width="0.9"/>
<path d="M411.7 316.1 L411.65 316.09 L412.63 316.06 L413.09 315.89 L413.43 315.46 L413.72 314.60 L414.20 311.47 L415.03 302.80 L415.22 301.59 L415.39 301.20 L415.59 301.60 L415.78 302.81 L416.83 312.81 L417.17 314.31 L417.36 314.73 L417.60 314.97 L417.85 315.00 L418.19 314.88 L419.25 314.10 L422.22 310.94 L423.09 310.14 L423.94 309.64 L424.74 309.50 L425.59 309.72 L426.52 310.34 L429.43 313.46 L430.64 314.54 L431.74 315.23 L432.90 315.68 L434.31 315.95 L436.21 316.07 L448.08 316.10 L448.1 316.1 Z" fill="rgba(215,215,218,0.75)" stroke="none"/>
<path d="M411.65 316.09 L412.63 316.06 L413.09 315.89 L413.43 315.46 L413.72 314.60 L414.20 311.47 L415.03 302.80 L415.22 301.59 L415.39 301.20 L415.59 301.60 L415.78 302.81 L416.83 312.81 L417.17 314.31 L417.36 314.73 L417.60 314.97 L417.85 315.00 L418.19 314.88 L419.25 314.10 L422.22 310.94 L423.09 310.14 L423.94 309.64 L424.74 309.50 L425.59 309.72 L426.52 310.34 L429.43 313.46 L430.64 314.54 L431.74 315.23 L432.90 315.68 L434.31 315.95 L436.21 316.07 L448.08 316.10" fill="none" stroke="#0a0a0a" stroke-width="1.1" stroke-linejoin="round"/>
<path d="M411.7 327.9 L411.65 327.90 L412.63 327.86 L413.09 327.63 L413.43 327.00 L413.72 325.74 L414.20 321.09 L415.03 308.22 L415.22 306.44 L415.39 305.90 L415.59 306.54 L415.78 308.41 L416.51 319.94 L416.88 324.23 L417.29 326.72 L417.53 327.36 L417.82 327.70 L418.38 327.84 L419.67 327.75 L420.78 327.54 L421.78 327.20 L423.29 326.32 L426.25 323.92 L427.05 323.53 L427.80 323.40 L428.48 323.51 L429.19 323.82 L432.78 326.64 L433.87 327.22 L435.06 327.60 L436.30 327.79 L437.98 327.88 L448.08 327.90 L448.1 327.9 Z" fill="rgba(215,215,218,0.75)" stroke="none"/>
<path d="M411.65 327.90 L412.63 327.86 L413.09 327.63 L413.43 327.00 L413.72 325.74 L414.20 321.09 L415.03 308.22 L415.22 306.44 L415.39 305.90 L415.59 306.54 L415.78 308.41 L416.51 319.94 L416.88 324.23 L417.29 326.72 L417.53 327.36 L417.82 327.70 L418.38 327.84 L419.67 327.75 L420.78 327.54 L421.78 327.20 L423.29 326.32 L426.25 323.92 L427.05 323.53 L427.80 323.40 L428.48 323.51 L429.19 323.82 L432.78 326.64 L433.87 327.22 L435.06 327.60 L436.30 327.79 L437.98 327.88 L448.08 327.90" fill="none" stroke="#0a0a0a" stroke-width="1.1" stroke-linejoin="round"/>
<line x1="458.70" y1="294.90" x2="458.70" y2="334.80" stroke="#7a7a7a" stroke-width="0.9"/>
<line x1="458.25" y1="334.80" x2="509.20" y2="334.80" stroke="#7a7a7a" stroke-width="0.9"/>
<path d="M463.1 316.1 L463.14 316.06 L463.97 315.90 L464.57 315.52 L465.08 314.81 L465.54 313.71 L466.31 310.53 L467.83 301.67 L468.23 300.25 L468.43 299.90 L468.60 299.80 L468.77 299.90 L468.97 300.26 L469.37 301.69 L470.80 310.10 L471.46 313.07 L471.83 314.20 L472.21 314.97 L472.64 315.52 L473.15 315.87 L473.69 316.02 L474.49 316.08 L477.75 315.99 L479.38 315.70 L480.70 315.15 L481.76 314.38 L482.79 313.30 L485.59 309.28 L486.45 308.22 L487.31 307.52 L488.11 307.30 L488.88 307.51 L489.71 308.18 L490.57 309.23 L492.57 312.19 L493.54 313.45 L494.66 314.56 L495.83 315.32 L497.12 315.78 L498.75 316.01 L506.04 316.10 L506.0 316.1 Z" fill="rgba(160,205,240,0.85)" stroke="none"/>
<path d="M463.14 316.06 L463.97 315.90 L464.57 315.52 L465.08 314.81 L465.54 313.71 L466.31 310.53 L467.83 301.67 L468.23 300.25 L468.43 299.90 L468.60 299.80 L468.77 299.90 L468.97 300.26 L469.37 301.69 L470.80 310.10 L471.46 313.07 L471.83 314.20 L472.21 314.97 L472.64 315.52 L473.15 315.87 L473.69 316.02 L474.49 316.08 L477.75 315.99 L479.38 315.70 L480.70 315.15 L481.76 314.38 L482.79 313.30 L485.59 309.28 L486.45 308.22 L487.31 307.52 L488.11 307.30 L488.88 307.51 L489.71 308.18 L490.57 309.23 L492.57 312.19 L493.54 313.45 L494.66 314.56 L495.83 315.32 L497.12 315.78 L498.75 316.01 L506.04 316.10" fill="none" stroke="#0a0a0a" stroke-width="1.1" stroke-linejoin="round"/>
<path d="M463.1 327.9 L463.14 327.89 L464.17 327.76 L464.80 327.38 L465.31 326.59 L465.74 325.34 L466.14 323.51 L466.51 321.16 L467.92 309.87 L468.26 308.19 L468.43 307.74 L468.60 307.60 L468.77 307.75 L468.95 308.20 L469.32 310.08 L470.58 320.34 L471.18 324.09 L471.83 326.39 L472.21 327.03 L472.61 327.39 L473.12 327.53 L473.78 327.45 L474.58 327.14 L475.35 326.68 L476.67 325.47 L479.53 322.07 L480.33 321.49 L481.10 321.30 L481.87 321.51 L482.67 322.11 L485.33 325.29 L486.45 326.40 L487.51 327.11 L488.68 327.56 L490.00 327.79 L491.83 327.88 L506.04 327.90 L506.0 327.9 Z" fill="rgba(222,120,100,0.9)" stroke="none"/>
<path d="M463.14 327.89 L464.17 327.76 L464.80 327.38 L465.31 326.59 L465.74 325.34 L466.14 323.51 L466.51 321.16 L467.92 309.87 L468.26 308.19 L468.43 307.74 L468.60 307.60 L468.77 307.75 L468.95 308.20 L469.32 310.08 L470.58 320.34 L471.18 324.09 L471.83 326.39 L472.21 327.03 L472.61 327.39 L473.12 327.53 L473.78 327.45 L474.58 327.14 L475.35 326.68 L476.67 325.47 L479.53 322.07 L480.33 321.49 L481.10 321.30 L481.87 321.51 L482.67 322.11 L485.33 325.29 L486.45 326.40 L487.51 327.11 L488.68 327.56 L490.00 327.79 L491.83 327.88 L506.04 327.90" fill="none" stroke="#0a0a0a" stroke-width="1.1" stroke-linejoin="round"/>
<line x1="300.60" y1="346.20" x2="300.60" y2="386.10" stroke="#7a7a7a" stroke-width="0.9"/>
<line x1="300.15" y1="386.10" x2="351.10" y2="386.10" stroke="#7a7a7a" stroke-width="0.9"/>
<line x1="298.80" y1="367.40" x2="300.60" y2="367.40" stroke="#333" stroke-width="0.8"/>
<line x1="298.80" y1="379.20" x2="300.60" y2="379.20" stroke="#333" stroke-width="0.8"/>
<path d="M305.8 367.4 L305.82 367.40 L307.68 367.30 L308.10 367.05 L308.46 366.55 L308.97 364.99 L309.98 359.62 L310.20 358.75 L310.43 358.32 L310.54 358.29 L310.67 358.42 L310.94 359.18 L311.83 363.84 L312.28 365.52 L312.77 366.36 L313.06 366.50 L313.42 366.48 L314.05 366.17 L314.79 365.60 L316.20 363.98 L317.40 362.05 L319.75 357.69 L320.71 356.24 L321.58 355.39 L322.01 355.17 L322.43 355.10 L322.88 355.18 L323.33 355.42 L324.29 356.42 L325.23 357.88 L327.33 361.81 L328.34 363.49 L329.48 364.99 L330.64 366.06 L331.96 366.78 L333.55 367.19 L335.58 367.36 L339.36 367.40 L339.4 367.4 Z" fill="rgba(215,215,218,0.75)" stroke="none"/>
<path d="M305.82 367.40 L307.68 367.30 L308.10 367.05 L308.46 366.55 L308.97 364.99 L309.98 359.62 L310.20 358.75 L310.43 358.32 L310.54 358.29 L310.67 358.42 L310.94 359.18 L311.83 363.84 L312.28 365.52 L312.77 366.36 L313.06 366.50 L313.42 366.48 L314.05 366.17 L314.79 365.60 L316.20 363.98 L317.40 362.05 L319.75 357.69 L320.71 356.24 L321.58 355.39 L322.01 355.17 L322.43 355.10 L322.88 355.18 L323.33 355.42 L324.29 356.42 L325.23 357.88 L327.33 361.81 L328.34 363.49 L329.48 364.99 L330.64 366.06 L331.96 366.78 L333.55 367.19 L335.58 367.36 L339.36 367.40" fill="none" stroke="#0a0a0a" stroke-width="1.45" stroke-linejoin="round"/>
<path d="M305.8 379.2 L305.82 379.20 L307.12 379.16 L307.68 378.97 L308.10 378.40 L308.46 377.23 L308.77 375.35 L309.06 372.70 L310.07 360.21 L310.29 358.58 L310.52 358.05 L310.74 358.69 L310.99 360.62 L311.81 370.94 L312.19 374.58 L312.62 376.88 L312.84 377.49 L313.11 377.84 L313.40 377.92 L313.76 377.80 L314.85 376.88 L315.90 375.64 L317.98 372.82 L318.88 371.83 L319.71 371.26 L320.49 371.10 L321.25 371.33 L322.03 371.92 L322.88 372.88 L324.87 375.59 L325.88 376.80 L327.02 377.83 L328.22 378.52 L329.54 378.93 L331.24 379.13 L339.36 379.20 L339.4 379.2 Z" fill="rgba(215,215,218,0.75)" stroke="none"/>
<path d="M305.82 379.20 L307.12 379.16 L307.68 378.97 L308.10 378.40 L308.46 377.23 L308.77 375.35 L309.06 372.70 L310.07 360.21 L310.29 358.58 L310.52 358.05 L310.74 358.69 L310.99 360.62 L311.81 370.94 L312.19 374.58 L312.62 376.88 L312.84 377.49 L313.11 377.84 L313.40 377.92 L313.76 377.80 L314.85 376.88 L315.90 375.64 L317.98 372.82 L318.88 371.83 L319.71 371.26 L320.49 371.10 L321.25 371.33 L322.03 371.92 L322.88 372.88 L324.87 375.59 L325.88 376.80 L327.02 377.83 L328.22 378.52 L329.54 378.93 L331.24 379.13 L339.36 379.20" fill="none" stroke="#0a0a0a" stroke-width="1.45" stroke-linejoin="round"/>
<line x1="353.70" y1="346.20" x2="353.70" y2="386.10" stroke="#7a7a7a" stroke-width="0.9"/>
<line x1="353.25" y1="386.10" x2="404.20" y2="386.10" stroke="#7a7a7a" stroke-width="0.9"/>
<path d="M355.8 367.4 L355.80 367.33 L356.92 367.08 L357.77 366.56 L358.51 365.64 L359.15 364.30 L359.74 362.57 L360.32 360.31 L362.13 351.40 L362.80 348.58 L363.18 347.38 L363.56 346.54 L363.94 346.05 L364.32 345.91 L364.63 346.01 L364.97 346.27 L366.18 347.75 L366.76 348.31 L367.29 348.63 L368.48 349.07 L369.13 349.56 L369.84 350.55 L371.34 353.29 L371.74 353.78 L372.10 353.99 L372.57 353.90 L373.06 353.32 L374.47 350.20 L374.92 349.40 L375.32 349.06 L375.72 349.16 L376.24 350.02 L376.80 351.80 L378.56 360.03 L379.28 362.87 L379.97 364.85 L380.69 366.13 L381.11 366.60 L381.56 366.93 L382.70 367.30 L384.22 367.39 L389.34 367.40 L389.3 367.4 Z" fill="rgba(215,215,218,0.75)" stroke="none"/>
<path d="M355.80 367.33 L356.92 367.08 L357.77 366.56 L358.51 365.64 L359.15 364.30 L359.74 362.57 L360.32 360.31 L362.13 351.40 L362.80 348.58 L363.18 347.38 L363.56 346.54 L363.94 346.05 L364.32 345.91 L364.63 346.01 L364.97 346.27 L366.18 347.75 L366.76 348.31 L367.29 348.63 L368.48 349.07 L369.13 349.56 L369.84 350.55 L371.34 353.29 L371.74 353.78 L372.10 353.99 L372.57 353.90 L373.06 353.32 L374.47 350.20 L374.92 349.40 L375.32 349.06 L375.72 349.16 L376.24 350.02 L376.80 351.80 L378.56 360.03 L379.28 362.87 L379.97 364.85 L380.69 366.13 L381.11 366.60 L381.56 366.93 L382.70 367.30 L384.22 367.39 L389.34 367.40" fill="none" stroke="#0a0a0a" stroke-width="1.45" stroke-linejoin="round"/>
<path d="M355.8 379.2 L355.80 379.17 L356.96 378.99 L357.77 378.57 L358.44 377.77 L359.02 376.55 L359.51 375.01 L360.03 372.89 L361.88 363.30 L362.31 361.80 L362.71 360.98 L362.91 360.81 L363.11 360.81 L363.51 361.24 L363.96 362.29 L364.97 365.45 L365.46 366.70 L366.02 367.53 L366.31 367.70 L366.62 367.70 L366.96 367.53 L367.34 367.16 L368.23 365.85 L369.10 364.20 L370.78 360.61 L371.50 359.35 L372.23 358.49 L372.59 358.27 L372.95 358.20 L373.44 358.33 L373.96 358.76 L374.47 359.46 L375.03 360.51 L376.06 363.02 L378.27 369.44 L379.32 372.21 L380.46 374.65 L381.63 376.47 L382.27 377.21 L382.97 377.82 L383.71 378.29 L384.51 378.64 L386.41 379.05 L389.34 379.19 L389.3 379.2 Z" fill="rgba(215,215,218,0.75)" stroke="none"/>
<path d="M355.80 379.17 L356.96 378.99 L357.77 378.57 L358.44 377.77 L359.02 376.55 L359.51 375.01 L360.03 372.89 L361.88 363.30 L362.31 361.80 L362.71 360.98 L362.91 360.81 L363.11 360.81 L363.51 361.24 L363.96 362.29 L364.97 365.45 L365.46 366.70 L366.02 367.53 L366.31 367.70 L366.62 367.70 L366.96 367.53 L367.34 367.16 L368.23 365.85 L369.10 364.20 L370.78 360.61 L371.50 359.35 L372.23 358.49 L372.59 358.27 L372.95 358.20 L373.44 358.33 L373.96 358.76 L374.47 359.46 L375.03 360.51 L376.06 363.02 L378.27 369.44 L379.32 372.21 L380.46 374.65 L381.63 376.47 L382.27 377.21 L382.97 377.82 L383.71 378.29 L384.51 378.64 L386.41 379.05 L389.34 379.19" fill="none" stroke="#0a0a0a" stroke-width="1.45" stroke-linejoin="round"/>
<line x1="406.20" y1="346.20" x2="406.20" y2="386.10" stroke="#7a7a7a" stroke-width="0.9"/>
<line x1="405.75" y1="386.10" x2="456.70" y2="386.10" stroke="#7a7a7a" stroke-width="0.9"/>
<path d="M411.0 367.4 L411.03 367.40 L412.33 367.37 L412.89 367.17 L413.31 366.59 L413.65 365.48 L413.95 363.71 L414.25 360.99 L415.27 348.10 L415.49 346.44 L415.71 345.88 L415.93 346.48 L416.18 348.35 L417.02 359.17 L417.42 363.15 L417.84 365.52 L418.08 366.21 L418.36 366.61 L418.70 366.74 L419.14 366.65 L421.74 365.09 L422.36 364.86 L422.96 364.80 L423.52 364.89 L424.12 365.14 L426.89 366.80 L427.69 367.08 L428.55 367.26 L430.87 367.39 L441.06 367.40 L441.1 367.4 Z" fill="rgba(215,215,218,0.75)" stroke="none"/>
<path d="M411.03 367.40 L412.33 367.37 L412.89 367.17 L413.31 366.59 L413.65 365.48 L413.95 363.71 L414.25 360.99 L415.27 348.10 L415.49 346.44 L415.71 345.88 L415.93 346.48 L416.18 348.35 L417.02 359.17 L417.42 363.15 L417.84 365.52 L418.08 366.21 L418.36 366.61 L418.70 366.74 L419.14 366.65 L421.74 365.09 L422.36 364.86 L422.96 364.80 L423.52 364.89 L424.12 365.14 L426.89 366.80 L427.69 367.08 L428.55 367.26 L430.87 367.39 L441.06 367.40" fill="none" stroke="#0a0a0a" stroke-width="1.45" stroke-linejoin="round"/>
<path d="M411.0 379.2 L411.03 379.20 L412.59 379.13 L412.99 378.97 L413.31 378.70 L413.89 377.64 L414.87 374.74 L415.09 374.34 L415.31 374.20 L415.53 374.33 L415.75 374.71 L416.76 377.65 L417.32 378.67 L417.68 378.96 L418.14 379.08 L418.78 379.04 L419.44 378.83 L420.20 378.37 L420.90 377.65 L422.78 374.73 L423.38 373.95 L423.96 373.49 L424.58 373.33 L426.47 373.77 L428.25 373.83 L428.99 374.11 L429.93 374.92 L432.31 377.80 L433.09 378.42 L433.93 378.83 L434.79 379.05 L435.87 379.16 L441.06 379.20 L441.1 379.2 Z" fill="rgba(215,215,218,0.75)" stroke="none"/>
<path d="M411.03 379.20 L412.59 379.13 L412.99 378.97 L413.31 378.70 L413.89 377.64 L414.87 374.74 L415.09 374.34 L415.31 374.20 L415.53 374.33 L415.75 374.71 L416.76 377.65 L417.32 378.67 L417.68 378.96 L418.14 379.08 L418.78 379.04 L419.44 378.83 L420.20 378.37 L420.90 377.65 L422.78 374.73 L423.38 373.95 L423.96 373.49 L424.58 373.33 L426.47 373.77 L428.25 373.83 L428.99 374.11 L429.93 374.92 L432.31 377.80 L433.09 378.42 L433.93 378.83 L434.79 379.05 L435.87 379.16 L441.06 379.20" fill="none" stroke="#0a0a0a" stroke-width="1.45" stroke-linejoin="round"/>
<line x1="458.70" y1="346.20" x2="458.70" y2="386.10" stroke="#7a7a7a" stroke-width="0.9"/>
<line x1="458.25" y1="386.10" x2="509.20" y2="386.10" stroke="#7a7a7a" stroke-width="0.9"/>
<path d="M463.9 367.4 L463.92 367.40 L465.13 367.37 L465.60 367.20 L465.96 366.67 L466.25 365.58 L466.77 361.13 L467.62 348.62 L467.79 347.07 L467.97 346.50 L468.17 347.13 L468.37 348.96 L469.08 359.69 L469.43 363.75 L469.83 366.15 L470.07 366.82 L470.34 367.19 L470.68 367.35 L471.21 367.40 L477.16 367.34 L478.88 367.13 L481.62 366.49 L482.69 366.40 L483.76 366.51 L486.21 367.09 L487.65 367.30 L493.56 367.40 L493.6 367.4 Z" fill="rgba(215,215,218,0.75)" stroke="none"/>
<path d="M463.92 367.40 L465.13 367.37 L465.60 367.20 L465.96 366.67 L466.25 365.58 L466.77 361.13 L467.62 348.62 L467.79 347.07 L467.97 346.50 L468.17 347.13 L468.37 348.96 L469.08 359.69 L469.43 363.75 L469.83 366.15 L470.07 366.82 L470.34 367.19 L470.68 367.35 L471.21 367.40 L477.16 367.34 L478.88 367.13 L481.62 366.49 L482.69 366.40 L483.76 366.51 L486.21 367.09 L487.65 367.30 L493.56 367.40" fill="none" stroke="#0a0a0a" stroke-width="1.1" stroke-linejoin="round"/>
<path d="M463.9 379.2 L463.92 379.20 L465.60 379.11 L465.96 378.86 L466.25 378.36 L466.77 376.29 L467.62 370.47 L467.79 369.74 L467.97 369.47 L468.17 369.74 L468.37 370.57 L469.31 376.61 L469.61 377.57 L469.93 377.95 L470.24 377.87 L470.62 377.43 L472.32 374.39 L472.71 374.01 L473.09 373.91 L473.66 374.19 L474.75 375.36 L475.26 375.78 L475.80 375.99 L477.08 376.07 L477.73 376.28 L478.40 376.73 L480.28 378.35 L480.93 378.73 L481.64 378.98 L482.51 379.13 L483.74 379.19 L493.56 379.20 L493.6 379.2 Z" fill="rgba(215,215,218,0.75)" stroke="none"/>
<path d="M463.92 379.20 L465.60 379.11 L465.96 378.86 L466.25 378.36 L466.77 376.29 L467.62 370.47 L467.79 369.74 L467.97 369.47 L468.17 369.74 L468.37 370.57 L469.31 376.61 L469.61 377.57 L469.93 377.95 L470.24 377.87 L470.62 377.43 L472.32 374.39 L472.71 374.01 L473.09 373.91 L473.66 374.19 L474.75 375.36 L475.26 375.78 L475.80 375.99 L477.08 376.07 L477.73 376.28 L478.40 376.73 L480.28 378.35 L480.93 378.73 L481.64 378.98 L482.51 379.13 L483.74 379.19 L493.56 379.20" fill="none" stroke="#0a0a0a" stroke-width="1.1" stroke-linejoin="round"/>
<line x1="300.60" y1="397.00" x2="300.60" y2="437.30" stroke="#7a7a7a" stroke-width="0.9"/>
<line x1="300.15" y1="437.30" x2="351.10" y2="437.30" stroke="#7a7a7a" stroke-width="0.9"/>
<line x1="298.80" y1="418.20" x2="300.60" y2="418.20" stroke="#333" stroke-width="0.8"/>
<line x1="298.80" y1="430.40" x2="300.60" y2="430.40" stroke="#333" stroke-width="0.8"/>
<path d="M306.6 418.2 L306.60 418.20 L307.68 418.17 L308.14 417.98 L308.49 417.42 L308.78 416.31 L309.28 411.91 L310.14 399.17 L310.32 397.52 L310.51 396.97 L310.70 397.64 L310.88 399.39 L311.61 410.45 L311.95 414.28 L312.34 416.73 L312.55 417.34 L312.82 417.71 L313.21 417.83 L313.90 417.68 L314.92 417.28 L317.31 416.09 L318.06 415.86 L318.75 415.80 L319.41 415.88 L320.12 416.11 L323.34 417.64 L325.15 418.05 L327.77 418.19 L337.80 418.20 L337.8 418.2 Z" fill="rgba(215,215,218,0.75)" stroke="none"/>
<path d="M306.60 418.20 L307.68 418.17 L308.14 417.98 L308.49 417.42 L308.78 416.31 L309.28 411.91 L310.14 399.17 L310.32 397.52 L310.51 396.97 L310.70 397.64 L310.88 399.39 L311.61 410.45 L311.95 414.28 L312.34 416.73 L312.55 417.34 L312.82 417.71 L313.21 417.83 L313.90 417.68 L314.92 417.28 L317.31 416.09 L318.06 415.86 L318.75 415.80 L319.41 415.88 L320.12 416.11 L323.34 417.64 L325.15 418.05 L327.77 418.19 L337.80 418.20" fill="none" stroke="#0a0a0a" stroke-width="1.1" stroke-linejoin="round"/>
<path d="M306.6 430.4 L306.60 430.39 L307.66 430.36 L308.14 430.24 L308.49 429.91 L308.78 429.28 L309.28 426.78 L310.14 419.54 L310.32 418.58 L310.51 418.25 L310.70 418.59 L310.91 419.68 L311.90 427.44 L312.24 428.67 L312.42 429.02 L312.65 429.22 L313.09 429.21 L313.80 428.82 L316.60 426.58 L317.50 425.97 L318.37 425.60 L319.20 425.50 L319.93 425.64 L320.72 426.01 L324.55 428.95 L325.69 429.57 L326.88 429.99 L328.19 430.23 L329.88 430.36 L337.80 430.40 L337.8 430.4 Z" fill="rgba(215,215,218,0.75)" stroke="none"/>
<path d="M306.60 430.39 L307.66 430.36 L308.14 430.24 L308.49 429.91 L308.78 429.28 L309.28 426.78 L310.14 419.54 L310.32 418.58 L310.51 418.25 L310.70 418.59 L310.91 419.68 L311.90 427.44 L312.24 428.67 L312.42 429.02 L312.65 429.22 L313.09 429.21 L313.80 428.82 L316.60 426.58 L317.50 425.97 L318.37 425.60 L319.20 425.50 L319.93 425.64 L320.72 426.01 L324.55 428.95 L325.69 429.57 L326.88 429.99 L328.19 430.23 L329.88 430.36 L337.80 430.40" fill="none" stroke="#0a0a0a" stroke-width="1.1" stroke-linejoin="round"/>
<line x1="353.70" y1="397.00" x2="353.70" y2="437.30" stroke="#7a7a7a" stroke-width="0.9"/>
<line x1="353.25" y1="437.30" x2="404.20" y2="437.30" stroke="#7a7a7a" stroke-width="0.9"/>
<path d="M360.9 418.2 L360.87 418.20 L361.46 418.16 L361.74 417.95 L361.95 417.35 L362.12 416.16 L362.42 411.69 L362.91 399.74 L363.13 397.50 L363.36 399.84 L364.02 414.82 L364.28 417.20 L364.44 417.79 L364.63 418.08 L365.28 418.20 L387.00 418.20 L387.0 418.2 Z" fill="rgba(215,215,218,0.75)" stroke="none"/>
<path d="M360.87 418.20 L361.46 418.16 L361.74 417.95 L361.95 417.35 L362.12 416.16 L362.42 411.69 L362.91 399.74 L363.13 397.50 L363.36 399.84 L364.02 414.82 L364.28 417.20 L364.44 417.79 L364.63 418.08 L365.28 418.20 L387.00 418.20" fill="none" stroke="#0a0a0a" stroke-width="1.1" stroke-linejoin="round"/>
<path d="M360.9 430.4 L360.87 430.40 L361.46 430.36 L361.74 430.15 L361.95 429.53 L362.12 428.33 L362.42 423.79 L362.91 411.67 L363.13 409.40 L363.36 411.77 L364.02 426.97 L364.28 429.39 L364.44 429.98 L364.63 430.28 L365.28 430.40 L387.00 430.40 L387.0 430.4 Z" fill="rgba(215,215,218,0.75)" stroke="none"/>
<path d="M360.87 430.40 L361.46 430.36 L361.74 430.15 L361.95 429.53 L362.12 428.33 L362.42 423.79 L362.91 411.67 L363.13 409.40 L363.36 411.77 L364.02 426.97 L364.28 429.39 L364.44 429.98 L364.63 430.28 L365.28 430.40 L387.00 430.40" fill="none" stroke="#0a0a0a" stroke-width="1.1" stroke-linejoin="round"/>
<line x1="406.20" y1="397.00" x2="406.20" y2="437.30" stroke="#7a7a7a" stroke-width="0.9"/>
<line x1="405.75" y1="437.30" x2="456.70" y2="437.30" stroke="#7a7a7a" stroke-width="0.9"/>
<path d="M415.6 418.2 L415.55 403.17 L415.66 398.21 L415.70 397.51 L415.75 397.89 L416.09 415.14 L416.21 417.43 L416.40 418.16 L437.94 418.20 L437.9 418.2 Z" fill="rgba(222,120,100,0.9)" stroke="none"/>
<path d="M415.55 403.17 L415.66 398.21 L415.70 397.51 L415.75 397.89 L416.09 415.14 L416.21 417.43 L416.40 418.16 L437.94 418.20" fill="none" stroke="#0a0a0a" stroke-width="1.45" stroke-linejoin="round"/>
<path d="M415.6 430.4 L415.55 415.15 L415.66 410.12 L415.70 409.41 L415.75 409.80 L416.09 427.29 L416.21 429.62 L416.40 430.36 L437.94 430.40 L437.9 430.4 Z" fill="rgba(222,120,100,0.9)" stroke="none"/>
<path d="M415.55 415.15 L415.66 410.12 L415.70 409.41 L415.75 409.80 L416.09 427.29 L416.21 429.62 L416.40 430.36 L437.94 430.40" fill="none" stroke="#0a0a0a" stroke-width="1.45" stroke-linejoin="round"/>
<line x1="458.70" y1="397.00" x2="458.70" y2="437.30" stroke="#7a7a7a" stroke-width="0.9"/>
<line x1="458.25" y1="437.30" x2="509.20" y2="437.30" stroke="#7a7a7a" stroke-width="0.9"/>
<path d="M464.7 418.2 L464.70 418.20 L465.79 418.18 L466.26 418.06 L466.62 417.70 L466.89 417.05 L467.39 414.44 L468.24 406.89 L468.41 405.95 L468.59 405.60 L468.79 405.97 L468.99 407.06 L469.70 413.52 L470.05 415.97 L470.45 417.42 L470.67 417.80 L470.94 418.03 L471.91 418.12 L474.01 417.87 L475.45 417.48 L478.37 416.43 L479.95 416.20 L481.38 416.41 L484.68 417.58 L486.59 418.00 L489.04 418.17 L494.34 418.20 L494.3 418.2 Z" fill="rgba(222,120,100,0.9)" stroke="none"/>
<path d="M464.70 418.20 L465.79 418.18 L466.26 418.06 L466.62 417.70 L466.89 417.05 L467.39 414.44 L468.24 406.89 L468.41 405.95 L468.59 405.60 L468.79 405.97 L468.99 407.06 L469.70 413.52 L470.05 415.97 L470.45 417.42 L470.67 417.80 L470.94 418.03 L471.91 418.12 L474.01 417.87 L475.45 417.48 L478.37 416.43 L479.95 416.20 L481.38 416.41 L484.68 417.58 L486.59 418.00 L489.04 418.17 L494.34 418.20" fill="none" stroke="#0a0a0a" stroke-width="1.1" stroke-linejoin="round"/>
<path d="M464.7 430.4 L464.70 430.40 L465.79 430.38 L466.26 430.26 L466.62 429.91 L466.89 429.27 L467.39 426.70 L468.24 419.27 L468.41 418.34 L468.59 418.00 L468.79 418.36 L468.99 419.44 L469.70 425.81 L470.05 428.22 L470.45 429.66 L470.69 430.05 L470.96 430.27 L471.99 430.40 L494.34 430.40 L494.3 430.4 Z" fill="rgba(222,120,100,0.9)" stroke="none"/>
<path d="M464.70 430.40 L465.79 430.38 L466.26 430.26 L466.62 429.91 L466.89 429.27 L467.39 426.70 L468.24 419.27 L468.41 418.34 L468.59 418.00 L468.79 418.36 L468.99 419.44 L469.70 425.81 L470.05 428.22 L470.45 429.66 L470.69 430.05 L470.96 430.27 L471.99 430.40 L494.34 430.40" fill="none" stroke="#0a0a0a" stroke-width="1.1" stroke-linejoin="round"/>
<line x1="300.60" y1="447.80" x2="300.60" y2="487.80" stroke="#7a7a7a" stroke-width="0.9"/>
<line x1="300.15" y1="487.80" x2="351.10" y2="487.80" stroke="#7a7a7a" stroke-width="0.9"/>
<line x1="298.80" y1="469.00" x2="300.60" y2="469.00" stroke="#333" stroke-width="0.8"/>
<line x1="298.80" y1="480.90" x2="300.60" y2="480.90" stroke="#333" stroke-width="0.8"/>
<line x1="302.70" y1="487.80" x2="302.70" y2="489.40" stroke="#7a7a7a" stroke-width="0.7"/>
<line x1="310.50" y1="487.80" x2="310.50" y2="489.40" stroke="#7a7a7a" stroke-width="0.7"/>
<line x1="318.30" y1="487.80" x2="318.30" y2="489.40" stroke="#7a7a7a" stroke-width="0.7"/>
<line x1="326.10" y1="487.80" x2="326.10" y2="489.40" stroke="#7a7a7a" stroke-width="0.7"/>
<line x1="333.90" y1="487.80" x2="333.90" y2="489.40" stroke="#7a7a7a" stroke-width="0.7"/>
<line x1="341.70" y1="487.80" x2="341.70" y2="489.40" stroke="#7a7a7a" stroke-width="0.7"/>
<line x1="349.50" y1="487.80" x2="349.50" y2="489.40" stroke="#7a7a7a" stroke-width="0.7"/>
<path d="M306.6 469.0 L306.60 469.00 L307.68 468.96 L308.16 468.75 L308.53 468.15 L308.81 467.07 L309.31 462.89 L310.17 450.77 L310.37 449.16 L310.56 448.58 L310.74 449.00 L310.91 450.19 L311.74 458.64 L311.99 460.00 L312.24 460.55 L312.42 460.57 L312.63 460.31 L313.48 458.42 L313.97 457.54 L315.28 455.86 L316.61 453.95 L317.35 453.28 L317.69 453.19 L318.04 453.25 L318.45 453.51 L318.87 453.97 L319.77 455.52 L320.67 457.70 L322.87 463.92 L323.59 465.39 L324.32 466.37 L324.88 466.85 L325.55 467.21 L329.07 468.42 L330.91 468.82 L333.12 468.97 L333.1 469.0 Z" fill="rgba(215,215,218,0.75)" stroke="none"/>
<path d="M306.60 469.00 L307.68 468.96 L308.16 468.75 L308.53 468.15 L308.81 467.07 L309.31 462.89 L310.17 450.77 L310.37 449.16 L310.56 448.58 L310.74 449.00 L310.91 450.19 L311.74 458.64 L311.99 460.00 L312.24 460.55 L312.42 460.57 L312.63 460.31 L313.48 458.42 L313.97 457.54 L315.28 455.86 L316.61 453.95 L317.35 453.28 L317.69 453.19 L318.04 453.25 L318.45 453.51 L318.87 453.97 L319.77 455.52 L320.67 457.70 L322.87 463.92 L323.59 465.39 L324.32 466.37 L324.88 466.85 L325.55 467.21 L329.07 468.42 L330.91 468.82 L333.12 468.97" fill="none" stroke="#0a0a0a" stroke-width="1.45" stroke-linejoin="round"/>
<path d="M306.6 480.9 L306.60 479.81 L307.38 479.19 L308.00 478.47 L308.42 477.70 L308.76 476.72 L309.29 473.90 L310.21 466.40 L310.44 465.31 L310.67 464.95 L310.97 465.50 L311.71 468.46 L311.92 468.94 L312.13 469.13 L312.33 469.11 L312.54 468.91 L313.80 466.89 L314.59 466.08 L315.02 465.91 L315.44 465.94 L315.86 466.15 L316.29 466.54 L316.91 467.41 L317.58 468.68 L320.02 474.39 L321.13 476.66 L322.35 478.51 L323.63 479.72 L324.92 480.39 L326.51 480.75 L328.59 480.88 L333.12 480.90 L333.1 480.9 Z" fill="rgba(215,215,218,0.75)" stroke="none"/>
<path d="M306.60 479.81 L307.38 479.19 L308.00 478.47 L308.42 477.70 L308.76 476.72 L309.29 473.90 L310.21 466.40 L310.44 465.31 L310.67 464.95 L310.97 465.50 L311.71 468.46 L311.92 468.94 L312.13 469.13 L312.33 469.11 L312.54 468.91 L313.80 466.89 L314.59 466.08 L315.02 465.91 L315.44 465.94 L315.86 466.15 L316.29 466.54 L316.91 467.41 L317.58 468.68 L320.02 474.39 L321.13 476.66 L322.35 478.51 L323.63 479.72 L324.92 480.39 L326.51 480.75 L328.59 480.88 L333.12 480.90" fill="none" stroke="#0a0a0a" stroke-width="1.45" stroke-linejoin="round"/>
<line x1="353.70" y1="447.80" x2="353.70" y2="487.80" stroke="#7a7a7a" stroke-width="0.9"/>
<line x1="353.25" y1="487.80" x2="404.20" y2="487.80" stroke="#7a7a7a" stroke-width="0.9"/>
<line x1="355.80" y1="487.80" x2="355.80" y2="489.40" stroke="#7a7a7a" stroke-width="0.7"/>
<line x1="363.60" y1="487.80" x2="363.60" y2="489.40" stroke="#7a7a7a" stroke-width="0.7"/>
<line x1="371.40" y1="487.80" x2="371.40" y2="489.40" stroke="#7a7a7a" stroke-width="0.7"/>
<line x1="379.20" y1="487.80" x2="379.20" y2="489.40" stroke="#7a7a7a" stroke-width="0.7"/>
<line x1="387.00" y1="487.80" x2="387.00" y2="489.40" stroke="#7a7a7a" stroke-width="0.7"/>
<line x1="394.80" y1="487.80" x2="394.80" y2="489.40" stroke="#7a7a7a" stroke-width="0.7"/>
<line x1="402.60" y1="487.80" x2="402.60" y2="489.40" stroke="#7a7a7a" stroke-width="0.7"/>
<path d="M358.9 469.0 L358.92 468.99 L359.67 468.87 L360.14 468.48 L360.51 467.68 L360.83 466.38 L361.39 462.04 L362.42 450.20 L362.66 448.55 L362.91 448.00 L363.15 448.64 L363.41 450.54 L364.33 461.24 L364.76 465.09 L365.23 467.45 L365.49 468.13 L365.81 468.56 L366.11 468.72 L366.48 468.76 L367.57 468.46 L368.62 467.87 L370.79 466.26 L371.41 465.98 L371.99 465.90 L372.55 466.00 L373.17 466.29 L375.90 468.26 L377.38 468.79 L379.55 468.98 L387.00 469.00 L387.0 469.0 Z" fill="rgba(215,215,218,0.75)" stroke="none"/>
<path d="M358.92 468.99 L359.67 468.87 L360.14 468.48 L360.51 467.68 L360.83 466.38 L361.39 462.04 L362.42 450.20 L362.66 448.55 L362.91 448.00 L363.15 448.64 L363.41 450.54 L364.33 461.24 L364.76 465.09 L365.23 467.45 L365.49 468.13 L365.81 468.56 L366.11 468.72 L366.48 468.76 L367.57 468.46 L368.62 467.87 L370.79 466.26 L371.41 465.98 L371.99 465.90 L372.55 466.00 L373.17 466.29 L375.90 468.26 L377.38 468.79 L379.55 468.98 L387.00 469.00" fill="none" stroke="#0a0a0a" stroke-width="1.1" stroke-linejoin="round"/>
<path d="M358.9 469.0 L358.92 468.99 L359.56 468.90 L359.99 468.66 L360.34 468.20 L360.64 467.49 L361.17 465.30 L362.18 459.20 L362.42 458.31 L362.66 458.00 L362.91 458.31 L363.17 459.29 L364.11 465.00 L364.54 467.00 L365.02 468.26 L365.30 468.63 L365.62 468.84 L366.09 468.96 L366.89 469.00 L387.00 469.00 L387.0 469.0 Z" fill="rgba(160,205,240,0.85)" stroke="none"/>
<path d="M358.92 468.99 L359.56 468.90 L359.99 468.66 L360.34 468.20 L360.64 467.49 L361.17 465.30 L362.18 459.20 L362.42 458.31 L362.66 458.00 L362.91 458.31 L363.17 459.29 L364.11 465.00 L364.54 467.00 L365.02 468.26 L365.30 468.63 L365.62 468.84 L366.09 468.96 L366.89 469.00 L387.00 469.00" fill="none" stroke="#0a0a0a" stroke-width="1.1" stroke-linejoin="round"/>
<path d="M358.9 480.9 L358.92 480.84 L359.50 480.63 L359.93 480.17 L360.29 479.38 L360.62 478.13 L361.20 474.49 L362.33 464.65 L362.63 463.09 L362.78 462.70 L362.91 462.60 L363.19 463.15 L363.49 464.78 L364.54 474.02 L365.02 477.35 L365.55 479.44 L365.83 480.03 L366.16 480.42 L366.46 480.58 L366.84 480.62 L367.83 480.38 L368.86 479.84 L371.03 478.33 L371.65 478.07 L372.23 478.00 L372.79 478.10 L373.41 478.37 L376.12 480.20 L377.60 480.70 L379.76 480.88 L387.00 480.90 L387.0 480.9 Z" fill="rgba(160,205,240,0.85)" stroke="none"/>
<path d="M358.92 480.84 L359.50 480.63 L359.93 480.17 L360.29 479.38 L360.62 478.13 L361.20 474.49 L362.33 464.65 L362.63 463.09 L362.78 462.70 L362.91 462.60 L363.19 463.15 L363.49 464.78 L364.54 474.02 L365.02 477.35 L365.55 479.44 L365.83 480.03 L366.16 480.42 L366.46 480.58 L366.84 480.62 L367.83 480.38 L368.86 479.84 L371.03 478.33 L371.65 478.07 L372.23 478.00 L372.79 478.10 L373.41 478.37 L376.12 480.20 L377.60 480.70 L379.76 480.88 L387.00 480.90" fill="none" stroke="#0a0a0a" stroke-width="1.1" stroke-linejoin="round"/>
<line x1="406.20" y1="447.80" x2="406.20" y2="487.80" stroke="#7a7a7a" stroke-width="0.9"/>
<line x1="405.75" y1="487.80" x2="456.70" y2="487.80" stroke="#7a7a7a" stroke-width="0.9"/>
<line x1="408.30" y1="487.80" x2="408.30" y2="489.40" stroke="#7a7a7a" stroke-width="0.7"/>
<line x1="416.10" y1="487.80" x2="416.10" y2="489.40" stroke="#7a7a7a" stroke-width="0.7"/>
<line x1="423.90" y1="487.80" x2="423.90" y2="489.40" stroke="#7a7a7a" stroke-width="0.7"/>
<line x1="431.70" y1="487.80" x2="431.70" y2="489.40" stroke="#7a7a7a" stroke-width="0.7"/>
<line x1="439.50" y1="487.80" x2="439.50" y2="489.40" stroke="#7a7a7a" stroke-width="0.7"/>
<line x1="447.30" y1="487.80" x2="447.30" y2="489.40" stroke="#7a7a7a" stroke-width="0.7"/>
<line x1="455.10" y1="487.80" x2="455.10" y2="489.40" stroke="#7a7a7a" stroke-width="0.7"/>
<path d="M411.4 469.0 L411.42 468.68 L411.85 468.34 L412.23 467.83 L412.90 466.22 L413.53 463.70 L414.94 456.57 L415.35 455.30 L415.55 455.00 L415.73 454.91 L415.91 455.01 L416.10 455.31 L416.50 456.51 L417.80 462.86 L418.36 465.04 L418.91 466.42 L419.21 466.84 L419.50 467.08 L419.90 467.18 L420.37 467.07 L423.22 465.21 L424.07 464.91 L424.88 464.86 L425.53 464.99 L426.26 465.28 L429.78 467.19 L431.93 467.91 L434.12 468.38 L436.36 468.72 L438.47 468.90 L441.06 468.98 L441.1 469.0 Z" fill="rgba(215,215,218,0.75)" stroke="none"/>
<path d="M411.42 468.68 L411.85 468.34 L412.23 467.83 L412.90 466.22 L413.53 463.70 L414.94 456.57 L415.35 455.30 L415.55 455.00 L415.73 454.91 L415.91 455.01 L416.10 455.31 L416.50 456.51 L417.80 462.86 L418.36 465.04 L418.91 466.42 L419.21 466.84 L419.50 467.08 L419.90 467.18 L420.37 467.07 L423.22 465.21 L424.07 464.91 L424.88 464.86 L425.53 464.99 L426.26 465.28 L429.78 467.19 L431.93 467.91 L434.12 468.38 L436.36 468.72 L438.47 468.90 L441.06 468.98" fill="none" stroke="#0a0a0a" stroke-width="1.1" stroke-linejoin="round"/>
<path d="M411.4 480.9 L411.42 479.98 L412.11 478.57 L412.72 476.28 L413.36 472.70 L414.84 462.44 L415.29 460.51 L415.51 460.04 L415.71 459.90 L415.91 460.04 L416.12 460.50 L416.58 462.42 L418.10 472.93 L418.79 476.71 L419.52 479.12 L419.92 479.86 L420.37 480.38 L421.14 480.76 L422.37 480.89 L441.06 480.90 L441.1 480.9 Z" fill="rgba(215,215,218,0.75)" stroke="none"/>
<path d="M411.42 479.98 L412.11 478.57 L412.72 476.28 L413.36 472.70 L414.84 462.44 L415.29 460.51 L415.51 460.04 L415.71 459.90 L415.91 460.04 L416.12 460.50 L416.58 462.42 L418.10 472.93 L418.79 476.71 L419.52 479.12 L419.92 479.86 L420.37 480.38 L421.14 480.76 L422.37 480.89 L441.06 480.90" fill="none" stroke="#0a0a0a" stroke-width="1.1" stroke-linejoin="round"/>
<line x1="458.70" y1="447.80" x2="458.70" y2="487.80" stroke="#7a7a7a" stroke-width="0.9"/>
<line x1="458.25" y1="487.80" x2="509.20" y2="487.80" stroke="#7a7a7a" stroke-width="0.9"/>
<line x1="460.80" y1="487.80" x2="460.80" y2="489.40" stroke="#7a7a7a" stroke-width="0.7"/>
<line x1="468.60" y1="487.80" x2="468.60" y2="489.40" stroke="#7a7a7a" stroke-width="0.7"/>
<line x1="476.40" y1="487.80" x2="476.40" y2="489.40" stroke="#7a7a7a" stroke-width="0.7"/>
<line x1="484.20" y1="487.80" x2="484.20" y2="489.40" stroke="#7a7a7a" stroke-width="0.7"/>
<line x1="492.00" y1="487.80" x2="492.00" y2="489.40" stroke="#7a7a7a" stroke-width="0.7"/>
<line x1="499.80" y1="487.80" x2="499.80" y2="489.40" stroke="#7a7a7a" stroke-width="0.7"/>
<line x1="507.60" y1="487.80" x2="507.60" y2="489.40" stroke="#7a7a7a" stroke-width="0.7"/>
<path d="M463.9 469.0 L463.92 469.00 L465.07 468.96 L465.60 468.76 L466.01 468.19 L466.35 467.14 L466.92 463.24 L467.93 452.03 L468.15 450.60 L468.37 450.10 L468.60 450.69 L468.84 452.37 L469.69 462.02 L470.09 465.46 L470.54 467.66 L470.80 468.27 L471.09 468.61 L471.53 468.77 L472.18 468.70 L475.24 467.67 L476.47 467.50 L477.63 467.69 L480.38 468.65 L482.00 468.91 L484.29 468.99 L493.56 469.00 L493.6 469.0 Z" fill="rgba(215,215,218,0.75)" stroke="none"/>
<path d="M463.92 469.00 L465.07 468.96 L465.60 468.76 L466.01 468.19 L466.35 467.14 L466.92 463.24 L467.93 452.03 L468.15 450.60 L468.37 450.10 L468.60 450.69 L468.84 452.37 L469.69 462.02 L470.09 465.46 L470.54 467.66 L470.80 468.27 L471.09 468.61 L471.53 468.77 L472.18 468.70 L475.24 467.67 L476.47 467.50 L477.63 467.69 L480.38 468.65 L482.00 468.91 L484.29 468.99 L493.56 469.00" fill="none" stroke="#0a0a0a" stroke-width="1.1" stroke-linejoin="round"/>
<path d="M463.9 480.9 L463.92 480.89 L464.71 480.75 L465.22 480.36 L465.64 479.58 L465.99 478.33 L466.63 474.27 L467.79 463.16 L468.09 461.45 L468.23 461.04 L468.37 460.90 L468.50 461.04 L468.66 461.53 L468.96 463.31 L470.01 473.41 L470.50 477.11 L471.03 479.40 L471.35 480.11 L471.71 480.54 L472.26 480.78 L473.15 480.80 L476.88 480.18 L478.07 480.10 L479.21 480.21 L481.90 480.71 L483.44 480.85 L493.56 480.90 L493.6 480.9 Z" fill="rgba(215,215,218,0.75)" stroke="none"/>
<path d="M463.92 480.89 L464.71 480.75 L465.22 480.36 L465.64 479.58 L465.99 478.33 L466.63 474.27 L467.79 463.16 L468.09 461.45 L468.23 461.04 L468.37 460.90 L468.50 461.04 L468.66 461.53 L468.96 463.31 L470.01 473.41 L470.50 477.11 L471.03 479.40 L471.35 480.11 L471.71 480.54 L472.26 480.78 L473.15 480.80 L476.88 480.18 L478.07 480.10 L479.21 480.21 L481.90 480.71 L483.44 480.85 L493.56 480.90" fill="none" stroke="#0a0a0a" stroke-width="1.1" stroke-linejoin="round"/>
</g>
<g filter="url(#softt)">
<text x="0" y="0" font-size="12.0" font-weight="bold" fill="#000" style="stroke:#000;stroke-width:0.25px" transform="matrix(1.0308,0,0,1.0417,6.291,14.750)">A</text>
<text x="12.10" y="63.60" font-size="6.2" fill="#1a1a1a" style="stroke-width:0.2px" text-anchor="middle" textLength="67.80" lengthAdjust="spacingAndGlyphs" transform="rotate(-90 12.10 63.60)">Cells expressing <tspan font-style="italic">TNFRSF17</tspan> (%)</text>
<text x="22.10" y="46.40" font-size="4.3" text-anchor="end" fill="#333" font-weight="normal" font-style="normal">75</text>
<text x="22.10" y="63.90" font-size="4.3" text-anchor="end" fill="#333" font-weight="normal" font-style="normal">50</text>
<text x="22.10" y="81.20" font-size="4.3" text-anchor="end" fill="#333" font-weight="normal" font-style="normal">25</text>
<text x="22.10" y="98.80" font-size="4.3" text-anchor="end" fill="#333" font-weight="normal" font-style="normal">0</text>
<text x="30.50" y="24.20" font-size="5.5" fill="#222" textLength="69.00" lengthAdjust="spacingAndGlyphs">No prior anti–BCMA therapy</text>
<text x="111.30" y="24.20" font-size="5.5" fill="#222" textLength="60.70" lengthAdjust="spacingAndGlyphs">Prior anti–BCMA therapy</text>
<text class="pv" x="41.50" y="32.90" font-size="5" fill="#444" textLength="13.80" lengthAdjust="spacingAndGlyphs"><tspan font-style="italic">P</tspan> = .43</text>
<text class="pv" x="76.20" y="32.90" font-size="5" fill="#444" textLength="12.30" lengthAdjust="spacingAndGlyphs"><tspan font-style="italic">P</tspan> = .37</text>
<text class="pv" x="118.10" y="32.90" font-size="5" fill="#444" textLength="12.60" lengthAdjust="spacingAndGlyphs"><tspan font-style="italic">P</tspan> = .31</text>
<text class="pv" x="152.20" y="32.90" font-size="5" fill="#444" textLength="12.80" lengthAdjust="spacingAndGlyphs"><tspan font-style="italic">P</tspan> = .31</text>
<text x="48.40" y="109.70" font-size="4.6" text-anchor="middle" fill="#444" font-weight="normal" font-style="normal" textLength="13.80" lengthAdjust="spacingAndGlyphs">Plasma</text>
<text x="48.40" y="114.80" font-size="4.6" text-anchor="middle" fill="#444" font-weight="normal" font-style="normal" textLength="8.28" lengthAdjust="spacingAndGlyphs">cells</text>
<text x="82.00" y="109.70" font-size="4.6" text-anchor="middle" fill="#444" font-weight="normal" font-style="normal" textLength="11.81" lengthAdjust="spacingAndGlyphs">Tumor</text>
<text x="82.00" y="114.80" font-size="4.6" text-anchor="middle" fill="#444" font-weight="normal" font-style="normal" textLength="8.28" lengthAdjust="spacingAndGlyphs">cells</text>
<text x="124.80" y="109.70" font-size="4.6" text-anchor="middle" fill="#444" font-weight="normal" font-style="normal" textLength="13.80" lengthAdjust="spacingAndGlyphs">Plasma</text>
<text x="124.80" y="114.80" font-size="4.6" text-anchor="middle" fill="#444" font-weight="normal" font-style="normal" textLength="8.28" lengthAdjust="spacingAndGlyphs">cells</text>
<text x="158.40" y="109.70" font-size="4.6" text-anchor="middle" fill="#444" font-weight="normal" font-style="normal" textLength="11.81" lengthAdjust="spacingAndGlyphs">Tumor</text>
<text x="158.40" y="114.80" font-size="4.6" text-anchor="middle" fill="#444" font-weight="normal" font-style="normal" textLength="8.28" lengthAdjust="spacingAndGlyphs">cells</text>
<text x="0" y="0" font-size="12.0" font-weight="bold" fill="#000" style="stroke:#000;stroke-width:0.25px" transform="matrix(0.8470,0,0,1.0053,194.219,14.750)">B</text>
<text x="199.10" y="63.30" font-size="6.2" fill="#1a1a1a" style="stroke-width:0.2px" text-anchor="middle" textLength="61.00" lengthAdjust="spacingAndGlyphs" transform="rotate(-90 199.10 63.30)">Mean <tspan font-style="italic">TNFRSF17</tspan> expression</text>
<text x="210.40" y="42.10" font-size="4.3" text-anchor="end" fill="#333" font-weight="normal" font-style="normal">2.5</text>
<text x="210.40" y="57.20" font-size="4.3" text-anchor="end" fill="#333" font-weight="normal" font-style="normal">2.0</text>
<text x="210.40" y="72.60" font-size="4.3" text-anchor="end" fill="#333" font-weight="normal" font-style="normal">1.5</text>
<text x="210.40" y="87.80" font-size="4.3" text-anchor="end" fill="#333" font-weight="normal" font-style="normal">1.0</text>
<text x="218.80" y="25.50" font-size="5.5" fill="#222" textLength="69.00" lengthAdjust="spacingAndGlyphs">No prior anti–BCMA therapy</text>
<text x="299.80" y="25.50" font-size="5.5" fill="#222" textLength="60.50" lengthAdjust="spacingAndGlyphs">Prior anti–BCMA therapy</text>
<text class="pv" x="229.60" y="32.90" font-size="5" fill="#444" textLength="12.60" lengthAdjust="spacingAndGlyphs"><tspan font-style="italic">P</tspan> = .45</text>
<text class="pv" x="263.60" y="32.90" font-size="5" fill="#444" textLength="12.90" lengthAdjust="spacingAndGlyphs"><tspan font-style="italic">P</tspan> = .77</text>
<text class="pv" x="304.90" y="32.90" font-size="5" fill="#444" textLength="13.10" lengthAdjust="spacingAndGlyphs"><tspan font-style="italic">P</tspan> = .09</text>
<text class="pv" x="339.00" y="32.90" font-size="5" fill="#444" textLength="16.00" lengthAdjust="spacingAndGlyphs"><tspan font-style="italic">P</tspan> = .563</text>
<text x="236.20" y="109.70" font-size="4.6" text-anchor="middle" fill="#444" font-weight="normal" font-style="normal" textLength="13.80" lengthAdjust="spacingAndGlyphs">Plasma</text>
<text x="236.20" y="114.80" font-size="4.6" text-anchor="middle" fill="#444" font-weight="normal" font-style="normal" textLength="8.28" lengthAdjust="spacingAndGlyphs">cells</text>
<text x="270.10" y="109.70" font-size="4.6" text-anchor="middle" fill="#444" font-weight="normal" font-style="normal" textLength="11.81" lengthAdjust="spacingAndGlyphs">Tumor</text>
<text x="270.10" y="114.80" font-size="4.6" text-anchor="middle" fill="#444" font-weight="normal" font-style="normal" textLength="8.28" lengthAdjust="spacingAndGlyphs">cells</text>
<text x="313.20" y="109.70" font-size="4.6" text-anchor="middle" fill="#444" font-weight="normal" font-style="normal" textLength="13.80" lengthAdjust="spacingAndGlyphs">Plasma</text>
<text x="313.20" y="114.80" font-size="4.6" text-anchor="middle" fill="#444" font-weight="normal" font-style="normal" textLength="8.28" lengthAdjust="spacingAndGlyphs">cells</text>
<text x="346.40" y="109.70" font-size="4.6" text-anchor="middle" fill="#444" font-weight="normal" font-style="normal" textLength="11.81" lengthAdjust="spacingAndGlyphs">Tumor</text>
<text x="346.40" y="114.80" font-size="4.6" text-anchor="middle" fill="#444" font-weight="normal" font-style="normal" textLength="8.28" lengthAdjust="spacingAndGlyphs">cells</text>
<text x="0" y="0" font-size="12.0" font-weight="bold" fill="#000" style="stroke:#000;stroke-width:0.25px" transform="matrix(0.9429,0,0,1.0122,382.036,14.629)">C</text>
<text x="389.40" y="65.70" font-size="6.2" fill="#1a1a1a" style="stroke-width:0.2px" text-anchor="middle" textLength="73.80" lengthAdjust="spacingAndGlyphs" transform="rotate(-90 389.40 65.70)">Cells expressing BCMA protein (%)</text>
<text x="401.30" y="32.80" font-size="4.3" text-anchor="end" fill="#333" font-weight="normal" font-style="normal">1.00</text>
<text x="401.30" y="49.50" font-size="4.3" text-anchor="end" fill="#333" font-weight="normal" font-style="normal">0.75</text>
<text x="401.30" y="66.10" font-size="4.3" text-anchor="end" fill="#333" font-weight="normal" font-style="normal">0.50</text>
<text x="401.30" y="82.80" font-size="4.3" text-anchor="end" fill="#333" font-weight="normal" font-style="normal">0.25</text>
<text x="401.30" y="99.10" font-size="4.3" text-anchor="end" fill="#333" font-weight="normal" font-style="normal">0.00</text>
<text class="pv" x="419.40" y="26.60" font-size="5" fill="#444" textLength="16.10" lengthAdjust="spacingAndGlyphs"><tspan font-style="italic">P</tspan> = .003</text>
<text class="pv" x="453.90" y="26.60" font-size="5" fill="#444" textLength="15.90" lengthAdjust="spacingAndGlyphs"><tspan font-style="italic">P</tspan> = .180</text>
<text x="427.10" y="110.50" font-size="4.6" text-anchor="middle" fill="#444" font-weight="normal" font-style="normal" textLength="14.72" lengthAdjust="spacingAndGlyphs">No prior</text>
<text x="427.10" y="115.60" font-size="4.6" text-anchor="middle" fill="#444" font-weight="normal" font-style="normal" textLength="23.26" lengthAdjust="spacingAndGlyphs">anti–BCMA</text>
<text x="427.10" y="120.70" font-size="4.6" text-anchor="middle" fill="#444" font-weight="normal" font-style="normal" textLength="13.81" lengthAdjust="spacingAndGlyphs">therapy</text>
<text x="461.60" y="110.50" font-size="4.6" text-anchor="middle" fill="#444" font-weight="normal" font-style="normal" textLength="8.74" lengthAdjust="spacingAndGlyphs">Prior</text>
<text x="461.60" y="115.60" font-size="4.6" text-anchor="middle" fill="#444" font-weight="normal" font-style="normal" textLength="23.26" lengthAdjust="spacingAndGlyphs">anti–BCMA</text>
<text x="461.60" y="120.70" font-size="4.6" text-anchor="middle" fill="#444" font-weight="normal" font-style="normal" textLength="13.81" lengthAdjust="spacingAndGlyphs">therapy</text>
<text x="497.20" y="31.00" font-size="5.0" text-anchor="start" fill="#333" font-weight="normal" font-style="normal" textLength="14.80" lengthAdjust="spacingAndGlyphs">Pre GSI</text>
<text x="497.20" y="38.80" font-size="5.0" text-anchor="start" fill="#333" font-weight="normal" font-style="normal" textLength="17.00" lengthAdjust="spacingAndGlyphs">Post GSI</text>
<text x="0" y="0" font-size="12.0" font-weight="bold" fill="#000" style="stroke:#000;stroke-width:0.25px" transform="matrix(1.0740,0,0,1.0053,6.337,139.750)">D</text>
<text x="12.90" y="198.95" font-size="6.2" fill="#1a1a1a" style="stroke-width:0.2px" text-anchor="middle" textLength="77.30" lengthAdjust="spacingAndGlyphs" transform="rotate(-90 12.90 198.95)">Cells with accessible <tspan font-style="italic">TNFRSF17</tspan> (%)</text>
<text x="22.00" y="173.90" font-size="4.3" text-anchor="end" fill="#333" font-weight="normal" font-style="normal">60</text>
<text x="22.00" y="194.10" font-size="4.3" text-anchor="end" fill="#333" font-weight="normal" font-style="normal">40</text>
<text x="22.00" y="214.40" font-size="4.3" text-anchor="end" fill="#333" font-weight="normal" font-style="normal">20</text>
<text x="22.00" y="234.70" font-size="4.3" text-anchor="end" fill="#333" font-weight="normal" font-style="normal">0</text>
<text x="30.50" y="159.50" font-size="5.5" fill="#222" textLength="69.00" lengthAdjust="spacingAndGlyphs">No prior anti–BCMA therapy</text>
<text x="111.40" y="159.50" font-size="5.5" fill="#222" textLength="60.40" lengthAdjust="spacingAndGlyphs">Prior anti–BCMA therapy</text>
<text class="pv" x="42.00" y="167.80" font-size="5" fill="#444" textLength="13.00" lengthAdjust="spacingAndGlyphs"><tspan font-style="italic">P</tspan> = .48</text>
<text class="pv" x="75.40" y="167.80" font-size="5" fill="#444" textLength="13.00" lengthAdjust="spacingAndGlyphs"><tspan font-style="italic">P</tspan> = .23</text>
<text class="pv" x="118.00" y="167.80" font-size="5" fill="#444" textLength="12.50" lengthAdjust="spacingAndGlyphs"><tspan font-style="italic">P</tspan> = .86</text>
<text class="pv" x="150.60" y="167.80" font-size="5" fill="#444" textLength="16.00" lengthAdjust="spacingAndGlyphs"><tspan font-style="italic">P</tspan> = 1.00</text>
<text x="48.40" y="244.80" font-size="4.6" text-anchor="middle" fill="#444" font-weight="normal" font-style="normal" textLength="13.80" lengthAdjust="spacingAndGlyphs">Plasma</text>
<text x="82.00" y="244.80" font-size="4.6" text-anchor="middle" fill="#444" font-weight="normal" font-style="normal" textLength="11.81" lengthAdjust="spacingAndGlyphs">Tumor</text>
<text x="82.00" y="249.90" font-size="4.6" text-anchor="middle" fill="#444" font-weight="normal" font-style="normal" textLength="8.28" lengthAdjust="spacingAndGlyphs">cells</text>
<text x="124.80" y="244.80" font-size="4.6" text-anchor="middle" fill="#444" font-weight="normal" font-style="normal" textLength="13.80" lengthAdjust="spacingAndGlyphs">Plasma</text>
<text x="124.80" y="249.90" font-size="4.6" text-anchor="middle" fill="#444" font-weight="normal" font-style="normal" textLength="8.28" lengthAdjust="spacingAndGlyphs">cells</text>
<text x="158.40" y="244.80" font-size="4.6" text-anchor="middle" fill="#444" font-weight="normal" font-style="normal" textLength="11.81" lengthAdjust="spacingAndGlyphs">Tumor</text>
<text x="158.40" y="249.90" font-size="4.6" text-anchor="middle" fill="#444" font-weight="normal" font-style="normal" textLength="8.28" lengthAdjust="spacingAndGlyphs">cells</text>
<text x="0" y="0" font-size="12.0" font-weight="bold" fill="#000" style="stroke:#000;stroke-width:0.25px" transform="matrix(0.8467,0,0,0.9811,194.219,139.850)">E</text>
<text x="199.00" y="197.20" font-size="6.2" fill="#1a1a1a" style="stroke-width:0.2px" text-anchor="middle" textLength="70.40" lengthAdjust="spacingAndGlyphs" transform="rotate(-90 199.00 197.20)">Mean <tspan font-style="italic">TNFRSF17</tspan> gene activity score</text>
<text x="210.50" y="166.90" font-size="4.3" text-anchor="end" fill="#333" font-weight="normal" font-style="normal">1.6</text>
<text x="210.50" y="184.50" font-size="4.3" text-anchor="end" fill="#333" font-weight="normal" font-style="normal">1.2</text>
<text x="210.50" y="202.10" font-size="4.3" text-anchor="end" fill="#333" font-weight="normal" font-style="normal">0.8</text>
<text x="210.50" y="219.60" font-size="4.3" text-anchor="end" fill="#333" font-weight="normal" font-style="normal">0.4</text>
<text x="217.80" y="159.10" font-size="5.5" fill="#222" textLength="69.80" lengthAdjust="spacingAndGlyphs">No prior anti–BCMA therapy</text>
<text x="299.60" y="158.70" font-size="5.5" fill="#222" textLength="61.00" lengthAdjust="spacingAndGlyphs">Prior anti–BCMA therapy</text>
<text class="pv" x="228.50" y="167.80" font-size="5" fill="#444" textLength="16.00" lengthAdjust="spacingAndGlyphs"><tspan font-style="italic">P</tspan> = .084</text>
<text class="pv" x="261.90" y="167.80" font-size="5" fill="#444" textLength="16.00" lengthAdjust="spacingAndGlyphs"><tspan font-style="italic">P</tspan> = .322</text>
<text class="pv" x="305.70" y="167.80" font-size="5" fill="#444" textLength="12.20" lengthAdjust="spacingAndGlyphs"><tspan font-style="italic">P</tspan> = .31</text>
<text class="pv" x="339.40" y="167.80" font-size="5" fill="#444" textLength="13.80" lengthAdjust="spacingAndGlyphs"><tspan font-style="italic">P</tspan> = .84</text>
<text x="236.40" y="244.80" font-size="4.6" text-anchor="middle" fill="#444" font-weight="normal" font-style="normal" textLength="13.80" lengthAdjust="spacingAndGlyphs">Plasma</text>
<text x="236.40" y="249.90" font-size="4.6" text-anchor="middle" fill="#444" font-weight="normal" font-style="normal" textLength="8.28" lengthAdjust="spacingAndGlyphs">cells</text>
<text x="270.10" y="244.80" font-size="4.6" text-anchor="middle" fill="#444" font-weight="normal" font-style="normal" textLength="11.81" lengthAdjust="spacingAndGlyphs">Tumor</text>
<text x="270.10" y="249.90" font-size="4.6" text-anchor="middle" fill="#444" font-weight="normal" font-style="normal" textLength="8.28" lengthAdjust="spacingAndGlyphs">cells</text>
<text x="313.00" y="244.80" font-size="4.6" text-anchor="middle" fill="#444" font-weight="normal" font-style="normal" textLength="13.80" lengthAdjust="spacingAndGlyphs">Plasma</text>
<text x="313.00" y="249.90" font-size="4.6" text-anchor="middle" fill="#444" font-weight="normal" font-style="normal" textLength="8.28" lengthAdjust="spacingAndGlyphs">cells</text>
<text x="346.60" y="244.80" font-size="4.6" text-anchor="middle" fill="#444" font-weight="normal" font-style="normal" textLength="11.81" lengthAdjust="spacingAndGlyphs">Tumor</text>
<text x="346.60" y="249.90" font-size="4.6" text-anchor="middle" fill="#444" font-weight="normal" font-style="normal" textLength="8.28" lengthAdjust="spacingAndGlyphs">cells</text>
<text x="0" y="0" font-size="12.0" font-weight="bold" fill="#000" style="stroke:#000;stroke-width:0.25px" transform="matrix(0.8876,0,0,0.9690,382.886,139.850)">F</text>
<text x="386.80" y="189.40" font-size="6.2" fill="#1a1a1a" style="stroke-width:0.2px" text-anchor="middle" textLength="76.40" lengthAdjust="spacingAndGlyphs" transform="rotate(-90 386.80 189.40)">BCMA mean fluorescence intensity</text>
<text x="404.30" y="157.60" font-size="4.3" text-anchor="end" fill="#333" font-weight="normal" font-style="normal">40000</text>
<text x="404.30" y="174.30" font-size="4.3" text-anchor="end" fill="#333" font-weight="normal" font-style="normal">30000</text>
<text x="404.30" y="191.20" font-size="4.3" text-anchor="end" fill="#333" font-weight="normal" font-style="normal">20000</text>
<text x="404.30" y="207.90" font-size="4.3" text-anchor="end" fill="#333" font-weight="normal" font-style="normal">10000</text>
<text x="404.30" y="224.40" font-size="4.3" text-anchor="end" fill="#333" font-weight="normal" font-style="normal">0</text>
<text class="pv" x="419.2" y="153.4" font-size="5" fill="#444" textLength="19.6" lengthAdjust="spacingAndGlyphs"><tspan font-style="italic">P</tspan> = 1.3x10</text><text class="pv" x="439.3" y="150.8" font-size="3.4" fill="#444">−6</text>
<text class="pv" x="456.70" y="153.40" font-size="5" fill="#444" textLength="15.80" lengthAdjust="spacingAndGlyphs"><tspan font-style="italic">P</tspan> = .065</text>
<text x="430.40" y="235.50" font-size="4.6" text-anchor="middle" fill="#444" font-weight="normal" font-style="normal" textLength="14.72" lengthAdjust="spacingAndGlyphs">No prior</text>
<text x="430.40" y="240.60" font-size="4.6" text-anchor="middle" fill="#444" font-weight="normal" font-style="normal" textLength="23.26" lengthAdjust="spacingAndGlyphs">anti–BCMA</text>
<text x="430.40" y="245.70" font-size="4.6" text-anchor="middle" fill="#444" font-weight="normal" font-style="normal" textLength="13.81" lengthAdjust="spacingAndGlyphs">therapy</text>
<text x="464.60" y="235.50" font-size="4.6" text-anchor="middle" fill="#444" font-weight="normal" font-style="normal" textLength="8.74" lengthAdjust="spacingAndGlyphs">Prior</text>
<text x="464.60" y="240.60" font-size="4.6" text-anchor="middle" fill="#444" font-weight="normal" font-style="normal" textLength="23.26" lengthAdjust="spacingAndGlyphs">anti–BCMA</text>
<text x="464.60" y="245.70" font-size="4.6" text-anchor="middle" fill="#444" font-weight="normal" font-style="normal" textLength="13.81" lengthAdjust="spacingAndGlyphs">therapy</text>
<text x="0" y="0" font-size="12.0" font-weight="bold" fill="#000" style="stroke:#000;stroke-width:0.25px" transform="matrix(0.9753,0,0,0.9416,6.520,269.337)">G</text>
<text x="133.60" y="280.20" font-size="4.9" text-anchor="start" fill="#222" font-weight="normal" font-style="normal" textLength="14.00" lengthAdjust="spacingAndGlyphs">Pre GSI</text>
<text x="161.00" y="280.20" font-size="4.9" text-anchor="start" fill="#222" font-weight="normal" font-style="normal" textLength="16.50" lengthAdjust="spacingAndGlyphs">Post GSI</text>
<text x="45.40" y="292.20" font-size="4.4" fill="#222" textLength="48.00" lengthAdjust="spacingAndGlyphs">No prior anti–BCMA : 14</text>
<text x="41.00" y="333.60" font-size="4.2" fill="#333" text-anchor="end" textLength="13.3" lengthAdjust="spacingAndGlyphs">Normal</text>
<text x="41.00" y="329.21" font-size="4.0" fill="#333" text-anchor="end">1</text>
<text x="41.00" y="324.82" font-size="4.0" fill="#333" text-anchor="end">2</text>
<text x="41.00" y="320.43" font-size="4.0" fill="#333" text-anchor="end">3</text>
<text x="41.00" y="316.04" font-size="4.0" fill="#333" text-anchor="end">4</text>
<text x="41.00" y="311.65" font-size="4.0" fill="#333" text-anchor="end">5</text>
<text x="41.00" y="307.26" font-size="4.0" fill="#333" text-anchor="end">6</text>
<text x="41.00" y="302.87" font-size="4.0" fill="#333" text-anchor="end">7</text>
<text x="98.50" y="292.20" font-size="4.4" fill="#222" textLength="48.00" lengthAdjust="spacingAndGlyphs">No prior anti–BCMA : 16</text>
<text x="151.50" y="292.20" font-size="4.4" fill="#222" textLength="48.00" lengthAdjust="spacingAndGlyphs">No prior anti–BCMA : 17</text>
<text x="204.70" y="292.20" font-size="4.4" fill="#222" textLength="48.00" lengthAdjust="spacingAndGlyphs">No prior anti–BCMA : 18</text>
<text x="45.40" y="343.40" font-size="4.4" fill="#222" textLength="48.00" lengthAdjust="spacingAndGlyphs">No prior anti–BCMA : 19</text>
<text x="41.00" y="384.80" font-size="4.2" fill="#333" text-anchor="end" textLength="13.3" lengthAdjust="spacingAndGlyphs">Normal</text>
<text x="41.00" y="380.41" font-size="4.0" fill="#333" text-anchor="end">1</text>
<text x="41.00" y="376.02" font-size="4.0" fill="#333" text-anchor="end">2</text>
<text x="41.00" y="371.63" font-size="4.0" fill="#333" text-anchor="end">3</text>
<text x="41.00" y="367.24" font-size="4.0" fill="#333" text-anchor="end">4</text>
<text x="41.00" y="362.85" font-size="4.0" fill="#333" text-anchor="end">5</text>
<text x="41.00" y="358.46" font-size="4.0" fill="#333" text-anchor="end">6</text>
<text x="41.00" y="354.07" font-size="4.0" fill="#333" text-anchor="end">7</text>
<text x="98.50" y="343.40" font-size="4.4" fill="#222" textLength="48.00" lengthAdjust="spacingAndGlyphs">No prior anti–BCMA : 3</text>
<text x="151.50" y="343.40" font-size="4.4" fill="#222" textLength="48.00" lengthAdjust="spacingAndGlyphs">No prior anti–BCMA : 4</text>
<text x="204.70" y="343.40" font-size="4.4" fill="#222" textLength="48.00" lengthAdjust="spacingAndGlyphs">No prior anti–BCMA : 5</text>
<text x="45.40" y="394.40" font-size="4.4" fill="#222" textLength="48.00" lengthAdjust="spacingAndGlyphs">No prior anti–BCMA : 7</text>
<text x="41.00" y="435.80" font-size="4.2" fill="#333" text-anchor="end" textLength="13.3" lengthAdjust="spacingAndGlyphs">Normal</text>
<text x="41.00" y="431.41" font-size="4.0" fill="#333" text-anchor="end">1</text>
<text x="41.00" y="427.02" font-size="4.0" fill="#333" text-anchor="end">2</text>
<text x="41.00" y="422.63" font-size="4.0" fill="#333" text-anchor="end">3</text>
<text x="41.00" y="418.24" font-size="4.0" fill="#333" text-anchor="end">4</text>
<text x="41.00" y="413.85" font-size="4.0" fill="#333" text-anchor="end">5</text>
<text x="41.00" y="409.46" font-size="4.0" fill="#333" text-anchor="end">6</text>
<text x="41.00" y="405.07" font-size="4.0" fill="#333" text-anchor="end">7</text>
<text x="98.50" y="394.40" font-size="4.4" fill="#222" textLength="48.00" lengthAdjust="spacingAndGlyphs">No prior anti–BCMA : 8</text>
<text x="155.00" y="394.40" font-size="4.4" fill="#222" textLength="41.00" lengthAdjust="spacingAndGlyphs">Prior anti–BCMA : 11</text>
<text x="208.20" y="394.40" font-size="4.4" fill="#222" textLength="41.00" lengthAdjust="spacingAndGlyphs">Prior anti–BCMA : 12</text>
<text x="48.90" y="445.50" font-size="4.4" fill="#222" textLength="41.00" lengthAdjust="spacingAndGlyphs">Prior anti–BCMA : 15</text>
<text x="41.00" y="486.90" font-size="4.2" fill="#333" text-anchor="end" textLength="13.3" lengthAdjust="spacingAndGlyphs">Normal</text>
<text x="41.00" y="482.51" font-size="4.0" fill="#333" text-anchor="end">1</text>
<text x="41.00" y="478.12" font-size="4.0" fill="#333" text-anchor="end">2</text>
<text x="41.00" y="473.73" font-size="4.0" fill="#333" text-anchor="end">3</text>
<text x="41.00" y="469.34" font-size="4.0" fill="#333" text-anchor="end">4</text>
<text x="41.00" y="464.95" font-size="4.0" fill="#333" text-anchor="end">5</text>
<text x="41.00" y="460.56" font-size="4.0" fill="#333" text-anchor="end">6</text>
<text x="41.00" y="456.17" font-size="4.0" fill="#333" text-anchor="end">7</text>
<text x="46.50" y="495.10" font-size="4.6" fill="#222" text-anchor="middle">−1</text>
<text x="54.30" y="495.10" font-size="4.6" fill="#222" text-anchor="middle">0</text>
<text x="62.10" y="495.10" font-size="4.6" fill="#222" text-anchor="middle">1</text>
<text x="69.90" y="495.10" font-size="4.6" fill="#222" text-anchor="middle">2</text>
<text x="77.70" y="495.10" font-size="4.6" fill="#222" text-anchor="middle">3</text>
<text x="85.50" y="495.10" font-size="4.6" fill="#222" text-anchor="middle">4</text>
<text x="93.30" y="495.10" font-size="4.6" fill="#222" text-anchor="middle">5</text>
<text x="102.00" y="445.50" font-size="4.4" fill="#222" textLength="41.00" lengthAdjust="spacingAndGlyphs">Prior anti–BCMA : 2</text>
<text x="99.60" y="495.10" font-size="4.6" fill="#222" text-anchor="middle">−1</text>
<text x="107.40" y="495.10" font-size="4.6" fill="#222" text-anchor="middle">0</text>
<text x="115.20" y="495.10" font-size="4.6" fill="#222" text-anchor="middle">1</text>
<text x="123.00" y="495.10" font-size="4.6" fill="#222" text-anchor="middle">2</text>
<text x="130.80" y="495.10" font-size="4.6" fill="#222" text-anchor="middle">3</text>
<text x="138.60" y="495.10" font-size="4.6" fill="#222" text-anchor="middle">4</text>
<text x="146.40" y="495.10" font-size="4.6" fill="#222" text-anchor="middle">5</text>
<text x="155.00" y="445.50" font-size="4.4" fill="#222" textLength="41.00" lengthAdjust="spacingAndGlyphs">Prior anti–BCMA : 6</text>
<text x="152.60" y="495.10" font-size="4.6" fill="#222" text-anchor="middle">−1</text>
<text x="160.40" y="495.10" font-size="4.6" fill="#222" text-anchor="middle">0</text>
<text x="168.20" y="495.10" font-size="4.6" fill="#222" text-anchor="middle">1</text>
<text x="176.00" y="495.10" font-size="4.6" fill="#222" text-anchor="middle">2</text>
<text x="183.80" y="495.10" font-size="4.6" fill="#222" text-anchor="middle">3</text>
<text x="191.60" y="495.10" font-size="4.6" fill="#222" text-anchor="middle">4</text>
<text x="199.40" y="495.10" font-size="4.6" fill="#222" text-anchor="middle">5</text>
<text x="208.20" y="445.50" font-size="4.4" fill="#222" textLength="41.00" lengthAdjust="spacingAndGlyphs">Prior anti–BCMA : 9</text>
<text x="205.80" y="495.10" font-size="4.6" fill="#222" text-anchor="middle">−1</text>
<text x="213.60" y="495.10" font-size="4.6" fill="#222" text-anchor="middle">0</text>
<text x="221.40" y="495.10" font-size="4.6" fill="#222" text-anchor="middle">1</text>
<text x="229.20" y="495.10" font-size="4.6" fill="#222" text-anchor="middle">2</text>
<text x="237.00" y="495.10" font-size="4.6" fill="#222" text-anchor="middle">3</text>
<text x="244.80" y="495.10" font-size="4.6" fill="#222" text-anchor="middle">4</text>
<text x="252.60" y="495.10" font-size="4.6" fill="#222" text-anchor="middle">5</text>
<text x="23.2" y="388.3" font-size="5.8" fill="#222" text-anchor="middle" textLength="15.2" lengthAdjust="spacingAndGlyphs" transform="rotate(-90 23.2 388.3)">Clones</text>
<text x="124.6" y="503.4" font-size="6.2" fill="#222" font-style="italic" textLength="47.7" lengthAdjust="spacingAndGlyphs">TNFRSF17 expression</text>
<text x="0" y="0" font-size="12.0" font-weight="bold" fill="#000" style="stroke:#000;stroke-width:0.25px" transform="matrix(0.9779,0,0,0.9569,269.814,269.450)">H</text>
<text x="354.6" y="279.9" font-size="4.7" fill="#333" textLength="33.4" lengthAdjust="spacingAndGlyphs"><tspan font-style="italic">TNFRSF17</tspan> copies</text>
<text x="401.70" y="280.10" font-size="4.9" text-anchor="start" fill="#222" font-weight="normal" font-style="normal" textLength="9.30" lengthAdjust="spacingAndGlyphs">Amp</text>
<text x="424.00" y="280.10" font-size="4.9" text-anchor="start" fill="#222" font-weight="normal" font-style="normal" textLength="6.90" lengthAdjust="spacingAndGlyphs">Del</text>
<text x="443.30" y="280.10" font-size="4.9" text-anchor="start" fill="#222" font-weight="normal" font-style="normal" textLength="8.60" lengthAdjust="spacingAndGlyphs">Neu</text>
<text x="302.10" y="292.50" font-size="4.4" fill="#222" textLength="47.00" lengthAdjust="spacingAndGlyphs">No prior anti–BCMA : 14</text>
<text x="297.70" y="317.40" font-size="4.8" fill="#111" style="stroke-width:0.15px" text-anchor="end" textLength="14.0" lengthAdjust="spacingAndGlyphs">Pre GSI</text>
<text x="297.70" y="329.20" font-size="4.8" fill="#111" style="stroke-width:0.15px" text-anchor="end" textLength="15.8" lengthAdjust="spacingAndGlyphs">Post GSI</text>
<text x="355.20" y="292.50" font-size="4.4" fill="#222" textLength="47.00" lengthAdjust="spacingAndGlyphs">No prior anti–BCMA : 16</text>
<text x="407.70" y="292.50" font-size="4.4" fill="#222" textLength="47.00" lengthAdjust="spacingAndGlyphs">No prior anti–BCMA : 17</text>
<text x="460.20" y="292.50" font-size="4.4" fill="#222" textLength="47.00" lengthAdjust="spacingAndGlyphs">No prior anti–BCMA : 18</text>
<text x="302.10" y="343.80" font-size="4.4" fill="#222" textLength="47.00" lengthAdjust="spacingAndGlyphs">No prior anti–BCMA : 19</text>
<text x="297.70" y="368.70" font-size="4.8" fill="#111" style="stroke-width:0.15px" text-anchor="end" textLength="14.0" lengthAdjust="spacingAndGlyphs">Pre GSI</text>
<text x="297.70" y="380.50" font-size="4.8" fill="#111" style="stroke-width:0.15px" text-anchor="end" textLength="15.8" lengthAdjust="spacingAndGlyphs">Post GSI</text>
<text x="355.20" y="343.80" font-size="4.4" fill="#222" textLength="47.00" lengthAdjust="spacingAndGlyphs">No prior anti–BCMA : 3</text>
<text x="407.70" y="343.80" font-size="4.4" fill="#222" textLength="47.00" lengthAdjust="spacingAndGlyphs">No prior anti–BCMA : 4</text>
<text x="460.20" y="343.80" font-size="4.4" fill="#222" textLength="47.00" lengthAdjust="spacingAndGlyphs">No prior anti–BCMA : 5</text>
<text x="302.10" y="394.60" font-size="4.4" fill="#222" textLength="47.00" lengthAdjust="spacingAndGlyphs">No prior anti–BCMA : 7</text>
<text x="297.70" y="419.50" font-size="4.8" fill="#111" style="stroke-width:0.15px" text-anchor="end" textLength="14.0" lengthAdjust="spacingAndGlyphs">Pre GSI</text>
<text x="297.70" y="431.70" font-size="4.8" fill="#111" style="stroke-width:0.15px" text-anchor="end" textLength="15.8" lengthAdjust="spacingAndGlyphs">Post GSI</text>
<text x="355.20" y="394.60" font-size="4.4" fill="#222" textLength="47.00" lengthAdjust="spacingAndGlyphs">No prior anti–BCMA : 8</text>
<text x="410.95" y="394.60" font-size="4.4" fill="#222" textLength="40.50" lengthAdjust="spacingAndGlyphs">Prior anti–BCMA : 11</text>
<text x="463.45" y="394.60" font-size="4.4" fill="#222" textLength="40.50" lengthAdjust="spacingAndGlyphs">Prior anti–BCMA : 12</text>
<text x="305.35" y="445.40" font-size="4.4" fill="#222" textLength="40.50" lengthAdjust="spacingAndGlyphs">Prior anti–BCMA : 15</text>
<text x="297.70" y="470.30" font-size="4.8" fill="#111" style="stroke-width:0.15px" text-anchor="end" textLength="14.0" lengthAdjust="spacingAndGlyphs">Pre GSI</text>
<text x="297.70" y="482.20" font-size="4.8" fill="#111" style="stroke-width:0.15px" text-anchor="end" textLength="15.8" lengthAdjust="spacingAndGlyphs">Post GSI</text>
<text x="302.70" y="495.20" font-size="4.6" fill="#222" text-anchor="middle">−1</text>
<text x="310.50" y="495.20" font-size="4.6" fill="#222" text-anchor="middle">0</text>
<text x="318.30" y="495.20" font-size="4.6" fill="#222" text-anchor="middle">1</text>
<text x="326.10" y="495.20" font-size="4.6" fill="#222" text-anchor="middle">2</text>
<text x="333.90" y="495.20" font-size="4.6" fill="#222" text-anchor="middle">3</text>
<text x="341.70" y="495.20" font-size="4.6" fill="#222" text-anchor="middle">4</text>
<text x="349.50" y="495.20" font-size="4.6" fill="#222" text-anchor="middle">5</text>
<text x="358.45" y="445.40" font-size="4.4" fill="#222" textLength="40.50" lengthAdjust="spacingAndGlyphs">Prior anti–BCMA : 2</text>
<text x="355.80" y="495.20" font-size="4.6" fill="#222" text-anchor="middle">−1</text>
<text x="363.60" y="495.20" font-size="4.6" fill="#222" text-anchor="middle">0</text>
<text x="371.40" y="495.20" font-size="4.6" fill="#222" text-anchor="middle">1</text>
<text x="379.20" y="495.20" font-size="4.6" fill="#222" text-anchor="middle">2</text>
<text x="387.00" y="495.20" font-size="4.6" fill="#222" text-anchor="middle">3</text>
<text x="394.80" y="495.20" font-size="4.6" fill="#222" text-anchor="middle">4</text>
<text x="402.60" y="495.20" font-size="4.6" fill="#222" text-anchor="middle">5</text>
<text x="410.95" y="445.40" font-size="4.4" fill="#222" textLength="40.50" lengthAdjust="spacingAndGlyphs">Prior anti–BCMA : 6</text>
<text x="408.30" y="495.20" font-size="4.6" fill="#222" text-anchor="middle">−1</text>
<text x="416.10" y="495.20" font-size="4.6" fill="#222" text-anchor="middle">0</text>
<text x="423.90" y="495.20" font-size="4.6" fill="#222" text-anchor="middle">1</text>
<text x="431.70" y="495.20" font-size="4.6" fill="#222" text-anchor="middle">2</text>
<text x="439.50" y="495.20" font-size="4.6" fill="#222" text-anchor="middle">3</text>
<text x="447.30" y="495.20" font-size="4.6" fill="#222" text-anchor="middle">4</text>
<text x="455.10" y="495.20" font-size="4.6" fill="#222" text-anchor="middle">5</text>
<text x="463.45" y="445.40" font-size="4.4" fill="#222" textLength="40.50" lengthAdjust="spacingAndGlyphs">Prior anti–BCMA : 9</text>
<text x="460.80" y="495.20" font-size="4.6" fill="#222" text-anchor="middle">−1</text>
<text x="468.60" y="495.20" font-size="4.6" fill="#222" text-anchor="middle">0</text>
<text x="476.40" y="495.20" font-size="4.6" fill="#222" text-anchor="middle">1</text>
<text x="484.20" y="495.20" font-size="4.6" fill="#222" text-anchor="middle">2</text>
<text x="492.00" y="495.20" font-size="4.6" fill="#222" text-anchor="middle">3</text>
<text x="499.80" y="495.20" font-size="4.6" fill="#222" text-anchor="middle">4</text>
<text x="507.60" y="495.20" font-size="4.6" fill="#222" text-anchor="middle">5</text>
<text x="380.8" y="503.4" font-size="6.2" fill="#222" font-style="italic" textLength="46.9" lengthAdjust="spacingAndGlyphs">TNFRSF17 expression</text>
</g>
<rect x="0.5" y="0.5" width="519" height="511" fill="none" stroke="#5a5a5a" stroke-width="1"/>
</svg>
</body></html>
